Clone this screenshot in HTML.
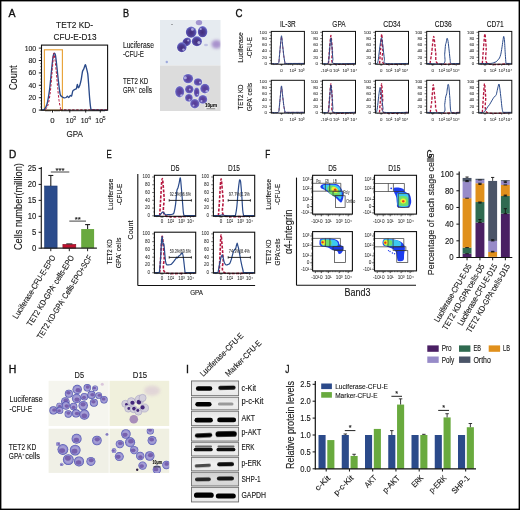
<!DOCTYPE html>
<html><head><meta charset="utf-8"><style>
html,body{margin:0;padding:0;background:#fff;overflow:hidden;width:520px;height:510px;}
svg{display:block;will-change:transform;}
text{font-family:"Liberation Sans", sans-serif;}
</style></head><body>
<svg width="520" height="510" viewBox="0 0 520 510" font-family='"Liberation Sans", sans-serif'>
<defs>
<filter id="bl" x="-50%" y="-50%" width="200%" height="200%"><feGaussianBlur stdDeviation="0.55"/></filter>
<filter id="bl3" x="-50%" y="-50%" width="200%" height="200%"><feGaussianBlur stdDeviation="0.75"/></filter>
<filter id="bl2" x="-50%" y="-50%" width="200%" height="200%"><feGaussianBlur stdDeviation="1.5"/></filter>
<radialGradient id="gB" cx="48%" cy="55%" r="50%"><stop offset="0" stop-color="#432e7c"/><stop offset="0.6" stop-color="#4e3e94"/><stop offset="0.86" stop-color="#5a56b2"/><stop offset="1" stop-color="#7476cc"/></radialGradient><radialGradient id="gB2" cx="50%" cy="50%" r="50%"><stop offset="0" stop-color="#563c94"/><stop offset="0.6" stop-color="#5e4aa6"/><stop offset="0.85" stop-color="#6a66be"/><stop offset="1" stop-color="#8486d6"/></radialGradient>
<radialGradient id="gH" cx="50%" cy="50%" r="50%"><stop offset="0" stop-color="#9c92cc"/><stop offset="0.55" stop-color="#a6a0d6"/><stop offset="0.78" stop-color="#8e8ace"/><stop offset="0.9" stop-color="#6668bc"/><stop offset="1" stop-color="#4e50a8"/></radialGradient>
<linearGradient id="gstrip" x1="0" y1="0" x2="0" y2="1"><stop offset="0" stop-color="#e2e2e2"/><stop offset="0.5" stop-color="#f0f0f0"/><stop offset="1" stop-color="#e8e8e8"/></linearGradient><linearGradient id="gstrip2" x1="0" y1="0" x2="0" y2="1"><stop offset="0" stop-color="#d0d0d0"/><stop offset="0.5" stop-color="#dcdcdc"/><stop offset="1" stop-color="#d4d4d4"/></linearGradient>
<clipPath id="clipB1"><rect x="160" y="20" width="60.5" height="45.5"/></clipPath>
<clipPath id="clipH1"><rect x="48.6" y="380.8" width="60.1" height="45.2"/></clipPath>
<clipPath id="clipH2"><rect x="109.5" y="380.8" width="59.7" height="45.2"/></clipPath>
<clipPath id="clipH3"><rect x="48.6" y="428.7" width="60.1" height="44.2"/></clipPath>
<clipPath id="clipH4"><rect x="109.5" y="428.7" width="59.7" height="44.2"/></clipPath>
</defs>
<rect width="520" height="510" fill="#fff"/>
<text x="8.60" y="16.80" font-size="10.61" textLength="7.00" lengthAdjust="spacingAndGlyphs" fill="#111" stroke="#111" stroke-width="0.35">A</text>
<text x="56.10" y="28.00" font-size="9.30" textLength="37.00" lengthAdjust="spacingAndGlyphs" fill="#161616" stroke="#161616" stroke-width="0.12">TET2 KD-</text>
<text x="53.50" y="39.50" font-size="9.30" textLength="43.00" lengthAdjust="spacingAndGlyphs" fill="#161616" stroke="#161616" stroke-width="0.12">CFU-E-D13</text>
<text x="36.20" y="112.60" font-size="7.84" text-anchor="end" textLength="3.85" lengthAdjust="spacingAndGlyphs" fill="#161616" stroke="#161616" stroke-width="0.12">0</text>
<line x1="38.80" y1="110.10" x2="41.50" y2="110.10" stroke="#111" stroke-width="0.9"/>
<text x="36.20" y="100.20" font-size="7.84" text-anchor="end" textLength="7.70" lengthAdjust="spacingAndGlyphs" fill="#161616" stroke="#161616" stroke-width="0.12">20</text>
<line x1="38.80" y1="97.70" x2="41.50" y2="97.70" stroke="#111" stroke-width="0.9"/>
<text x="36.20" y="87.80" font-size="7.84" text-anchor="end" textLength="7.70" lengthAdjust="spacingAndGlyphs" fill="#161616" stroke="#161616" stroke-width="0.12">40</text>
<line x1="38.80" y1="85.30" x2="41.50" y2="85.30" stroke="#111" stroke-width="0.9"/>
<text x="36.20" y="75.40" font-size="7.84" text-anchor="end" textLength="7.70" lengthAdjust="spacingAndGlyphs" fill="#161616" stroke="#161616" stroke-width="0.12">60</text>
<line x1="38.80" y1="72.90" x2="41.50" y2="72.90" stroke="#111" stroke-width="0.9"/>
<text x="36.20" y="63.00" font-size="7.84" text-anchor="end" textLength="7.70" lengthAdjust="spacingAndGlyphs" fill="#161616" stroke="#161616" stroke-width="0.12">80</text>
<line x1="38.80" y1="60.50" x2="41.50" y2="60.50" stroke="#111" stroke-width="0.9"/>
<text x="36.20" y="50.60" font-size="7.84" text-anchor="end" textLength="11.54" lengthAdjust="spacingAndGlyphs" fill="#161616" stroke="#161616" stroke-width="0.12">100</text>
<line x1="38.80" y1="48.10" x2="41.50" y2="48.10" stroke="#111" stroke-width="0.9"/>
<line x1="40.20" y1="110.10" x2="41.50" y2="110.10" stroke="#111" stroke-width="0.6"/>
<line x1="40.20" y1="107.00" x2="41.50" y2="107.00" stroke="#111" stroke-width="0.6"/>
<line x1="40.20" y1="103.90" x2="41.50" y2="103.90" stroke="#111" stroke-width="0.6"/>
<line x1="40.20" y1="100.80" x2="41.50" y2="100.80" stroke="#111" stroke-width="0.6"/>
<line x1="40.20" y1="97.70" x2="41.50" y2="97.70" stroke="#111" stroke-width="0.6"/>
<line x1="40.20" y1="94.60" x2="41.50" y2="94.60" stroke="#111" stroke-width="0.6"/>
<line x1="40.20" y1="91.50" x2="41.50" y2="91.50" stroke="#111" stroke-width="0.6"/>
<line x1="40.20" y1="88.40" x2="41.50" y2="88.40" stroke="#111" stroke-width="0.6"/>
<line x1="40.20" y1="85.30" x2="41.50" y2="85.30" stroke="#111" stroke-width="0.6"/>
<line x1="40.20" y1="82.20" x2="41.50" y2="82.20" stroke="#111" stroke-width="0.6"/>
<line x1="40.20" y1="79.10" x2="41.50" y2="79.10" stroke="#111" stroke-width="0.6"/>
<line x1="40.20" y1="76.00" x2="41.50" y2="76.00" stroke="#111" stroke-width="0.6"/>
<line x1="40.20" y1="72.90" x2="41.50" y2="72.90" stroke="#111" stroke-width="0.6"/>
<line x1="40.20" y1="69.80" x2="41.50" y2="69.80" stroke="#111" stroke-width="0.6"/>
<line x1="40.20" y1="66.70" x2="41.50" y2="66.70" stroke="#111" stroke-width="0.6"/>
<line x1="40.20" y1="63.60" x2="41.50" y2="63.60" stroke="#111" stroke-width="0.6"/>
<line x1="40.20" y1="60.50" x2="41.50" y2="60.50" stroke="#111" stroke-width="0.6"/>
<line x1="40.20" y1="57.40" x2="41.50" y2="57.40" stroke="#111" stroke-width="0.6"/>
<line x1="40.20" y1="54.30" x2="41.50" y2="54.30" stroke="#111" stroke-width="0.6"/>
<line x1="40.20" y1="51.20" x2="41.50" y2="51.20" stroke="#111" stroke-width="0.6"/>
<text x="17.30" y="77.70" font-size="10.30" text-anchor="middle" transform="rotate(-90 17.30 77.70)" textLength="24.70" lengthAdjust="spacingAndGlyphs" fill="#161616" stroke="#161616" stroke-width="0.12">Count</text>
<rect x="44.40" y="49.80" width="18.00" height="60.40" fill="none" stroke="#e8a238" stroke-width="1.15"/>
<path d="M42.00,109.91 C42.24,109.88 43.53,110.23 44.10,109.60 C44.67,108.97 46.26,106.89 46.90,104.52 C47.54,102.15 49.04,93.53 49.60,89.33 C50.16,85.13 51.30,72.33 51.70,68.56 C52.10,64.79 52.77,58.69 53.00,57.03 C53.23,55.36 53.50,54.73 53.70,54.30 C53.90,53.87 54.50,53.23 54.70,53.31 C54.90,53.39 55.19,53.82 55.40,54.98 C55.61,56.14 56.22,60.82 56.50,63.23 C56.78,65.64 57.48,72.75 57.80,75.63 C58.11,78.51 58.91,85.67 59.20,87.90 C59.49,90.14 59.97,93.74 60.30,94.79 C60.63,95.83 61.57,96.48 62.00,96.83 C62.43,97.19 63.52,97.74 64.00,97.82 C64.48,97.90 65.70,97.70 66.10,97.51 C66.50,97.33 67.09,96.21 67.40,96.21 C67.72,96.21 68.47,97.59 68.80,97.51 C69.13,97.43 69.87,95.72 70.20,95.53 C70.53,95.34 71.28,96.47 71.60,95.90 C71.91,95.34 72.50,91.46 72.90,90.69 C73.30,89.93 74.59,89.58 75.00,89.33 C75.41,89.08 76.13,89.15 76.40,88.59 C76.67,88.02 77.07,84.57 77.30,84.49 C77.53,84.41 78.11,87.82 78.40,87.90 C78.69,87.98 79.47,86.13 79.80,85.18 C80.13,84.22 80.89,81.32 81.20,79.72 C81.52,78.12 82.19,72.76 82.50,71.47 C82.81,70.19 83.57,69.49 83.90,68.68 C84.23,67.88 85.01,64.67 85.30,64.59 C85.59,64.51 86.11,66.88 86.40,68.00 C86.69,69.12 87.53,72.20 87.80,74.20 C88.07,76.21 88.48,82.29 88.70,85.18 C88.92,88.06 89.45,96.22 89.70,98.94 C89.95,101.66 90.51,107.21 90.80,108.49 C91.09,109.77 90.28,109.73 92.20,109.91 C94.12,110.10 105.54,110.08 107.30,110.10" stroke="#2a4a8a" stroke-width="1.35" fill="none" stroke-linejoin="round"/>
<path d="M45.50,109.60 C45.81,109.01 47.64,106.56 48.20,104.52 C48.76,102.48 49.81,96.32 50.30,92.12 C50.79,87.92 52.00,73.12 52.40,68.56 C52.80,64.00 53.39,54.00 53.70,53.06 C54.02,52.12 54.77,58.04 55.10,60.50 C55.43,62.96 56.19,70.78 56.50,74.14 C56.81,77.50 57.48,86.13 57.80,89.33 C58.11,92.53 58.87,99.40 59.20,101.61 C59.53,103.81 60.27,107.29 60.60,108.24 C60.93,109.19 56.59,109.61 62.00,109.79 C67.41,109.97 101.75,109.79 107.00,109.79" stroke="#b5173f" stroke-width="1.0" fill="none" stroke-dasharray="2.4,1.6"/>
<rect x="41.50" y="45.10" width="66.10" height="65.10" fill="none" stroke="#111" stroke-width="1.1"/>
<line x1="46.00" y1="110.20" x2="46.00" y2="111.60" stroke="#111" stroke-width="0.7"/>
<line x1="48.00" y1="110.20" x2="48.00" y2="111.60" stroke="#111" stroke-width="0.7"/>
<line x1="50.00" y1="110.20" x2="50.00" y2="111.60" stroke="#111" stroke-width="0.7"/>
<line x1="52.50" y1="110.20" x2="52.50" y2="111.60" stroke="#111" stroke-width="0.7"/>
<line x1="55.00" y1="110.20" x2="55.00" y2="111.60" stroke="#111" stroke-width="0.7"/>
<line x1="57.00" y1="110.20" x2="57.00" y2="111.60" stroke="#111" stroke-width="0.7"/>
<line x1="59.00" y1="110.20" x2="59.00" y2="111.60" stroke="#111" stroke-width="0.7"/>
<line x1="62.00" y1="110.20" x2="62.00" y2="111.60" stroke="#111" stroke-width="0.7"/>
<line x1="64.00" y1="110.20" x2="64.00" y2="111.60" stroke="#111" stroke-width="0.7"/>
<line x1="66.00" y1="110.20" x2="66.00" y2="111.60" stroke="#111" stroke-width="0.7"/>
<line x1="68.00" y1="110.20" x2="68.00" y2="111.60" stroke="#111" stroke-width="0.7"/>
<line x1="70.00" y1="110.20" x2="70.00" y2="111.60" stroke="#111" stroke-width="0.7"/>
<line x1="72.00" y1="110.20" x2="72.00" y2="111.60" stroke="#111" stroke-width="0.7"/>
<line x1="74.00" y1="110.20" x2="74.00" y2="111.60" stroke="#111" stroke-width="0.7"/>
<line x1="76.00" y1="110.20" x2="76.00" y2="111.60" stroke="#111" stroke-width="0.7"/>
<line x1="78.00" y1="110.20" x2="78.00" y2="111.60" stroke="#111" stroke-width="0.7"/>
<line x1="80.00" y1="110.20" x2="80.00" y2="111.60" stroke="#111" stroke-width="0.7"/>
<line x1="82.00" y1="110.20" x2="82.00" y2="111.60" stroke="#111" stroke-width="0.7"/>
<line x1="84.00" y1="110.20" x2="84.00" y2="111.60" stroke="#111" stroke-width="0.7"/>
<line x1="86.00" y1="110.20" x2="86.00" y2="111.60" stroke="#111" stroke-width="0.7"/>
<line x1="88.00" y1="110.20" x2="88.00" y2="111.60" stroke="#111" stroke-width="0.7"/>
<line x1="90.00" y1="110.20" x2="90.00" y2="111.60" stroke="#111" stroke-width="0.7"/>
<line x1="92.00" y1="110.20" x2="92.00" y2="111.60" stroke="#111" stroke-width="0.7"/>
<line x1="94.00" y1="110.20" x2="94.00" y2="111.60" stroke="#111" stroke-width="0.7"/>
<line x1="96.00" y1="110.20" x2="96.00" y2="111.60" stroke="#111" stroke-width="0.7"/>
<line x1="98.00" y1="110.20" x2="98.00" y2="111.60" stroke="#111" stroke-width="0.7"/>
<line x1="100.00" y1="110.20" x2="100.00" y2="111.60" stroke="#111" stroke-width="0.7"/>
<line x1="102.00" y1="110.20" x2="102.00" y2="111.60" stroke="#111" stroke-width="0.7"/>
<line x1="104.00" y1="110.20" x2="104.00" y2="111.60" stroke="#111" stroke-width="0.7"/>
<line x1="52.50" y1="110.20" x2="52.50" y2="112.60" stroke="#111" stroke-width="0.9"/>
<line x1="69.80" y1="110.20" x2="69.80" y2="112.60" stroke="#111" stroke-width="0.9"/>
<line x1="85.70" y1="110.20" x2="85.70" y2="112.60" stroke="#111" stroke-width="0.9"/>
<line x1="100.30" y1="110.20" x2="100.30" y2="112.60" stroke="#111" stroke-width="0.9"/>
<text x="52.50" y="123.20" font-size="7.84" text-anchor="middle" fill="#161616" stroke="#161616" stroke-width="0.12">0</text>
<text x="69.70" y="123.20" font-size="7.84" text-anchor="middle" textLength="7.70" lengthAdjust="spacingAndGlyphs" fill="#161616" stroke="#161616" stroke-width="0.12">10</text>
<text x="74.60" y="119.50" font-size="5.60" text-anchor="middle" fill="#161616" stroke="#161616" stroke-width="0.05">3</text>
<text x="84.60" y="123.20" font-size="7.84" text-anchor="middle" textLength="7.70" lengthAdjust="spacingAndGlyphs" fill="#161616" stroke="#161616" stroke-width="0.12">10</text>
<text x="89.50" y="119.50" font-size="5.60" text-anchor="middle" fill="#161616" stroke="#161616" stroke-width="0.05">4</text>
<text x="99.20" y="123.20" font-size="7.84" text-anchor="middle" textLength="7.70" lengthAdjust="spacingAndGlyphs" fill="#161616" stroke="#161616" stroke-width="0.12">10</text>
<text x="104.10" y="119.50" font-size="5.60" text-anchor="middle" fill="#161616" stroke="#161616" stroke-width="0.05">5</text>
<text x="66.60" y="136.60" font-size="8.96" textLength="16.30" lengthAdjust="spacingAndGlyphs" fill="#161616" stroke="#161616" stroke-width="0.12">GPA</text>
<text x="122.90" y="16.80" font-size="10.61" textLength="6.10" lengthAdjust="spacingAndGlyphs" fill="#111" stroke="#111" stroke-width="0.35">B</text>
<text x="122.90" y="48.20" font-size="8.51" textLength="31.00" lengthAdjust="spacingAndGlyphs" fill="#161616" stroke="#161616" stroke-width="0.12">Luciferase</text>
<text x="122.90" y="56.70" font-size="8.51" textLength="21.00" lengthAdjust="spacingAndGlyphs" fill="#161616" stroke="#161616" stroke-width="0.12">-CFU-E</text>
<text x="122.90" y="83.75" font-size="8.51" textLength="25.30" lengthAdjust="spacingAndGlyphs" fill="#161616" stroke="#161616" stroke-width="0.12">TET2 KD</text>
<text x="122.90" y="92.70" font-size="8.51" textLength="11.80" lengthAdjust="spacingAndGlyphs" fill="#161616" stroke="#161616" stroke-width="0.12">GPA</text>
<line x1="135.20" y1="87.90" x2="136.70" y2="87.90" stroke="#222" stroke-width="0.75"/>
<text x="138.80" y="92.70" font-size="8.51" textLength="13.20" lengthAdjust="spacingAndGlyphs" fill="#161616" stroke="#161616" stroke-width="0.12">cells</text>
<rect x="160.00" y="20.00" width="60.50" height="45.50" fill="#e6ebf0"/>
<rect x="160.00" y="65.50" width="60.50" height="45.50" fill="#dcdcdc"/>
<text x="235.60" y="16.90" font-size="10.61" textLength="7.00" lengthAdjust="spacingAndGlyphs" fill="#111" stroke="#111" stroke-width="0.35">C</text>
<text x="287.85" y="26.50" font-size="8.29" text-anchor="middle" textLength="15.80" lengthAdjust="spacingAndGlyphs" fill="#161616" stroke="#161616" stroke-width="0.12">IL-3R</text>
<text x="338.95" y="26.50" font-size="8.29" text-anchor="middle" textLength="13.20" lengthAdjust="spacingAndGlyphs" fill="#161616" stroke="#161616" stroke-width="0.12">GPA</text>
<text x="391.95" y="26.50" font-size="8.29" text-anchor="middle" textLength="17.40" lengthAdjust="spacingAndGlyphs" fill="#161616" stroke="#161616" stroke-width="0.12">CD34</text>
<text x="443.25" y="26.50" font-size="8.29" text-anchor="middle" textLength="17.00" lengthAdjust="spacingAndGlyphs" fill="#161616" stroke="#161616" stroke-width="0.12">CD36</text>
<text x="495.25" y="26.50" font-size="8.29" text-anchor="middle" textLength="17.00" lengthAdjust="spacingAndGlyphs" fill="#161616" stroke="#161616" stroke-width="0.12">CD71</text>
<text x="242.50" y="47.50" font-size="8.06" text-anchor="middle" transform="rotate(-90 242.50 47.50)" textLength="30.50" lengthAdjust="spacingAndGlyphs" fill="#161616" stroke="#161616" stroke-width="0.12">Luciferase</text>
<text x="251.50" y="47.50" font-size="8.06" text-anchor="middle" transform="rotate(-90 251.50 47.50)" textLength="21.00" lengthAdjust="spacingAndGlyphs" fill="#161616" stroke="#161616" stroke-width="0.12">-CFU-E</text>
<text x="242.50" y="97.00" font-size="8.06" text-anchor="middle" transform="rotate(-90 242.50 97.00)" textLength="25.00" lengthAdjust="spacingAndGlyphs" fill="#161616" stroke="#161616" stroke-width="0.12">TET2 KD</text>
<text x="251.50" y="97.00" font-size="8.06" text-anchor="middle" transform="rotate(-90 251.50 97.00)" textLength="28.00" lengthAdjust="spacingAndGlyphs" fill="#161616" stroke="#161616" stroke-width="0.12">GPA<tspan dy="-2.90" font-size="4.84">-</tspan><tspan dy="2.90"> cells</tspan></text>
<path d="M271.30,63.45 C272.22,63.45 277.13,64.24 278.20,63.45 C279.27,62.66 278.99,60.02 279.30,57.53 C279.61,55.04 280.21,47.57 280.50,44.78 C280.79,41.98 281.23,36.58 281.50,36.58 C281.77,36.58 282.19,42.19 282.50,44.78 C282.81,47.37 283.47,53.58 283.80,56.01 C284.13,58.44 284.73,62.00 285.00,62.99 C285.27,63.98 283.23,63.39 285.80,63.45 C288.37,63.51 301.83,63.45 304.30,63.45" stroke="#b5173f" stroke-width="0.8" fill="none" stroke-dasharray="2.8,1.6"/>
<path d="M271.30,63.44 C272.22,63.44 277.13,64.26 278.20,63.44 C279.27,62.63 278.99,59.91 279.30,57.34 C279.61,54.77 280.21,47.07 280.50,44.19 C280.79,41.31 281.23,35.74 281.50,35.74 C281.77,35.74 282.19,41.52 282.50,44.19 C282.81,46.86 283.47,53.27 283.80,55.77 C284.13,58.28 284.73,61.95 285.00,62.97 C285.27,64.00 283.23,63.38 285.80,63.44 C288.37,63.51 301.83,63.44 304.30,63.44" stroke="#2a4a8a" stroke-width="1.0" fill="none"/>
<rect x="271.30" y="31.40" width="33.10" height="32.80" fill="none" stroke="#111" stroke-width="1.0"/>
<text x="266.90" y="65.00" font-size="4.37" text-anchor="end" fill="#333" stroke="#333" stroke-width="0.05">0</text>
<line x1="269.10" y1="63.60" x2="271.30" y2="63.60" stroke="#111" stroke-width="0.6"/>
<text x="266.90" y="58.74" font-size="4.37" text-anchor="end" fill="#333" stroke="#333" stroke-width="0.05">20</text>
<line x1="269.10" y1="57.34" x2="271.30" y2="57.34" stroke="#111" stroke-width="0.6"/>
<text x="266.90" y="52.48" font-size="4.37" text-anchor="end" fill="#333" stroke="#333" stroke-width="0.05">40</text>
<line x1="269.10" y1="51.08" x2="271.30" y2="51.08" stroke="#111" stroke-width="0.6"/>
<text x="266.90" y="46.22" font-size="4.37" text-anchor="end" fill="#333" stroke="#333" stroke-width="0.05">60</text>
<line x1="269.10" y1="44.82" x2="271.30" y2="44.82" stroke="#111" stroke-width="0.6"/>
<text x="266.90" y="39.96" font-size="4.37" text-anchor="end" fill="#333" stroke="#333" stroke-width="0.05">80</text>
<line x1="269.10" y1="38.56" x2="271.30" y2="38.56" stroke="#111" stroke-width="0.6"/>
<text x="266.90" y="33.70" font-size="4.37" text-anchor="end" fill="#333" stroke="#333" stroke-width="0.05">100</text>
<line x1="269.10" y1="32.30" x2="271.30" y2="32.30" stroke="#111" stroke-width="0.6"/>
<line x1="270.10" y1="60.47" x2="271.30" y2="60.47" stroke="#111" stroke-width="0.5"/>
<line x1="270.10" y1="54.21" x2="271.30" y2="54.21" stroke="#111" stroke-width="0.5"/>
<line x1="270.10" y1="47.95" x2="271.30" y2="47.95" stroke="#111" stroke-width="0.5"/>
<line x1="270.10" y1="41.69" x2="271.30" y2="41.69" stroke="#111" stroke-width="0.5"/>
<line x1="270.10" y1="35.43" x2="271.30" y2="35.43" stroke="#111" stroke-width="0.5"/>
<line x1="281.50" y1="64.20" x2="281.50" y2="65.80" stroke="#111" stroke-width="0.6"/>
<line x1="280.30" y1="64.20" x2="280.30" y2="65.20" stroke="#111" stroke-width="0.45"/>
<line x1="280.90" y1="64.20" x2="280.90" y2="65.20" stroke="#111" stroke-width="0.45"/>
<line x1="282.10" y1="64.20" x2="282.10" y2="65.20" stroke="#111" stroke-width="0.45"/>
<line x1="282.70" y1="64.20" x2="282.70" y2="65.20" stroke="#111" stroke-width="0.45"/>
<text x="281.50" y="72.20" font-size="4.37" text-anchor="middle" fill="#333" stroke="#333" stroke-width="0.05">0</text>
<line x1="292.70" y1="64.20" x2="292.70" y2="65.80" stroke="#111" stroke-width="0.6"/>
<text x="292.70" y="72.20" font-size="4.37" text-anchor="middle" fill="#333" stroke="#333" stroke-width="0.05">10&#178;</text>
<line x1="301.30" y1="64.20" x2="301.30" y2="65.80" stroke="#111" stroke-width="0.6"/>
<text x="301.30" y="72.20" font-size="4.37" text-anchor="middle" fill="#333" stroke="#333" stroke-width="0.05">10&#179;</text>
<line x1="273.80" y1="64.20" x2="273.80" y2="65.10" stroke="#111" stroke-width="0.45"/>
<line x1="288.30" y1="64.20" x2="288.30" y2="65.10" stroke="#111" stroke-width="0.45"/>
<line x1="290.30" y1="64.20" x2="290.30" y2="65.10" stroke="#111" stroke-width="0.45"/>
<line x1="297.30" y1="64.20" x2="297.30" y2="65.10" stroke="#111" stroke-width="0.45"/>
<line x1="299.30" y1="64.20" x2="299.30" y2="65.10" stroke="#111" stroke-width="0.45"/>
<path d="M328.40,63.60 C328.53,61.93 329.07,54.84 329.40,51.08 C329.73,47.32 330.50,35.43 330.90,35.43 C331.30,35.43 332.07,47.32 332.40,51.08 C332.73,54.84 330.33,61.93 333.40,63.60 C336.47,65.27 352.47,63.60 355.40,63.60" stroke="#b5173f" stroke-width="1.35" fill="none" stroke-dasharray="2.8,1.6"/>
<path d="M322.40,63.44 C323.13,63.44 327.03,64.05 327.90,63.44 C328.77,62.84 328.63,61.18 328.90,58.90 C329.17,56.63 329.63,49.18 329.90,46.38 C330.17,43.59 330.63,37.93 330.90,37.93 C331.17,37.93 331.63,43.59 331.90,46.38 C332.17,49.18 332.63,56.63 332.90,58.90 C333.17,61.18 330.90,62.84 333.90,63.44 C336.90,64.05 352.53,63.44 355.40,63.44" stroke="#2a4a8a" stroke-width="1.0" fill="none"/>
<rect x="322.40" y="31.40" width="33.10" height="32.80" fill="none" stroke="#111" stroke-width="1.0"/>
<text x="318.00" y="65.00" font-size="4.37" text-anchor="end" fill="#333" stroke="#333" stroke-width="0.05">0</text>
<line x1="320.20" y1="63.60" x2="322.40" y2="63.60" stroke="#111" stroke-width="0.6"/>
<text x="318.00" y="58.74" font-size="4.37" text-anchor="end" fill="#333" stroke="#333" stroke-width="0.05">20</text>
<line x1="320.20" y1="57.34" x2="322.40" y2="57.34" stroke="#111" stroke-width="0.6"/>
<text x="318.00" y="52.48" font-size="4.37" text-anchor="end" fill="#333" stroke="#333" stroke-width="0.05">40</text>
<line x1="320.20" y1="51.08" x2="322.40" y2="51.08" stroke="#111" stroke-width="0.6"/>
<text x="318.00" y="46.22" font-size="4.37" text-anchor="end" fill="#333" stroke="#333" stroke-width="0.05">60</text>
<line x1="320.20" y1="44.82" x2="322.40" y2="44.82" stroke="#111" stroke-width="0.6"/>
<text x="318.00" y="39.96" font-size="4.37" text-anchor="end" fill="#333" stroke="#333" stroke-width="0.05">80</text>
<line x1="320.20" y1="38.56" x2="322.40" y2="38.56" stroke="#111" stroke-width="0.6"/>
<text x="318.00" y="33.70" font-size="4.37" text-anchor="end" fill="#333" stroke="#333" stroke-width="0.05">100</text>
<line x1="320.20" y1="32.30" x2="322.40" y2="32.30" stroke="#111" stroke-width="0.6"/>
<line x1="321.20" y1="60.47" x2="322.40" y2="60.47" stroke="#111" stroke-width="0.5"/>
<line x1="321.20" y1="54.21" x2="322.40" y2="54.21" stroke="#111" stroke-width="0.5"/>
<line x1="321.20" y1="47.95" x2="322.40" y2="47.95" stroke="#111" stroke-width="0.5"/>
<line x1="321.20" y1="41.69" x2="322.40" y2="41.69" stroke="#111" stroke-width="0.5"/>
<line x1="321.20" y1="35.43" x2="322.40" y2="35.43" stroke="#111" stroke-width="0.5"/>
<line x1="324.70" y1="64.20" x2="324.70" y2="65.80" stroke="#111" stroke-width="0.6"/>
<text x="324.70" y="72.20" font-size="4.37" text-anchor="middle" fill="#333" stroke="#333" stroke-width="0.05">-10&#185;</text>
<line x1="330.60" y1="64.20" x2="330.60" y2="65.80" stroke="#111" stroke-width="0.6"/>
<line x1="329.40" y1="64.20" x2="329.40" y2="65.20" stroke="#111" stroke-width="0.45"/>
<line x1="330.00" y1="64.20" x2="330.00" y2="65.20" stroke="#111" stroke-width="0.45"/>
<line x1="331.20" y1="64.20" x2="331.20" y2="65.20" stroke="#111" stroke-width="0.45"/>
<line x1="331.80" y1="64.20" x2="331.80" y2="65.20" stroke="#111" stroke-width="0.45"/>
<text x="330.60" y="72.20" font-size="4.37" text-anchor="middle" fill="#333" stroke="#333" stroke-width="0.05">0</text>
<line x1="336.20" y1="64.20" x2="336.20" y2="65.80" stroke="#111" stroke-width="0.6"/>
<text x="336.20" y="72.20" font-size="4.37" text-anchor="middle" fill="#333" stroke="#333" stroke-width="0.05">10&#185;</text>
<line x1="345.60" y1="64.20" x2="345.60" y2="65.80" stroke="#111" stroke-width="0.6"/>
<text x="345.60" y="72.20" font-size="4.37" text-anchor="middle" fill="#333" stroke="#333" stroke-width="0.05">10&#179;</text>
<line x1="353.70" y1="64.20" x2="353.70" y2="65.80" stroke="#111" stroke-width="0.6"/>
<text x="353.70" y="72.20" font-size="4.37" text-anchor="middle" fill="#333" stroke="#333" stroke-width="0.05">10&#8308;</text>
<line x1="324.90" y1="64.20" x2="324.90" y2="65.10" stroke="#111" stroke-width="0.45"/>
<line x1="339.40" y1="64.20" x2="339.40" y2="65.10" stroke="#111" stroke-width="0.45"/>
<line x1="341.40" y1="64.20" x2="341.40" y2="65.10" stroke="#111" stroke-width="0.45"/>
<line x1="348.40" y1="64.20" x2="348.40" y2="65.10" stroke="#111" stroke-width="0.45"/>
<line x1="350.40" y1="64.20" x2="350.40" y2="65.10" stroke="#111" stroke-width="0.45"/>
<path d="M379.60,63.60 C379.73,61.72 380.32,53.44 380.60,49.51 C380.88,45.59 381.41,34.18 381.70,34.18 C381.99,34.18 382.51,45.59 382.80,49.51 C383.09,53.44 380.49,61.72 383.90,63.60 C387.31,65.48 405.13,63.60 408.40,63.60" stroke="#b5173f" stroke-width="1.35" fill="none" stroke-dasharray="2.8,1.6"/>
<path d="M375.40,63.44 C375.65,63.44 376.90,64.05 377.30,63.44 C377.70,62.84 378.05,61.18 378.40,58.90 C378.75,56.63 379.49,49.22 379.90,46.38 C380.31,43.55 381.10,37.62 381.50,37.62 C381.90,37.62 382.51,43.55 382.90,46.38 C383.29,49.22 384.01,56.63 384.40,58.90 C384.79,61.18 382.60,62.84 385.80,63.44 C389.00,64.05 405.39,63.44 408.40,63.44" stroke="#2a4a8a" stroke-width="1.0" fill="none"/>
<rect x="375.40" y="31.40" width="33.10" height="32.80" fill="none" stroke="#111" stroke-width="1.0"/>
<text x="371.00" y="65.00" font-size="4.37" text-anchor="end" fill="#333" stroke="#333" stroke-width="0.05">0</text>
<line x1="373.20" y1="63.60" x2="375.40" y2="63.60" stroke="#111" stroke-width="0.6"/>
<text x="371.00" y="58.74" font-size="4.37" text-anchor="end" fill="#333" stroke="#333" stroke-width="0.05">20</text>
<line x1="373.20" y1="57.34" x2="375.40" y2="57.34" stroke="#111" stroke-width="0.6"/>
<text x="371.00" y="52.48" font-size="4.37" text-anchor="end" fill="#333" stroke="#333" stroke-width="0.05">40</text>
<line x1="373.20" y1="51.08" x2="375.40" y2="51.08" stroke="#111" stroke-width="0.6"/>
<text x="371.00" y="46.22" font-size="4.37" text-anchor="end" fill="#333" stroke="#333" stroke-width="0.05">60</text>
<line x1="373.20" y1="44.82" x2="375.40" y2="44.82" stroke="#111" stroke-width="0.6"/>
<text x="371.00" y="39.96" font-size="4.37" text-anchor="end" fill="#333" stroke="#333" stroke-width="0.05">80</text>
<line x1="373.20" y1="38.56" x2="375.40" y2="38.56" stroke="#111" stroke-width="0.6"/>
<text x="371.00" y="33.70" font-size="4.37" text-anchor="end" fill="#333" stroke="#333" stroke-width="0.05">100</text>
<line x1="373.20" y1="32.30" x2="375.40" y2="32.30" stroke="#111" stroke-width="0.6"/>
<line x1="374.20" y1="60.47" x2="375.40" y2="60.47" stroke="#111" stroke-width="0.5"/>
<line x1="374.20" y1="54.21" x2="375.40" y2="54.21" stroke="#111" stroke-width="0.5"/>
<line x1="374.20" y1="47.95" x2="375.40" y2="47.95" stroke="#111" stroke-width="0.5"/>
<line x1="374.20" y1="41.69" x2="375.40" y2="41.69" stroke="#111" stroke-width="0.5"/>
<line x1="374.20" y1="35.43" x2="375.40" y2="35.43" stroke="#111" stroke-width="0.5"/>
<line x1="381.20" y1="64.20" x2="381.20" y2="65.80" stroke="#111" stroke-width="0.6"/>
<line x1="380.00" y1="64.20" x2="380.00" y2="65.20" stroke="#111" stroke-width="0.45"/>
<line x1="380.60" y1="64.20" x2="380.60" y2="65.20" stroke="#111" stroke-width="0.45"/>
<line x1="381.80" y1="64.20" x2="381.80" y2="65.20" stroke="#111" stroke-width="0.45"/>
<line x1="382.40" y1="64.20" x2="382.40" y2="65.20" stroke="#111" stroke-width="0.45"/>
<text x="381.20" y="72.20" font-size="4.37" text-anchor="middle" fill="#333" stroke="#333" stroke-width="0.05">0</text>
<line x1="389.00" y1="64.20" x2="389.00" y2="65.80" stroke="#111" stroke-width="0.6"/>
<text x="389.00" y="72.20" font-size="4.37" text-anchor="middle" fill="#333" stroke="#333" stroke-width="0.05">10&#178;</text>
<line x1="397.40" y1="64.20" x2="397.40" y2="65.80" stroke="#111" stroke-width="0.6"/>
<text x="397.40" y="72.20" font-size="4.37" text-anchor="middle" fill="#333" stroke="#333" stroke-width="0.05">10&#179;</text>
<line x1="405.00" y1="64.20" x2="405.00" y2="65.80" stroke="#111" stroke-width="0.6"/>
<text x="405.00" y="72.20" font-size="4.37" text-anchor="middle" fill="#333" stroke="#333" stroke-width="0.05">10&#8308;</text>
<line x1="377.90" y1="64.20" x2="377.90" y2="65.10" stroke="#111" stroke-width="0.45"/>
<line x1="392.40" y1="64.20" x2="392.40" y2="65.10" stroke="#111" stroke-width="0.45"/>
<line x1="394.40" y1="64.20" x2="394.40" y2="65.10" stroke="#111" stroke-width="0.45"/>
<line x1="401.40" y1="64.20" x2="401.40" y2="65.10" stroke="#111" stroke-width="0.45"/>
<line x1="403.40" y1="64.20" x2="403.40" y2="65.10" stroke="#111" stroke-width="0.45"/>
<path d="M430.00,63.60 C430.23,62.14 431.21,56.28 431.70,52.64 C432.19,49.01 433.17,36.37 433.70,36.37 C434.23,36.37 435.15,49.01 435.70,52.64 C436.25,56.28 434.60,62.14 437.80,63.60 C441.00,65.06 456.78,63.60 459.70,63.60" stroke="#b5173f" stroke-width="1.35" fill="none" stroke-dasharray="2.8,1.6"/>
<path d="M426.70,63.44 C428.97,63.44 441.30,64.67 443.70,63.44 C446.10,62.21 444.46,56.69 444.70,54.21 C444.94,51.73 445.31,46.32 445.50,44.82 C445.69,43.32 445.89,43.82 446.10,42.94 C446.31,42.07 446.83,38.41 447.10,38.25 C447.37,38.08 447.82,39.98 448.10,41.69 C448.38,43.40 448.92,48.58 449.20,51.08 C449.48,53.58 449.93,58.82 450.20,60.47 C450.47,62.12 449.93,63.05 451.20,63.44 C452.47,63.84 458.57,63.44 459.70,63.44" stroke="#2a4a8a" stroke-width="1.0" fill="none"/>
<rect x="426.70" y="31.40" width="33.10" height="32.80" fill="none" stroke="#111" stroke-width="1.0"/>
<text x="422.30" y="65.00" font-size="4.37" text-anchor="end" fill="#333" stroke="#333" stroke-width="0.05">0</text>
<line x1="424.50" y1="63.60" x2="426.70" y2="63.60" stroke="#111" stroke-width="0.6"/>
<text x="422.30" y="58.74" font-size="4.37" text-anchor="end" fill="#333" stroke="#333" stroke-width="0.05">20</text>
<line x1="424.50" y1="57.34" x2="426.70" y2="57.34" stroke="#111" stroke-width="0.6"/>
<text x="422.30" y="52.48" font-size="4.37" text-anchor="end" fill="#333" stroke="#333" stroke-width="0.05">40</text>
<line x1="424.50" y1="51.08" x2="426.70" y2="51.08" stroke="#111" stroke-width="0.6"/>
<text x="422.30" y="46.22" font-size="4.37" text-anchor="end" fill="#333" stroke="#333" stroke-width="0.05">60</text>
<line x1="424.50" y1="44.82" x2="426.70" y2="44.82" stroke="#111" stroke-width="0.6"/>
<text x="422.30" y="39.96" font-size="4.37" text-anchor="end" fill="#333" stroke="#333" stroke-width="0.05">80</text>
<line x1="424.50" y1="38.56" x2="426.70" y2="38.56" stroke="#111" stroke-width="0.6"/>
<text x="422.30" y="33.70" font-size="4.37" text-anchor="end" fill="#333" stroke="#333" stroke-width="0.05">100</text>
<line x1="424.50" y1="32.30" x2="426.70" y2="32.30" stroke="#111" stroke-width="0.6"/>
<line x1="425.50" y1="60.47" x2="426.70" y2="60.47" stroke="#111" stroke-width="0.5"/>
<line x1="425.50" y1="54.21" x2="426.70" y2="54.21" stroke="#111" stroke-width="0.5"/>
<line x1="425.50" y1="47.95" x2="426.70" y2="47.95" stroke="#111" stroke-width="0.5"/>
<line x1="425.50" y1="41.69" x2="426.70" y2="41.69" stroke="#111" stroke-width="0.5"/>
<line x1="425.50" y1="35.43" x2="426.70" y2="35.43" stroke="#111" stroke-width="0.5"/>
<line x1="432.70" y1="64.20" x2="432.70" y2="65.80" stroke="#111" stroke-width="0.6"/>
<line x1="431.50" y1="64.20" x2="431.50" y2="65.20" stroke="#111" stroke-width="0.45"/>
<line x1="432.10" y1="64.20" x2="432.10" y2="65.20" stroke="#111" stroke-width="0.45"/>
<line x1="433.30" y1="64.20" x2="433.30" y2="65.20" stroke="#111" stroke-width="0.45"/>
<line x1="433.90" y1="64.20" x2="433.90" y2="65.20" stroke="#111" stroke-width="0.45"/>
<text x="432.70" y="72.20" font-size="4.37" text-anchor="middle" fill="#333" stroke="#333" stroke-width="0.05">0</text>
<line x1="441.70" y1="64.20" x2="441.70" y2="65.80" stroke="#111" stroke-width="0.6"/>
<text x="441.70" y="72.20" font-size="4.37" text-anchor="middle" fill="#333" stroke="#333" stroke-width="0.05">10&#178;</text>
<line x1="448.80" y1="64.20" x2="448.80" y2="65.80" stroke="#111" stroke-width="0.6"/>
<text x="448.80" y="72.20" font-size="4.37" text-anchor="middle" fill="#333" stroke="#333" stroke-width="0.05">10&#179;</text>
<line x1="456.20" y1="64.20" x2="456.20" y2="65.80" stroke="#111" stroke-width="0.6"/>
<text x="456.20" y="72.20" font-size="4.37" text-anchor="middle" fill="#333" stroke="#333" stroke-width="0.05">10&#8308;</text>
<line x1="429.20" y1="64.20" x2="429.20" y2="65.10" stroke="#111" stroke-width="0.45"/>
<line x1="443.70" y1="64.20" x2="443.70" y2="65.10" stroke="#111" stroke-width="0.45"/>
<line x1="445.70" y1="64.20" x2="445.70" y2="65.10" stroke="#111" stroke-width="0.45"/>
<line x1="452.70" y1="64.20" x2="452.70" y2="65.10" stroke="#111" stroke-width="0.45"/>
<line x1="454.70" y1="64.20" x2="454.70" y2="65.10" stroke="#111" stroke-width="0.45"/>
<path d="M482.30,63.60 C482.46,61.51 483.15,51.91 483.50,47.95 C483.85,43.99 484.54,33.86 484.90,33.86 C485.26,33.86 485.85,43.99 486.20,47.95 C486.55,51.91 484.10,61.51 487.50,63.60 C490.90,65.69 508.47,63.60 511.70,63.60" stroke="#b5173f" stroke-width="1.35" fill="none" stroke-dasharray="2.8,1.6"/>
<path d="M478.70,63.44 C480.27,63.44 488.50,63.55 490.50,63.44 C492.50,63.34 492.94,62.89 493.70,62.66 C494.46,62.43 495.63,62.10 496.20,61.72 C496.77,61.35 497.56,60.34 498.00,59.84 C498.44,59.34 499.13,58.72 499.50,57.97 C499.87,57.21 500.48,55.55 500.80,54.21 C501.12,52.87 501.62,49.70 501.90,47.95 C502.18,46.20 502.66,42.61 502.90,41.06 C503.14,39.52 503.49,36.37 503.70,36.37 C503.91,36.37 504.29,38.69 504.50,41.06 C504.71,43.44 505.10,51.25 505.30,54.21 C505.50,57.17 505.81,62.06 506.00,63.29 C506.19,64.52 505.94,63.42 506.70,63.44 C507.46,63.46 511.03,63.44 511.70,63.44" stroke="#2a4a8a" stroke-width="1.0" fill="none"/>
<rect x="478.70" y="31.40" width="33.10" height="32.80" fill="none" stroke="#111" stroke-width="1.0"/>
<text x="474.30" y="65.00" font-size="4.37" text-anchor="end" fill="#333" stroke="#333" stroke-width="0.05">0</text>
<line x1="476.50" y1="63.60" x2="478.70" y2="63.60" stroke="#111" stroke-width="0.6"/>
<text x="474.30" y="58.74" font-size="4.37" text-anchor="end" fill="#333" stroke="#333" stroke-width="0.05">20</text>
<line x1="476.50" y1="57.34" x2="478.70" y2="57.34" stroke="#111" stroke-width="0.6"/>
<text x="474.30" y="52.48" font-size="4.37" text-anchor="end" fill="#333" stroke="#333" stroke-width="0.05">40</text>
<line x1="476.50" y1="51.08" x2="478.70" y2="51.08" stroke="#111" stroke-width="0.6"/>
<text x="474.30" y="46.22" font-size="4.37" text-anchor="end" fill="#333" stroke="#333" stroke-width="0.05">60</text>
<line x1="476.50" y1="44.82" x2="478.70" y2="44.82" stroke="#111" stroke-width="0.6"/>
<text x="474.30" y="39.96" font-size="4.37" text-anchor="end" fill="#333" stroke="#333" stroke-width="0.05">80</text>
<line x1="476.50" y1="38.56" x2="478.70" y2="38.56" stroke="#111" stroke-width="0.6"/>
<text x="474.30" y="33.70" font-size="4.37" text-anchor="end" fill="#333" stroke="#333" stroke-width="0.05">100</text>
<line x1="476.50" y1="32.30" x2="478.70" y2="32.30" stroke="#111" stroke-width="0.6"/>
<line x1="477.50" y1="60.47" x2="478.70" y2="60.47" stroke="#111" stroke-width="0.5"/>
<line x1="477.50" y1="54.21" x2="478.70" y2="54.21" stroke="#111" stroke-width="0.5"/>
<line x1="477.50" y1="47.95" x2="478.70" y2="47.95" stroke="#111" stroke-width="0.5"/>
<line x1="477.50" y1="41.69" x2="478.70" y2="41.69" stroke="#111" stroke-width="0.5"/>
<line x1="477.50" y1="35.43" x2="478.70" y2="35.43" stroke="#111" stroke-width="0.5"/>
<line x1="485.00" y1="64.20" x2="485.00" y2="65.80" stroke="#111" stroke-width="0.6"/>
<line x1="483.80" y1="64.20" x2="483.80" y2="65.20" stroke="#111" stroke-width="0.45"/>
<line x1="484.40" y1="64.20" x2="484.40" y2="65.20" stroke="#111" stroke-width="0.45"/>
<line x1="485.60" y1="64.20" x2="485.60" y2="65.20" stroke="#111" stroke-width="0.45"/>
<line x1="486.20" y1="64.20" x2="486.20" y2="65.20" stroke="#111" stroke-width="0.45"/>
<text x="485.00" y="72.20" font-size="4.37" text-anchor="middle" fill="#333" stroke="#333" stroke-width="0.05">0</text>
<line x1="493.00" y1="64.20" x2="493.00" y2="65.80" stroke="#111" stroke-width="0.6"/>
<text x="493.00" y="72.20" font-size="4.37" text-anchor="middle" fill="#333" stroke="#333" stroke-width="0.05">10&#178;</text>
<line x1="501.70" y1="64.20" x2="501.70" y2="65.80" stroke="#111" stroke-width="0.6"/>
<text x="501.70" y="72.20" font-size="4.37" text-anchor="middle" fill="#333" stroke="#333" stroke-width="0.05">10&#179;</text>
<line x1="508.80" y1="64.20" x2="508.80" y2="65.80" stroke="#111" stroke-width="0.6"/>
<text x="508.80" y="72.20" font-size="4.37" text-anchor="middle" fill="#333" stroke="#333" stroke-width="0.05">10&#8308;</text>
<line x1="481.20" y1="64.20" x2="481.20" y2="65.10" stroke="#111" stroke-width="0.45"/>
<line x1="495.70" y1="64.20" x2="495.70" y2="65.10" stroke="#111" stroke-width="0.45"/>
<line x1="497.70" y1="64.20" x2="497.70" y2="65.10" stroke="#111" stroke-width="0.45"/>
<line x1="504.70" y1="64.20" x2="504.70" y2="65.10" stroke="#111" stroke-width="0.45"/>
<line x1="506.70" y1="64.20" x2="506.70" y2="65.10" stroke="#111" stroke-width="0.45"/>
<path d="M271.30,112.35 C272.22,112.35 277.13,113.06 278.20,112.35 C279.27,111.64 278.99,109.36 279.30,107.04 C279.61,104.71 280.21,97.60 280.50,94.89 C280.79,92.18 281.23,86.69 281.50,86.69 C281.77,86.69 282.19,92.34 282.50,94.89 C282.81,97.44 283.47,103.55 283.80,105.82 C284.13,108.09 284.73,111.02 285.00,111.89 C285.27,112.76 283.23,112.29 285.80,112.35 C288.37,112.41 301.83,112.35 304.30,112.35" stroke="#b5173f" stroke-width="0.8" fill="none" stroke-dasharray="2.8,1.6"/>
<path d="M271.30,112.34 C272.22,112.34 277.13,113.07 278.20,112.34 C279.27,111.61 278.99,109.27 279.30,106.87 C279.61,104.47 280.21,97.14 280.50,94.35 C280.79,91.55 281.23,85.90 281.50,85.90 C281.77,85.90 282.19,91.72 282.50,94.35 C282.81,96.98 283.47,103.28 283.80,105.61 C284.13,107.95 284.73,110.98 285.00,111.87 C285.27,112.77 283.23,112.28 285.80,112.34 C288.37,112.41 301.83,112.34 304.30,112.34" stroke="#2a4a8a" stroke-width="1.0" fill="none"/>
<rect x="271.30" y="80.30" width="33.10" height="32.80" fill="none" stroke="#111" stroke-width="1.0"/>
<text x="266.90" y="113.90" font-size="4.37" text-anchor="end" fill="#333" stroke="#333" stroke-width="0.05">0</text>
<line x1="269.10" y1="112.50" x2="271.30" y2="112.50" stroke="#111" stroke-width="0.6"/>
<text x="266.90" y="107.64" font-size="4.37" text-anchor="end" fill="#333" stroke="#333" stroke-width="0.05">20</text>
<line x1="269.10" y1="106.24" x2="271.30" y2="106.24" stroke="#111" stroke-width="0.6"/>
<text x="266.90" y="101.38" font-size="4.37" text-anchor="end" fill="#333" stroke="#333" stroke-width="0.05">40</text>
<line x1="269.10" y1="99.98" x2="271.30" y2="99.98" stroke="#111" stroke-width="0.6"/>
<text x="266.90" y="95.12" font-size="4.37" text-anchor="end" fill="#333" stroke="#333" stroke-width="0.05">60</text>
<line x1="269.10" y1="93.72" x2="271.30" y2="93.72" stroke="#111" stroke-width="0.6"/>
<text x="266.90" y="88.86" font-size="4.37" text-anchor="end" fill="#333" stroke="#333" stroke-width="0.05">80</text>
<line x1="269.10" y1="87.46" x2="271.30" y2="87.46" stroke="#111" stroke-width="0.6"/>
<text x="266.90" y="82.60" font-size="4.37" text-anchor="end" fill="#333" stroke="#333" stroke-width="0.05">100</text>
<line x1="269.10" y1="81.20" x2="271.30" y2="81.20" stroke="#111" stroke-width="0.6"/>
<line x1="270.10" y1="109.37" x2="271.30" y2="109.37" stroke="#111" stroke-width="0.5"/>
<line x1="270.10" y1="103.11" x2="271.30" y2="103.11" stroke="#111" stroke-width="0.5"/>
<line x1="270.10" y1="96.85" x2="271.30" y2="96.85" stroke="#111" stroke-width="0.5"/>
<line x1="270.10" y1="90.59" x2="271.30" y2="90.59" stroke="#111" stroke-width="0.5"/>
<line x1="270.10" y1="84.33" x2="271.30" y2="84.33" stroke="#111" stroke-width="0.5"/>
<line x1="281.50" y1="113.10" x2="281.50" y2="114.70" stroke="#111" stroke-width="0.6"/>
<line x1="280.30" y1="113.10" x2="280.30" y2="114.10" stroke="#111" stroke-width="0.45"/>
<line x1="280.90" y1="113.10" x2="280.90" y2="114.10" stroke="#111" stroke-width="0.45"/>
<line x1="282.10" y1="113.10" x2="282.10" y2="114.10" stroke="#111" stroke-width="0.45"/>
<line x1="282.70" y1="113.10" x2="282.70" y2="114.10" stroke="#111" stroke-width="0.45"/>
<text x="281.50" y="121.10" font-size="4.37" text-anchor="middle" fill="#333" stroke="#333" stroke-width="0.05">0</text>
<line x1="292.70" y1="113.10" x2="292.70" y2="114.70" stroke="#111" stroke-width="0.6"/>
<text x="292.70" y="121.10" font-size="4.37" text-anchor="middle" fill="#333" stroke="#333" stroke-width="0.05">10&#178;</text>
<line x1="301.30" y1="113.10" x2="301.30" y2="114.70" stroke="#111" stroke-width="0.6"/>
<text x="301.30" y="121.10" font-size="4.37" text-anchor="middle" fill="#333" stroke="#333" stroke-width="0.05">10&#179;</text>
<line x1="273.80" y1="113.10" x2="273.80" y2="114.00" stroke="#111" stroke-width="0.45"/>
<line x1="288.30" y1="113.10" x2="288.30" y2="114.00" stroke="#111" stroke-width="0.45"/>
<line x1="290.30" y1="113.10" x2="290.30" y2="114.00" stroke="#111" stroke-width="0.45"/>
<line x1="297.30" y1="113.10" x2="297.30" y2="114.00" stroke="#111" stroke-width="0.45"/>
<line x1="299.30" y1="113.10" x2="299.30" y2="114.00" stroke="#111" stroke-width="0.45"/>
<path d="M328.40,112.50 C328.53,110.83 329.07,103.82 329.40,99.98 C329.73,96.14 330.50,83.70 330.90,83.70 C331.30,83.70 332.07,96.14 332.40,99.98 C332.73,103.82 330.33,110.83 333.40,112.50 C336.47,114.17 352.47,112.50 355.40,112.50" stroke="#b5173f" stroke-width="1.35" fill="none" stroke-dasharray="2.8,1.6"/>
<path d="M322.40,112.34 C323.13,112.34 327.03,112.95 327.90,112.34 C328.77,111.74 328.63,110.20 328.90,107.81 C329.17,105.41 329.63,97.39 329.90,94.35 C330.17,91.30 330.63,84.96 330.90,84.96 C331.17,84.96 331.63,91.30 331.90,94.35 C332.17,97.39 332.63,105.41 332.90,107.81 C333.17,110.20 330.90,111.74 333.90,112.34 C336.90,112.95 352.53,112.34 355.40,112.34" stroke="#2a4a8a" stroke-width="1.0" fill="none"/>
<rect x="322.40" y="80.30" width="33.10" height="32.80" fill="none" stroke="#111" stroke-width="1.0"/>
<text x="318.00" y="113.90" font-size="4.37" text-anchor="end" fill="#333" stroke="#333" stroke-width="0.05">0</text>
<line x1="320.20" y1="112.50" x2="322.40" y2="112.50" stroke="#111" stroke-width="0.6"/>
<text x="318.00" y="107.64" font-size="4.37" text-anchor="end" fill="#333" stroke="#333" stroke-width="0.05">20</text>
<line x1="320.20" y1="106.24" x2="322.40" y2="106.24" stroke="#111" stroke-width="0.6"/>
<text x="318.00" y="101.38" font-size="4.37" text-anchor="end" fill="#333" stroke="#333" stroke-width="0.05">40</text>
<line x1="320.20" y1="99.98" x2="322.40" y2="99.98" stroke="#111" stroke-width="0.6"/>
<text x="318.00" y="95.12" font-size="4.37" text-anchor="end" fill="#333" stroke="#333" stroke-width="0.05">60</text>
<line x1="320.20" y1="93.72" x2="322.40" y2="93.72" stroke="#111" stroke-width="0.6"/>
<text x="318.00" y="88.86" font-size="4.37" text-anchor="end" fill="#333" stroke="#333" stroke-width="0.05">80</text>
<line x1="320.20" y1="87.46" x2="322.40" y2="87.46" stroke="#111" stroke-width="0.6"/>
<text x="318.00" y="82.60" font-size="4.37" text-anchor="end" fill="#333" stroke="#333" stroke-width="0.05">100</text>
<line x1="320.20" y1="81.20" x2="322.40" y2="81.20" stroke="#111" stroke-width="0.6"/>
<line x1="321.20" y1="109.37" x2="322.40" y2="109.37" stroke="#111" stroke-width="0.5"/>
<line x1="321.20" y1="103.11" x2="322.40" y2="103.11" stroke="#111" stroke-width="0.5"/>
<line x1="321.20" y1="96.85" x2="322.40" y2="96.85" stroke="#111" stroke-width="0.5"/>
<line x1="321.20" y1="90.59" x2="322.40" y2="90.59" stroke="#111" stroke-width="0.5"/>
<line x1="321.20" y1="84.33" x2="322.40" y2="84.33" stroke="#111" stroke-width="0.5"/>
<line x1="324.70" y1="113.10" x2="324.70" y2="114.70" stroke="#111" stroke-width="0.6"/>
<text x="324.70" y="121.10" font-size="4.37" text-anchor="middle" fill="#333" stroke="#333" stroke-width="0.05">-10&#185;</text>
<line x1="330.60" y1="113.10" x2="330.60" y2="114.70" stroke="#111" stroke-width="0.6"/>
<line x1="329.40" y1="113.10" x2="329.40" y2="114.10" stroke="#111" stroke-width="0.45"/>
<line x1="330.00" y1="113.10" x2="330.00" y2="114.10" stroke="#111" stroke-width="0.45"/>
<line x1="331.20" y1="113.10" x2="331.20" y2="114.10" stroke="#111" stroke-width="0.45"/>
<line x1="331.80" y1="113.10" x2="331.80" y2="114.10" stroke="#111" stroke-width="0.45"/>
<text x="330.60" y="121.10" font-size="4.37" text-anchor="middle" fill="#333" stroke="#333" stroke-width="0.05">0</text>
<line x1="336.20" y1="113.10" x2="336.20" y2="114.70" stroke="#111" stroke-width="0.6"/>
<text x="336.20" y="121.10" font-size="4.37" text-anchor="middle" fill="#333" stroke="#333" stroke-width="0.05">10&#185;</text>
<line x1="345.60" y1="113.10" x2="345.60" y2="114.70" stroke="#111" stroke-width="0.6"/>
<text x="345.60" y="121.10" font-size="4.37" text-anchor="middle" fill="#333" stroke="#333" stroke-width="0.05">10&#179;</text>
<line x1="353.70" y1="113.10" x2="353.70" y2="114.70" stroke="#111" stroke-width="0.6"/>
<text x="353.70" y="121.10" font-size="4.37" text-anchor="middle" fill="#333" stroke="#333" stroke-width="0.05">10&#8308;</text>
<line x1="324.90" y1="113.10" x2="324.90" y2="114.00" stroke="#111" stroke-width="0.45"/>
<line x1="339.40" y1="113.10" x2="339.40" y2="114.00" stroke="#111" stroke-width="0.45"/>
<line x1="341.40" y1="113.10" x2="341.40" y2="114.00" stroke="#111" stroke-width="0.45"/>
<line x1="348.40" y1="113.10" x2="348.40" y2="114.00" stroke="#111" stroke-width="0.45"/>
<line x1="350.40" y1="113.10" x2="350.40" y2="114.00" stroke="#111" stroke-width="0.45"/>
<path d="M379.50,112.50 C379.63,110.62 380.22,102.25 380.50,98.42 C380.78,94.58 381.31,83.70 381.60,83.70 C381.89,83.70 382.41,94.58 382.70,98.42 C382.99,102.25 380.37,110.62 383.80,112.50 C387.23,114.38 405.12,112.50 408.40,112.50" stroke="#b5173f" stroke-width="1.35" fill="none" stroke-dasharray="2.8,1.6"/>
<path d="M375.40,112.34 C375.53,112.34 376.13,112.95 376.40,112.34 C376.67,111.74 377.09,109.95 377.40,107.81 C377.71,105.66 378.34,98.94 378.70,96.22 C379.06,93.51 379.73,87.46 380.10,87.46 C380.47,87.46 381.11,93.51 381.50,96.22 C381.89,98.94 382.61,105.66 383.00,107.81 C383.39,109.95 381.01,111.74 384.40,112.34 C387.79,112.95 405.20,112.34 408.40,112.34" stroke="#2a4a8a" stroke-width="1.0" fill="none"/>
<rect x="375.40" y="80.30" width="33.10" height="32.80" fill="none" stroke="#111" stroke-width="1.0"/>
<text x="371.00" y="113.90" font-size="4.37" text-anchor="end" fill="#333" stroke="#333" stroke-width="0.05">0</text>
<line x1="373.20" y1="112.50" x2="375.40" y2="112.50" stroke="#111" stroke-width="0.6"/>
<text x="371.00" y="107.64" font-size="4.37" text-anchor="end" fill="#333" stroke="#333" stroke-width="0.05">20</text>
<line x1="373.20" y1="106.24" x2="375.40" y2="106.24" stroke="#111" stroke-width="0.6"/>
<text x="371.00" y="101.38" font-size="4.37" text-anchor="end" fill="#333" stroke="#333" stroke-width="0.05">40</text>
<line x1="373.20" y1="99.98" x2="375.40" y2="99.98" stroke="#111" stroke-width="0.6"/>
<text x="371.00" y="95.12" font-size="4.37" text-anchor="end" fill="#333" stroke="#333" stroke-width="0.05">60</text>
<line x1="373.20" y1="93.72" x2="375.40" y2="93.72" stroke="#111" stroke-width="0.6"/>
<text x="371.00" y="88.86" font-size="4.37" text-anchor="end" fill="#333" stroke="#333" stroke-width="0.05">80</text>
<line x1="373.20" y1="87.46" x2="375.40" y2="87.46" stroke="#111" stroke-width="0.6"/>
<text x="371.00" y="82.60" font-size="4.37" text-anchor="end" fill="#333" stroke="#333" stroke-width="0.05">100</text>
<line x1="373.20" y1="81.20" x2="375.40" y2="81.20" stroke="#111" stroke-width="0.6"/>
<line x1="374.20" y1="109.37" x2="375.40" y2="109.37" stroke="#111" stroke-width="0.5"/>
<line x1="374.20" y1="103.11" x2="375.40" y2="103.11" stroke="#111" stroke-width="0.5"/>
<line x1="374.20" y1="96.85" x2="375.40" y2="96.85" stroke="#111" stroke-width="0.5"/>
<line x1="374.20" y1="90.59" x2="375.40" y2="90.59" stroke="#111" stroke-width="0.5"/>
<line x1="374.20" y1="84.33" x2="375.40" y2="84.33" stroke="#111" stroke-width="0.5"/>
<line x1="381.20" y1="113.10" x2="381.20" y2="114.70" stroke="#111" stroke-width="0.6"/>
<line x1="380.00" y1="113.10" x2="380.00" y2="114.10" stroke="#111" stroke-width="0.45"/>
<line x1="380.60" y1="113.10" x2="380.60" y2="114.10" stroke="#111" stroke-width="0.45"/>
<line x1="381.80" y1="113.10" x2="381.80" y2="114.10" stroke="#111" stroke-width="0.45"/>
<line x1="382.40" y1="113.10" x2="382.40" y2="114.10" stroke="#111" stroke-width="0.45"/>
<text x="381.20" y="121.10" font-size="4.37" text-anchor="middle" fill="#333" stroke="#333" stroke-width="0.05">0</text>
<line x1="389.00" y1="113.10" x2="389.00" y2="114.70" stroke="#111" stroke-width="0.6"/>
<text x="389.00" y="121.10" font-size="4.37" text-anchor="middle" fill="#333" stroke="#333" stroke-width="0.05">10&#178;</text>
<line x1="397.40" y1="113.10" x2="397.40" y2="114.70" stroke="#111" stroke-width="0.6"/>
<text x="397.40" y="121.10" font-size="4.37" text-anchor="middle" fill="#333" stroke="#333" stroke-width="0.05">10&#179;</text>
<line x1="405.00" y1="113.10" x2="405.00" y2="114.70" stroke="#111" stroke-width="0.6"/>
<text x="405.00" y="121.10" font-size="4.37" text-anchor="middle" fill="#333" stroke="#333" stroke-width="0.05">10&#8308;</text>
<line x1="377.90" y1="113.10" x2="377.90" y2="114.00" stroke="#111" stroke-width="0.45"/>
<line x1="392.40" y1="113.10" x2="392.40" y2="114.00" stroke="#111" stroke-width="0.45"/>
<line x1="394.40" y1="113.10" x2="394.40" y2="114.00" stroke="#111" stroke-width="0.45"/>
<line x1="401.40" y1="113.10" x2="401.40" y2="114.00" stroke="#111" stroke-width="0.45"/>
<line x1="403.40" y1="113.10" x2="403.40" y2="114.00" stroke="#111" stroke-width="0.45"/>
<path d="M430.20,112.50 C430.40,111.04 431.29,105.26 431.70,101.55 C432.11,97.83 432.82,84.64 433.30,84.64 C433.78,84.64 434.67,97.83 435.30,101.55 C435.93,105.26 434.75,111.04 438.00,112.50 C441.25,113.96 456.81,112.50 459.70,112.50" stroke="#b5173f" stroke-width="1.35" fill="none" stroke-dasharray="2.8,1.6"/>
<path d="M426.70,112.34 C428.97,112.34 441.30,113.37 443.70,112.34 C446.10,111.32 444.43,106.74 444.70,104.67 C444.97,102.61 445.43,98.31 445.70,96.85 C445.97,95.39 446.49,94.76 446.70,93.72 C446.91,92.68 447.11,90.28 447.30,89.03 C447.49,87.77 447.89,84.62 448.10,84.33 C448.31,84.04 448.66,84.96 448.90,86.83 C449.14,88.71 449.58,95.01 449.90,98.42 C450.22,101.82 449.99,110.49 451.30,112.34 C452.61,114.20 458.58,112.34 459.70,112.34" stroke="#2a4a8a" stroke-width="1.0" fill="none"/>
<rect x="426.70" y="80.30" width="33.10" height="32.80" fill="none" stroke="#111" stroke-width="1.0"/>
<text x="422.30" y="113.90" font-size="4.37" text-anchor="end" fill="#333" stroke="#333" stroke-width="0.05">0</text>
<line x1="424.50" y1="112.50" x2="426.70" y2="112.50" stroke="#111" stroke-width="0.6"/>
<text x="422.30" y="107.64" font-size="4.37" text-anchor="end" fill="#333" stroke="#333" stroke-width="0.05">20</text>
<line x1="424.50" y1="106.24" x2="426.70" y2="106.24" stroke="#111" stroke-width="0.6"/>
<text x="422.30" y="101.38" font-size="4.37" text-anchor="end" fill="#333" stroke="#333" stroke-width="0.05">40</text>
<line x1="424.50" y1="99.98" x2="426.70" y2="99.98" stroke="#111" stroke-width="0.6"/>
<text x="422.30" y="95.12" font-size="4.37" text-anchor="end" fill="#333" stroke="#333" stroke-width="0.05">60</text>
<line x1="424.50" y1="93.72" x2="426.70" y2="93.72" stroke="#111" stroke-width="0.6"/>
<text x="422.30" y="88.86" font-size="4.37" text-anchor="end" fill="#333" stroke="#333" stroke-width="0.05">80</text>
<line x1="424.50" y1="87.46" x2="426.70" y2="87.46" stroke="#111" stroke-width="0.6"/>
<text x="422.30" y="82.60" font-size="4.37" text-anchor="end" fill="#333" stroke="#333" stroke-width="0.05">100</text>
<line x1="424.50" y1="81.20" x2="426.70" y2="81.20" stroke="#111" stroke-width="0.6"/>
<line x1="425.50" y1="109.37" x2="426.70" y2="109.37" stroke="#111" stroke-width="0.5"/>
<line x1="425.50" y1="103.11" x2="426.70" y2="103.11" stroke="#111" stroke-width="0.5"/>
<line x1="425.50" y1="96.85" x2="426.70" y2="96.85" stroke="#111" stroke-width="0.5"/>
<line x1="425.50" y1="90.59" x2="426.70" y2="90.59" stroke="#111" stroke-width="0.5"/>
<line x1="425.50" y1="84.33" x2="426.70" y2="84.33" stroke="#111" stroke-width="0.5"/>
<line x1="432.70" y1="113.10" x2="432.70" y2="114.70" stroke="#111" stroke-width="0.6"/>
<line x1="431.50" y1="113.10" x2="431.50" y2="114.10" stroke="#111" stroke-width="0.45"/>
<line x1="432.10" y1="113.10" x2="432.10" y2="114.10" stroke="#111" stroke-width="0.45"/>
<line x1="433.30" y1="113.10" x2="433.30" y2="114.10" stroke="#111" stroke-width="0.45"/>
<line x1="433.90" y1="113.10" x2="433.90" y2="114.10" stroke="#111" stroke-width="0.45"/>
<text x="432.70" y="121.10" font-size="4.37" text-anchor="middle" fill="#333" stroke="#333" stroke-width="0.05">0</text>
<line x1="441.70" y1="113.10" x2="441.70" y2="114.70" stroke="#111" stroke-width="0.6"/>
<text x="441.70" y="121.10" font-size="4.37" text-anchor="middle" fill="#333" stroke="#333" stroke-width="0.05">10&#178;</text>
<line x1="448.80" y1="113.10" x2="448.80" y2="114.70" stroke="#111" stroke-width="0.6"/>
<text x="448.80" y="121.10" font-size="4.37" text-anchor="middle" fill="#333" stroke="#333" stroke-width="0.05">10&#179;</text>
<line x1="456.20" y1="113.10" x2="456.20" y2="114.70" stroke="#111" stroke-width="0.6"/>
<text x="456.20" y="121.10" font-size="4.37" text-anchor="middle" fill="#333" stroke="#333" stroke-width="0.05">10&#8308;</text>
<line x1="429.20" y1="113.10" x2="429.20" y2="114.00" stroke="#111" stroke-width="0.45"/>
<line x1="443.70" y1="113.10" x2="443.70" y2="114.00" stroke="#111" stroke-width="0.45"/>
<line x1="445.70" y1="113.10" x2="445.70" y2="114.00" stroke="#111" stroke-width="0.45"/>
<line x1="452.70" y1="113.10" x2="452.70" y2="114.00" stroke="#111" stroke-width="0.45"/>
<line x1="454.70" y1="113.10" x2="454.70" y2="114.00" stroke="#111" stroke-width="0.45"/>
<path d="M482.30,112.50 C482.45,110.41 483.11,100.73 483.40,96.85 C483.69,92.97 484.19,83.39 484.50,83.39 C484.81,83.39 485.35,92.97 485.70,96.85 C486.05,100.73 483.63,110.41 487.10,112.50 C490.57,114.59 508.42,112.50 511.70,112.50" stroke="#b5173f" stroke-width="1.35" fill="none" stroke-dasharray="2.8,1.6"/>
<path d="M478.70,112.34 C479.33,112.34 482.47,112.66 483.40,112.34 C484.33,112.03 485.13,110.73 485.70,110.00 C486.27,109.27 487.19,107.58 487.70,106.87 C488.21,106.16 488.97,105.47 489.50,104.67 C490.03,103.88 491.07,101.96 491.70,100.92 C492.33,99.88 493.61,97.60 494.20,96.85 C494.79,96.10 495.70,96.12 496.10,95.28 C496.50,94.45 496.83,92.09 497.20,90.59 C497.57,89.09 498.54,84.23 498.90,84.02 C499.26,83.81 499.62,87.11 499.90,89.03 C500.18,90.94 500.72,95.91 501.00,98.42 C501.28,100.92 501.75,105.97 502.00,107.81 C502.25,109.64 502.67,111.58 502.90,112.19 C503.13,112.79 502.53,112.32 503.70,112.34 C504.87,112.36 510.63,112.34 511.70,112.34" stroke="#2a4a8a" stroke-width="1.0" fill="none"/>
<rect x="478.70" y="80.30" width="33.10" height="32.80" fill="none" stroke="#111" stroke-width="1.0"/>
<text x="474.30" y="113.90" font-size="4.37" text-anchor="end" fill="#333" stroke="#333" stroke-width="0.05">0</text>
<line x1="476.50" y1="112.50" x2="478.70" y2="112.50" stroke="#111" stroke-width="0.6"/>
<text x="474.30" y="107.64" font-size="4.37" text-anchor="end" fill="#333" stroke="#333" stroke-width="0.05">20</text>
<line x1="476.50" y1="106.24" x2="478.70" y2="106.24" stroke="#111" stroke-width="0.6"/>
<text x="474.30" y="101.38" font-size="4.37" text-anchor="end" fill="#333" stroke="#333" stroke-width="0.05">40</text>
<line x1="476.50" y1="99.98" x2="478.70" y2="99.98" stroke="#111" stroke-width="0.6"/>
<text x="474.30" y="95.12" font-size="4.37" text-anchor="end" fill="#333" stroke="#333" stroke-width="0.05">60</text>
<line x1="476.50" y1="93.72" x2="478.70" y2="93.72" stroke="#111" stroke-width="0.6"/>
<text x="474.30" y="88.86" font-size="4.37" text-anchor="end" fill="#333" stroke="#333" stroke-width="0.05">80</text>
<line x1="476.50" y1="87.46" x2="478.70" y2="87.46" stroke="#111" stroke-width="0.6"/>
<text x="474.30" y="82.60" font-size="4.37" text-anchor="end" fill="#333" stroke="#333" stroke-width="0.05">100</text>
<line x1="476.50" y1="81.20" x2="478.70" y2="81.20" stroke="#111" stroke-width="0.6"/>
<line x1="477.50" y1="109.37" x2="478.70" y2="109.37" stroke="#111" stroke-width="0.5"/>
<line x1="477.50" y1="103.11" x2="478.70" y2="103.11" stroke="#111" stroke-width="0.5"/>
<line x1="477.50" y1="96.85" x2="478.70" y2="96.85" stroke="#111" stroke-width="0.5"/>
<line x1="477.50" y1="90.59" x2="478.70" y2="90.59" stroke="#111" stroke-width="0.5"/>
<line x1="477.50" y1="84.33" x2="478.70" y2="84.33" stroke="#111" stroke-width="0.5"/>
<line x1="485.00" y1="113.10" x2="485.00" y2="114.70" stroke="#111" stroke-width="0.6"/>
<line x1="483.80" y1="113.10" x2="483.80" y2="114.10" stroke="#111" stroke-width="0.45"/>
<line x1="484.40" y1="113.10" x2="484.40" y2="114.10" stroke="#111" stroke-width="0.45"/>
<line x1="485.60" y1="113.10" x2="485.60" y2="114.10" stroke="#111" stroke-width="0.45"/>
<line x1="486.20" y1="113.10" x2="486.20" y2="114.10" stroke="#111" stroke-width="0.45"/>
<text x="485.00" y="121.10" font-size="4.37" text-anchor="middle" fill="#333" stroke="#333" stroke-width="0.05">0</text>
<line x1="493.00" y1="113.10" x2="493.00" y2="114.70" stroke="#111" stroke-width="0.6"/>
<text x="493.00" y="121.10" font-size="4.37" text-anchor="middle" fill="#333" stroke="#333" stroke-width="0.05">10&#178;</text>
<line x1="501.70" y1="113.10" x2="501.70" y2="114.70" stroke="#111" stroke-width="0.6"/>
<text x="501.70" y="121.10" font-size="4.37" text-anchor="middle" fill="#333" stroke="#333" stroke-width="0.05">10&#179;</text>
<line x1="508.80" y1="113.10" x2="508.80" y2="114.70" stroke="#111" stroke-width="0.6"/>
<text x="508.80" y="121.10" font-size="4.37" text-anchor="middle" fill="#333" stroke="#333" stroke-width="0.05">10&#8308;</text>
<line x1="481.20" y1="113.10" x2="481.20" y2="114.00" stroke="#111" stroke-width="0.45"/>
<line x1="495.70" y1="113.10" x2="495.70" y2="114.00" stroke="#111" stroke-width="0.45"/>
<line x1="497.70" y1="113.10" x2="497.70" y2="114.00" stroke="#111" stroke-width="0.45"/>
<line x1="504.70" y1="113.10" x2="504.70" y2="114.00" stroke="#111" stroke-width="0.45"/>
<line x1="506.70" y1="113.10" x2="506.70" y2="114.00" stroke="#111" stroke-width="0.45"/>
<text x="8.90" y="158.10" font-size="10.61" textLength="7.30" lengthAdjust="spacingAndGlyphs" fill="#111" stroke="#111" stroke-width="0.35">D</text>
<text x="21.70" y="206.60" font-size="10.30" text-anchor="middle" transform="rotate(-90 21.70 206.60)" textLength="87.00" lengthAdjust="spacingAndGlyphs" fill="#161616" stroke="#161616" stroke-width="0.12">Cells number(million)</text>
<text x="36.40" y="251.00" font-size="8.40" text-anchor="end" textLength="4.31" lengthAdjust="spacingAndGlyphs" fill="#161616" stroke="#161616" stroke-width="0.12">0</text>
<line x1="38.60" y1="248.20" x2="41.40" y2="248.20" stroke="#111" stroke-width="1.0"/>
<text x="36.40" y="235.05" font-size="8.40" text-anchor="end" textLength="4.31" lengthAdjust="spacingAndGlyphs" fill="#161616" stroke="#161616" stroke-width="0.12">5</text>
<line x1="38.60" y1="232.25" x2="41.40" y2="232.25" stroke="#111" stroke-width="1.0"/>
<text x="36.40" y="219.10" font-size="8.40" text-anchor="end" textLength="8.62" lengthAdjust="spacingAndGlyphs" fill="#161616" stroke="#161616" stroke-width="0.12">10</text>
<line x1="38.60" y1="216.30" x2="41.40" y2="216.30" stroke="#111" stroke-width="1.0"/>
<text x="36.40" y="203.15" font-size="8.40" text-anchor="end" textLength="8.62" lengthAdjust="spacingAndGlyphs" fill="#161616" stroke="#161616" stroke-width="0.12">15</text>
<line x1="38.60" y1="200.35" x2="41.40" y2="200.35" stroke="#111" stroke-width="1.0"/>
<text x="36.40" y="187.20" font-size="8.40" text-anchor="end" textLength="8.62" lengthAdjust="spacingAndGlyphs" fill="#161616" stroke="#161616" stroke-width="0.12">20</text>
<line x1="38.60" y1="184.40" x2="41.40" y2="184.40" stroke="#111" stroke-width="1.0"/>
<text x="36.40" y="171.25" font-size="8.40" text-anchor="end" textLength="8.62" lengthAdjust="spacingAndGlyphs" fill="#161616" stroke="#161616" stroke-width="0.12">25</text>
<line x1="38.60" y1="168.45" x2="41.40" y2="168.45" stroke="#111" stroke-width="1.0"/>
<rect x="44.60" y="186.00" width="12.50" height="62.20" fill="#2b4c8c" stroke="#1e3a70" stroke-width="0.6"/>
<rect x="62.90" y="244.37" width="12.90" height="3.83" fill="#c0112e" stroke="#8a0c22" stroke-width="0.6"/>
<rect x="81.20" y="229.06" width="12.90" height="19.14" fill="#69a93f"/>
<line x1="50.80" y1="186.00" x2="50.80" y2="175.47" stroke="#222" stroke-width="1.1"/>
<line x1="48.30" y1="175.47" x2="53.30" y2="175.47" stroke="#222" stroke-width="1.1"/>
<line x1="66.30" y1="243.89" x2="72.40" y2="243.89" stroke="#222" stroke-width="1.0"/>
<line x1="87.60" y1="229.06" x2="87.60" y2="224.59" stroke="#222" stroke-width="1.1"/>
<line x1="85.10" y1="224.59" x2="90.10" y2="224.59" stroke="#222" stroke-width="1.1"/>
<line x1="41.30" y1="166.90" x2="41.30" y2="248.80" stroke="#222" stroke-width="1.2"/>
<line x1="41.30" y1="248.20" x2="96.90" y2="248.20" stroke="#222" stroke-width="1.2"/>
<line x1="50.80" y1="248.20" x2="50.80" y2="251.20" stroke="#222" stroke-width="1.0"/>
<line x1="69.30" y1="248.20" x2="69.30" y2="251.20" stroke="#222" stroke-width="1.0"/>
<line x1="87.60" y1="248.20" x2="87.60" y2="251.20" stroke="#222" stroke-width="1.0"/>
<line x1="50.80" y1="172.00" x2="69.30" y2="172.00" stroke="#444" stroke-width="1.0"/>
<text x="60.00" y="172.60" font-size="7.84" text-anchor="middle" fill="#161616" stroke="#161616" stroke-width="0.12">***</text>
<line x1="69.30" y1="221.10" x2="86.00" y2="221.10" stroke="#444" stroke-width="1.0"/>
<text x="77.70" y="221.70" font-size="7.84" text-anchor="middle" fill="#161616" stroke="#161616" stroke-width="0.12">**</text>
<text x="55.80" y="257.50" font-size="8.29" text-anchor="end" transform="rotate(-58.0 55.80 257.50)" textLength="73.00" lengthAdjust="spacingAndGlyphs" fill="#161616" stroke="#161616" stroke-width="0.12">Luciferase-CFU-E-EPO</text>
<text x="74.50" y="257.50" font-size="8.29" text-anchor="end" transform="rotate(-58.0 74.50 257.50)" textLength="82.00" lengthAdjust="spacingAndGlyphs" fill="#161616" stroke="#161616" stroke-width="0.12">TET2 KD-GPA<tspan font-size="4.5" dy="-2.6">-</tspan><tspan dy="2.6"> cells-EPO</tspan></text>
<text x="92.60" y="257.50" font-size="8.29" text-anchor="end" transform="rotate(-58.0 92.60 257.50)" textLength="97.00" lengthAdjust="spacingAndGlyphs" fill="#161616" stroke="#161616" stroke-width="0.12">TET2 KD-GPA<tspan font-size="4.5" dy="-2.6">-</tspan><tspan dy="2.6"> Cells-EPO+SCF</tspan></text>
<text x="106.60" y="158.10" font-size="10.61" textLength="5.20" lengthAdjust="spacingAndGlyphs" fill="#111" stroke="#111" stroke-width="0.35">E</text>
<text x="175.10" y="170.80" font-size="8.40" text-anchor="middle" textLength="8.60" lengthAdjust="spacingAndGlyphs" fill="#161616" stroke="#161616" stroke-width="0.12">D5</text>
<text x="234.00" y="170.80" font-size="8.40" text-anchor="middle" textLength="12.00" lengthAdjust="spacingAndGlyphs" fill="#161616" stroke="#161616" stroke-width="0.12">D15</text>
<text x="113.30" y="194.40" font-size="7.84" text-anchor="middle" transform="rotate(-90 113.30 194.40)" textLength="31.40" lengthAdjust="spacingAndGlyphs" fill="#161616" stroke="#161616" stroke-width="0.12">Luciferase</text>
<text x="122.00" y="194.40" font-size="7.84" text-anchor="middle" transform="rotate(-90 122.00 194.40)" textLength="21.50" lengthAdjust="spacingAndGlyphs" fill="#161616" stroke="#161616" stroke-width="0.12">-CFU-E</text>
<text x="112.40" y="251.80" font-size="7.84" text-anchor="middle" transform="rotate(-90 112.40 251.80)" textLength="25.00" lengthAdjust="spacingAndGlyphs" fill="#161616" stroke="#161616" stroke-width="0.12">TET2 KD</text>
<text x="121.20" y="253.00" font-size="7.84" text-anchor="middle" transform="rotate(-90 121.20 253.00)" textLength="30.60" lengthAdjust="spacingAndGlyphs" fill="#161616" stroke="#161616" stroke-width="0.12">GPA<tspan dy="-2.82" font-size="4.70">-</tspan><tspan dy="2.82"> cells</tspan></text>
<text x="133.00" y="230.00" font-size="7.84" text-anchor="middle" transform="rotate(-90 133.00 230.00)" textLength="18.80" lengthAdjust="spacingAndGlyphs" fill="#161616" stroke="#161616" stroke-width="0.12">Count</text>
<text x="190.20" y="294.80" font-size="7.84" textLength="12.70" lengthAdjust="spacingAndGlyphs" fill="#161616" stroke="#161616" stroke-width="0.12">GPA</text>
<line x1="137.80" y1="174.00" x2="137.80" y2="285.50" stroke="#111" stroke-width="1.1"/>
<line x1="137.80" y1="285.50" x2="255.10" y2="285.50" stroke="#111" stroke-width="1.1"/>
<path d="M159.70,215.80 C159.82,213.73 160.35,204.68 160.60,200.28 C160.85,195.88 161.37,185.72 161.60,182.82 C161.83,179.92 162.11,178.55 162.30,178.55 C162.49,178.55 162.75,180.18 163.00,182.82 C163.25,185.46 163.87,193.94 164.20,198.34 C164.53,202.74 161.34,213.47 165.50,215.80 C169.66,218.13 191.41,215.80 195.40,215.80" stroke="#b5173f" stroke-width="1.6" fill="none" stroke-dasharray="2.9,1.5"/>
<path d="M154.40,215.61 C154.93,215.61 157.60,215.74 158.40,215.61 C159.20,215.48 159.85,215.10 160.40,214.64 C160.95,214.17 162.02,212.32 162.50,212.11 C162.98,211.91 163.61,212.75 164.00,213.08 C164.39,213.42 164.81,214.43 165.40,214.64 C165.99,214.84 167.47,214.69 168.40,214.64 C169.33,214.58 171.65,214.51 172.40,214.25 C173.15,213.99 173.57,214.04 174.00,212.70 C174.43,211.35 175.21,207.11 175.60,204.16 C175.99,201.21 176.58,192.75 176.90,190.58 C177.22,188.41 177.69,188.90 178.00,187.86 C178.31,186.83 178.88,184.11 179.20,182.82 C179.52,181.53 180.04,176.61 180.40,178.16 C180.76,179.72 181.51,189.96 181.90,194.46 C182.29,198.96 183.02,209.13 183.30,211.92 C183.58,214.71 183.72,214.92 184.00,215.41 C184.28,215.90 183.88,215.58 185.40,215.61 C186.92,215.63 194.07,215.61 195.40,215.61" stroke="#2a4a8a" stroke-width="1.2" fill="none"/>
<rect x="154.40" y="175.30" width="41.30" height="41.00" fill="none" stroke="#111" stroke-width="1.1"/>
<text x="150.00" y="217.20" font-size="4.48" text-anchor="end" fill="#333" stroke="#333" stroke-width="0.05">0</text>
<line x1="152.20" y1="215.80" x2="154.40" y2="215.80" stroke="#111" stroke-width="0.6"/>
<text x="150.00" y="209.44" font-size="4.48" text-anchor="end" fill="#333" stroke="#333" stroke-width="0.05">20</text>
<line x1="152.20" y1="208.04" x2="154.40" y2="208.04" stroke="#111" stroke-width="0.6"/>
<text x="150.00" y="201.68" font-size="4.48" text-anchor="end" fill="#333" stroke="#333" stroke-width="0.05">40</text>
<line x1="152.20" y1="200.28" x2="154.40" y2="200.28" stroke="#111" stroke-width="0.6"/>
<text x="150.00" y="193.92" font-size="4.48" text-anchor="end" fill="#333" stroke="#333" stroke-width="0.05">60</text>
<line x1="152.20" y1="192.52" x2="154.40" y2="192.52" stroke="#111" stroke-width="0.6"/>
<text x="150.00" y="186.16" font-size="4.48" text-anchor="end" fill="#333" stroke="#333" stroke-width="0.05">80</text>
<line x1="152.20" y1="184.76" x2="154.40" y2="184.76" stroke="#111" stroke-width="0.6"/>
<text x="150.00" y="178.40" font-size="4.48" text-anchor="end" fill="#333" stroke="#333" stroke-width="0.05">100</text>
<line x1="152.20" y1="177.00" x2="154.40" y2="177.00" stroke="#111" stroke-width="0.6"/>
<line x1="153.20" y1="211.92" x2="154.40" y2="211.92" stroke="#111" stroke-width="0.5"/>
<line x1="153.20" y1="204.16" x2="154.40" y2="204.16" stroke="#111" stroke-width="0.5"/>
<line x1="153.20" y1="196.40" x2="154.40" y2="196.40" stroke="#111" stroke-width="0.5"/>
<line x1="153.20" y1="188.64" x2="154.40" y2="188.64" stroke="#111" stroke-width="0.5"/>
<line x1="153.20" y1="180.88" x2="154.40" y2="180.88" stroke="#111" stroke-width="0.5"/>
<line x1="162.00" y1="216.30" x2="162.00" y2="217.90" stroke="#111" stroke-width="0.6"/>
<text x="162.00" y="222.90" font-size="4.48" text-anchor="middle" fill="#333" stroke="#333" stroke-width="0.05">0</text>
<line x1="170.80" y1="216.30" x2="170.80" y2="217.90" stroke="#111" stroke-width="0.6"/>
<text x="170.80" y="222.90" font-size="4.48" text-anchor="middle" fill="#333" stroke="#333" stroke-width="0.05">10&#178;</text>
<line x1="181.40" y1="216.30" x2="181.40" y2="217.90" stroke="#111" stroke-width="0.6"/>
<text x="181.40" y="222.90" font-size="4.48" text-anchor="middle" fill="#333" stroke="#333" stroke-width="0.05">10&#179;</text>
<line x1="190.40" y1="216.30" x2="190.40" y2="217.90" stroke="#111" stroke-width="0.6"/>
<text x="190.40" y="222.90" font-size="4.48" text-anchor="middle" fill="#333" stroke="#333" stroke-width="0.05">10&#8308;</text>
<line x1="160.60" y1="216.30" x2="160.60" y2="217.30" stroke="#111" stroke-width="0.5"/>
<line x1="161.20" y1="216.30" x2="161.20" y2="217.30" stroke="#111" stroke-width="0.5"/>
<line x1="162.70" y1="216.30" x2="162.70" y2="217.30" stroke="#111" stroke-width="0.5"/>
<line x1="163.30" y1="216.30" x2="163.30" y2="217.30" stroke="#111" stroke-width="0.5"/>
<line x1="156.90" y1="216.30" x2="156.90" y2="217.20" stroke="#111" stroke-width="0.45"/>
<line x1="166.40" y1="216.30" x2="166.40" y2="217.20" stroke="#111" stroke-width="0.45"/>
<line x1="168.40" y1="216.30" x2="168.40" y2="217.20" stroke="#111" stroke-width="0.45"/>
<line x1="175.40" y1="216.30" x2="175.40" y2="217.20" stroke="#111" stroke-width="0.45"/>
<line x1="177.40" y1="216.30" x2="177.40" y2="217.20" stroke="#111" stroke-width="0.45"/>
<line x1="179.40" y1="216.30" x2="179.40" y2="217.20" stroke="#111" stroke-width="0.45"/>
<line x1="185.40" y1="216.30" x2="185.40" y2="217.20" stroke="#111" stroke-width="0.45"/>
<line x1="187.40" y1="216.30" x2="187.40" y2="217.20" stroke="#111" stroke-width="0.45"/>
<line x1="193.40" y1="216.30" x2="193.40" y2="217.20" stroke="#111" stroke-width="0.45"/>
<line x1="169.20" y1="200.40" x2="191.40" y2="200.40" stroke="#111" stroke-width="0.9"/>
<line x1="169.20" y1="199.20" x2="169.20" y2="201.60" stroke="#111" stroke-width="0.8"/>
<line x1="191.40" y1="199.20" x2="191.40" y2="201.60" stroke="#111" stroke-width="0.8"/>
<text x="180.30" y="196.20" font-size="4.48" text-anchor="middle" textLength="21.20" lengthAdjust="spacingAndGlyphs" fill="#333" stroke="#333" stroke-width="0.05">92.5%|96.6%</text>
<path d="M218.40,215.80 C218.53,213.99 219.13,206.36 219.40,202.22 C219.67,198.08 220.17,187.86 220.40,184.76 C220.63,181.66 220.91,179.04 221.10,178.94 C221.29,178.84 221.52,181.14 221.80,183.98 C222.08,186.83 222.84,196.04 223.20,200.28 C223.56,204.52 220.34,213.73 224.50,215.80 C228.66,217.87 250.41,215.80 254.40,215.80" stroke="#b5173f" stroke-width="1.6" fill="none" stroke-dasharray="2.9,1.5"/>
<path d="M213.40,215.61 C214.20,215.61 218.33,215.68 219.40,215.61 C220.47,215.53 220.87,215.10 221.40,215.02 C221.93,214.95 222.87,214.95 223.40,215.02 C223.93,215.10 223.93,215.53 225.40,215.61 C226.87,215.68 233.04,215.74 234.40,215.61 C235.76,215.48 235.27,215.90 235.60,214.64 C235.93,213.37 236.55,209.31 236.90,206.10 C237.25,202.89 237.87,193.94 238.20,190.58 C238.53,187.22 239.17,182.31 239.40,180.88 C239.63,179.45 239.74,179.77 239.90,179.87 C240.06,179.97 240.36,179.71 240.60,181.66 C240.84,183.60 241.42,190.68 241.70,194.46 C241.98,198.24 242.45,207.19 242.70,209.98 C242.95,212.77 243.37,214.66 243.60,215.41 C243.83,216.16 242.96,215.58 244.40,215.61 C245.84,215.63 253.07,215.61 254.40,215.61" stroke="#2a4a8a" stroke-width="1.2" fill="none"/>
<rect x="213.40" y="175.30" width="41.30" height="41.00" fill="none" stroke="#111" stroke-width="1.1"/>
<text x="209.00" y="217.20" font-size="4.48" text-anchor="end" fill="#333" stroke="#333" stroke-width="0.05">0</text>
<line x1="211.20" y1="215.80" x2="213.40" y2="215.80" stroke="#111" stroke-width="0.6"/>
<text x="209.00" y="209.44" font-size="4.48" text-anchor="end" fill="#333" stroke="#333" stroke-width="0.05">20</text>
<line x1="211.20" y1="208.04" x2="213.40" y2="208.04" stroke="#111" stroke-width="0.6"/>
<text x="209.00" y="201.68" font-size="4.48" text-anchor="end" fill="#333" stroke="#333" stroke-width="0.05">40</text>
<line x1="211.20" y1="200.28" x2="213.40" y2="200.28" stroke="#111" stroke-width="0.6"/>
<text x="209.00" y="193.92" font-size="4.48" text-anchor="end" fill="#333" stroke="#333" stroke-width="0.05">60</text>
<line x1="211.20" y1="192.52" x2="213.40" y2="192.52" stroke="#111" stroke-width="0.6"/>
<text x="209.00" y="186.16" font-size="4.48" text-anchor="end" fill="#333" stroke="#333" stroke-width="0.05">80</text>
<line x1="211.20" y1="184.76" x2="213.40" y2="184.76" stroke="#111" stroke-width="0.6"/>
<text x="209.00" y="178.40" font-size="4.48" text-anchor="end" fill="#333" stroke="#333" stroke-width="0.05">100</text>
<line x1="211.20" y1="177.00" x2="213.40" y2="177.00" stroke="#111" stroke-width="0.6"/>
<line x1="212.20" y1="211.92" x2="213.40" y2="211.92" stroke="#111" stroke-width="0.5"/>
<line x1="212.20" y1="204.16" x2="213.40" y2="204.16" stroke="#111" stroke-width="0.5"/>
<line x1="212.20" y1="196.40" x2="213.40" y2="196.40" stroke="#111" stroke-width="0.5"/>
<line x1="212.20" y1="188.64" x2="213.40" y2="188.64" stroke="#111" stroke-width="0.5"/>
<line x1="212.20" y1="180.88" x2="213.40" y2="180.88" stroke="#111" stroke-width="0.5"/>
<line x1="221.00" y1="216.30" x2="221.00" y2="217.90" stroke="#111" stroke-width="0.6"/>
<text x="221.00" y="222.90" font-size="4.48" text-anchor="middle" fill="#333" stroke="#333" stroke-width="0.05">0</text>
<line x1="229.80" y1="216.30" x2="229.80" y2="217.90" stroke="#111" stroke-width="0.6"/>
<text x="229.80" y="222.90" font-size="4.48" text-anchor="middle" fill="#333" stroke="#333" stroke-width="0.05">10&#178;</text>
<line x1="240.40" y1="216.30" x2="240.40" y2="217.90" stroke="#111" stroke-width="0.6"/>
<text x="240.40" y="222.90" font-size="4.48" text-anchor="middle" fill="#333" stroke="#333" stroke-width="0.05">10&#179;</text>
<line x1="249.40" y1="216.30" x2="249.40" y2="217.90" stroke="#111" stroke-width="0.6"/>
<text x="249.40" y="222.90" font-size="4.48" text-anchor="middle" fill="#333" stroke="#333" stroke-width="0.05">10&#8308;</text>
<line x1="219.60" y1="216.30" x2="219.60" y2="217.30" stroke="#111" stroke-width="0.5"/>
<line x1="220.20" y1="216.30" x2="220.20" y2="217.30" stroke="#111" stroke-width="0.5"/>
<line x1="221.70" y1="216.30" x2="221.70" y2="217.30" stroke="#111" stroke-width="0.5"/>
<line x1="222.30" y1="216.30" x2="222.30" y2="217.30" stroke="#111" stroke-width="0.5"/>
<line x1="215.90" y1="216.30" x2="215.90" y2="217.20" stroke="#111" stroke-width="0.45"/>
<line x1="225.40" y1="216.30" x2="225.40" y2="217.20" stroke="#111" stroke-width="0.45"/>
<line x1="227.40" y1="216.30" x2="227.40" y2="217.20" stroke="#111" stroke-width="0.45"/>
<line x1="234.40" y1="216.30" x2="234.40" y2="217.20" stroke="#111" stroke-width="0.45"/>
<line x1="236.40" y1="216.30" x2="236.40" y2="217.20" stroke="#111" stroke-width="0.45"/>
<line x1="238.40" y1="216.30" x2="238.40" y2="217.20" stroke="#111" stroke-width="0.45"/>
<line x1="244.40" y1="216.30" x2="244.40" y2="217.20" stroke="#111" stroke-width="0.45"/>
<line x1="246.40" y1="216.30" x2="246.40" y2="217.20" stroke="#111" stroke-width="0.45"/>
<line x1="252.40" y1="216.30" x2="252.40" y2="217.20" stroke="#111" stroke-width="0.45"/>
<line x1="228.20" y1="200.40" x2="250.40" y2="200.40" stroke="#111" stroke-width="0.9"/>
<line x1="228.20" y1="199.20" x2="228.20" y2="201.60" stroke="#111" stroke-width="0.8"/>
<line x1="250.40" y1="199.20" x2="250.40" y2="201.60" stroke="#111" stroke-width="0.8"/>
<text x="239.30" y="196.20" font-size="4.48" text-anchor="middle" textLength="21.20" lengthAdjust="spacingAndGlyphs" fill="#333" stroke="#333" stroke-width="0.05">97.7%|2.3%</text>
<path d="M159.70,272.70 C159.83,270.63 160.45,261.42 160.70,257.18 C160.95,252.94 161.39,243.68 161.60,240.88 C161.81,238.09 162.11,236.12 162.30,236.23 C162.49,236.33 162.75,238.87 163.00,241.66 C163.25,244.45 163.87,253.04 164.20,257.18 C164.53,261.32 161.34,270.63 165.50,272.70 C169.66,274.77 191.41,272.70 195.40,272.70" stroke="#b5173f" stroke-width="1.6" fill="none" stroke-dasharray="2.9,1.5"/>
<path d="M154.40,272.51 C154.93,272.51 157.73,272.64 158.40,272.51 C159.07,272.38 159.13,273.06 159.40,271.54 C159.67,270.01 160.13,264.78 160.40,261.06 C160.67,257.34 161.17,246.86 161.40,243.60 C161.63,240.34 161.93,236.87 162.10,236.62 C162.27,236.36 162.53,240.57 162.70,241.66 C162.87,242.75 163.24,244.45 163.40,244.76 C163.56,245.07 163.74,243.11 163.90,243.99 C164.06,244.87 164.39,249.08 164.60,251.36 C164.81,253.64 165.23,259.30 165.50,261.06 C165.77,262.82 166.21,264.03 166.60,264.55 C166.99,265.07 167.84,264.94 168.40,264.94 C168.96,264.94 170.27,264.81 170.80,264.55 C171.33,264.29 171.97,263.47 172.40,263.00 C172.83,262.53 173.51,261.68 174.00,261.06 C174.49,260.44 175.71,258.86 176.10,258.34 C176.49,257.83 176.70,257.23 176.90,257.18 C177.10,257.13 177.35,258.11 177.60,257.96 C177.85,257.80 178.43,256.43 178.80,256.02 C179.17,255.60 179.95,255.27 180.40,254.85 C180.85,254.44 181.85,252.86 182.20,252.91 C182.55,252.96 182.79,254.15 183.00,255.24 C183.21,256.33 183.55,258.99 183.80,261.06 C184.05,263.13 184.65,269.23 184.90,270.76 C185.15,272.29 184.30,272.27 185.70,272.51 C187.10,272.74 194.11,272.51 195.40,272.51" stroke="#2a4a8a" stroke-width="1.2" fill="none"/>
<rect x="154.40" y="232.20" width="41.30" height="41.00" fill="none" stroke="#111" stroke-width="1.1"/>
<text x="150.00" y="274.10" font-size="4.48" text-anchor="end" fill="#333" stroke="#333" stroke-width="0.05">0</text>
<line x1="152.20" y1="272.70" x2="154.40" y2="272.70" stroke="#111" stroke-width="0.6"/>
<text x="150.00" y="266.34" font-size="4.48" text-anchor="end" fill="#333" stroke="#333" stroke-width="0.05">20</text>
<line x1="152.20" y1="264.94" x2="154.40" y2="264.94" stroke="#111" stroke-width="0.6"/>
<text x="150.00" y="258.58" font-size="4.48" text-anchor="end" fill="#333" stroke="#333" stroke-width="0.05">40</text>
<line x1="152.20" y1="257.18" x2="154.40" y2="257.18" stroke="#111" stroke-width="0.6"/>
<text x="150.00" y="250.82" font-size="4.48" text-anchor="end" fill="#333" stroke="#333" stroke-width="0.05">60</text>
<line x1="152.20" y1="249.42" x2="154.40" y2="249.42" stroke="#111" stroke-width="0.6"/>
<text x="150.00" y="243.06" font-size="4.48" text-anchor="end" fill="#333" stroke="#333" stroke-width="0.05">80</text>
<line x1="152.20" y1="241.66" x2="154.40" y2="241.66" stroke="#111" stroke-width="0.6"/>
<text x="150.00" y="235.30" font-size="4.48" text-anchor="end" fill="#333" stroke="#333" stroke-width="0.05">100</text>
<line x1="152.20" y1="233.90" x2="154.40" y2="233.90" stroke="#111" stroke-width="0.6"/>
<line x1="153.20" y1="268.82" x2="154.40" y2="268.82" stroke="#111" stroke-width="0.5"/>
<line x1="153.20" y1="261.06" x2="154.40" y2="261.06" stroke="#111" stroke-width="0.5"/>
<line x1="153.20" y1="253.30" x2="154.40" y2="253.30" stroke="#111" stroke-width="0.5"/>
<line x1="153.20" y1="245.54" x2="154.40" y2="245.54" stroke="#111" stroke-width="0.5"/>
<line x1="153.20" y1="237.78" x2="154.40" y2="237.78" stroke="#111" stroke-width="0.5"/>
<line x1="162.00" y1="273.20" x2="162.00" y2="274.80" stroke="#111" stroke-width="0.6"/>
<text x="162.00" y="279.80" font-size="4.48" text-anchor="middle" fill="#333" stroke="#333" stroke-width="0.05">0</text>
<line x1="170.80" y1="273.20" x2="170.80" y2="274.80" stroke="#111" stroke-width="0.6"/>
<text x="170.80" y="279.80" font-size="4.48" text-anchor="middle" fill="#333" stroke="#333" stroke-width="0.05">10&#178;</text>
<line x1="181.40" y1="273.20" x2="181.40" y2="274.80" stroke="#111" stroke-width="0.6"/>
<text x="181.40" y="279.80" font-size="4.48" text-anchor="middle" fill="#333" stroke="#333" stroke-width="0.05">10&#179;</text>
<line x1="190.40" y1="273.20" x2="190.40" y2="274.80" stroke="#111" stroke-width="0.6"/>
<text x="190.40" y="279.80" font-size="4.48" text-anchor="middle" fill="#333" stroke="#333" stroke-width="0.05">10&#8308;</text>
<line x1="160.60" y1="273.20" x2="160.60" y2="274.20" stroke="#111" stroke-width="0.5"/>
<line x1="161.20" y1="273.20" x2="161.20" y2="274.20" stroke="#111" stroke-width="0.5"/>
<line x1="162.70" y1="273.20" x2="162.70" y2="274.20" stroke="#111" stroke-width="0.5"/>
<line x1="163.30" y1="273.20" x2="163.30" y2="274.20" stroke="#111" stroke-width="0.5"/>
<line x1="156.90" y1="273.20" x2="156.90" y2="274.10" stroke="#111" stroke-width="0.45"/>
<line x1="166.40" y1="273.20" x2="166.40" y2="274.10" stroke="#111" stroke-width="0.45"/>
<line x1="168.40" y1="273.20" x2="168.40" y2="274.10" stroke="#111" stroke-width="0.45"/>
<line x1="175.40" y1="273.20" x2="175.40" y2="274.10" stroke="#111" stroke-width="0.45"/>
<line x1="177.40" y1="273.20" x2="177.40" y2="274.10" stroke="#111" stroke-width="0.45"/>
<line x1="179.40" y1="273.20" x2="179.40" y2="274.10" stroke="#111" stroke-width="0.45"/>
<line x1="185.40" y1="273.20" x2="185.40" y2="274.10" stroke="#111" stroke-width="0.45"/>
<line x1="187.40" y1="273.20" x2="187.40" y2="274.10" stroke="#111" stroke-width="0.45"/>
<line x1="193.40" y1="273.20" x2="193.40" y2="274.10" stroke="#111" stroke-width="0.45"/>
<line x1="169.20" y1="257.40" x2="191.40" y2="257.40" stroke="#111" stroke-width="0.9"/>
<line x1="169.20" y1="256.20" x2="169.20" y2="258.60" stroke="#111" stroke-width="0.8"/>
<line x1="191.40" y1="256.20" x2="191.40" y2="258.60" stroke="#111" stroke-width="0.8"/>
<text x="180.30" y="253.20" font-size="4.48" text-anchor="middle" textLength="21.20" lengthAdjust="spacingAndGlyphs" fill="#333" stroke="#333" stroke-width="0.05">59.3%|69.6%</text>
<path d="M219.20,272.70 C219.31,270.37 219.81,259.64 220.00,255.24 C220.19,250.84 220.45,242.41 220.60,239.72 C220.75,237.03 220.94,234.81 221.10,235.06 C221.26,235.32 221.52,238.45 221.80,241.66 C222.08,244.87 222.84,254.98 223.20,259.12 C223.56,263.26 220.34,270.89 224.50,272.70 C228.66,274.51 250.41,272.70 254.40,272.70" stroke="#b5173f" stroke-width="1.6" fill="none" stroke-dasharray="2.9,1.5"/>
<path d="M213.40,272.51 C213.93,272.51 216.76,272.64 217.40,272.51 C218.04,272.38 217.93,272.54 218.20,271.54 C218.47,270.53 219.04,266.75 219.40,264.94 C219.76,263.13 220.53,259.30 220.90,257.96 C221.27,256.61 221.89,254.85 222.20,254.85 C222.51,254.85 222.91,256.92 223.20,257.96 C223.49,258.99 224.01,261.68 224.40,262.61 C224.79,263.54 225.63,264.68 226.10,264.94 C226.57,265.20 227.41,264.76 227.90,264.55 C228.39,264.35 229.33,264.11 229.80,263.39 C230.27,262.66 230.91,260.72 231.40,259.12 C231.89,257.52 232.94,252.76 233.50,251.36 C234.06,249.96 235.21,249.42 235.60,248.64 C235.99,247.87 236.19,246.26 236.40,245.54 C236.61,244.82 237.01,243.21 237.20,243.21 C237.39,243.21 237.59,244.71 237.80,245.54 C238.01,246.37 238.39,247.35 238.80,249.42 C239.21,251.49 240.33,258.21 240.90,261.06 C241.47,263.91 242.70,269.23 243.10,270.76 C243.50,272.29 242.39,272.27 243.90,272.51 C245.41,272.74 253.00,272.51 254.40,272.51" stroke="#2a4a8a" stroke-width="1.2" fill="none"/>
<rect x="213.40" y="232.20" width="41.30" height="41.00" fill="none" stroke="#111" stroke-width="1.1"/>
<text x="209.00" y="274.10" font-size="4.48" text-anchor="end" fill="#333" stroke="#333" stroke-width="0.05">0</text>
<line x1="211.20" y1="272.70" x2="213.40" y2="272.70" stroke="#111" stroke-width="0.6"/>
<text x="209.00" y="266.34" font-size="4.48" text-anchor="end" fill="#333" stroke="#333" stroke-width="0.05">20</text>
<line x1="211.20" y1="264.94" x2="213.40" y2="264.94" stroke="#111" stroke-width="0.6"/>
<text x="209.00" y="258.58" font-size="4.48" text-anchor="end" fill="#333" stroke="#333" stroke-width="0.05">40</text>
<line x1="211.20" y1="257.18" x2="213.40" y2="257.18" stroke="#111" stroke-width="0.6"/>
<text x="209.00" y="250.82" font-size="4.48" text-anchor="end" fill="#333" stroke="#333" stroke-width="0.05">60</text>
<line x1="211.20" y1="249.42" x2="213.40" y2="249.42" stroke="#111" stroke-width="0.6"/>
<text x="209.00" y="243.06" font-size="4.48" text-anchor="end" fill="#333" stroke="#333" stroke-width="0.05">80</text>
<line x1="211.20" y1="241.66" x2="213.40" y2="241.66" stroke="#111" stroke-width="0.6"/>
<text x="209.00" y="235.30" font-size="4.48" text-anchor="end" fill="#333" stroke="#333" stroke-width="0.05">100</text>
<line x1="211.20" y1="233.90" x2="213.40" y2="233.90" stroke="#111" stroke-width="0.6"/>
<line x1="212.20" y1="268.82" x2="213.40" y2="268.82" stroke="#111" stroke-width="0.5"/>
<line x1="212.20" y1="261.06" x2="213.40" y2="261.06" stroke="#111" stroke-width="0.5"/>
<line x1="212.20" y1="253.30" x2="213.40" y2="253.30" stroke="#111" stroke-width="0.5"/>
<line x1="212.20" y1="245.54" x2="213.40" y2="245.54" stroke="#111" stroke-width="0.5"/>
<line x1="212.20" y1="237.78" x2="213.40" y2="237.78" stroke="#111" stroke-width="0.5"/>
<line x1="221.00" y1="273.20" x2="221.00" y2="274.80" stroke="#111" stroke-width="0.6"/>
<text x="221.00" y="279.80" font-size="4.48" text-anchor="middle" fill="#333" stroke="#333" stroke-width="0.05">0</text>
<line x1="229.80" y1="273.20" x2="229.80" y2="274.80" stroke="#111" stroke-width="0.6"/>
<text x="229.80" y="279.80" font-size="4.48" text-anchor="middle" fill="#333" stroke="#333" stroke-width="0.05">10&#178;</text>
<line x1="240.40" y1="273.20" x2="240.40" y2="274.80" stroke="#111" stroke-width="0.6"/>
<text x="240.40" y="279.80" font-size="4.48" text-anchor="middle" fill="#333" stroke="#333" stroke-width="0.05">10&#179;</text>
<line x1="249.40" y1="273.20" x2="249.40" y2="274.80" stroke="#111" stroke-width="0.6"/>
<text x="249.40" y="279.80" font-size="4.48" text-anchor="middle" fill="#333" stroke="#333" stroke-width="0.05">10&#8308;</text>
<line x1="219.60" y1="273.20" x2="219.60" y2="274.20" stroke="#111" stroke-width="0.5"/>
<line x1="220.20" y1="273.20" x2="220.20" y2="274.20" stroke="#111" stroke-width="0.5"/>
<line x1="221.70" y1="273.20" x2="221.70" y2="274.20" stroke="#111" stroke-width="0.5"/>
<line x1="222.30" y1="273.20" x2="222.30" y2="274.20" stroke="#111" stroke-width="0.5"/>
<line x1="215.90" y1="273.20" x2="215.90" y2="274.10" stroke="#111" stroke-width="0.45"/>
<line x1="225.40" y1="273.20" x2="225.40" y2="274.10" stroke="#111" stroke-width="0.45"/>
<line x1="227.40" y1="273.20" x2="227.40" y2="274.10" stroke="#111" stroke-width="0.45"/>
<line x1="234.40" y1="273.20" x2="234.40" y2="274.10" stroke="#111" stroke-width="0.45"/>
<line x1="236.40" y1="273.20" x2="236.40" y2="274.10" stroke="#111" stroke-width="0.45"/>
<line x1="238.40" y1="273.20" x2="238.40" y2="274.10" stroke="#111" stroke-width="0.45"/>
<line x1="244.40" y1="273.20" x2="244.40" y2="274.10" stroke="#111" stroke-width="0.45"/>
<line x1="246.40" y1="273.20" x2="246.40" y2="274.10" stroke="#111" stroke-width="0.45"/>
<line x1="252.40" y1="273.20" x2="252.40" y2="274.10" stroke="#111" stroke-width="0.45"/>
<line x1="228.20" y1="257.40" x2="250.40" y2="257.40" stroke="#111" stroke-width="0.9"/>
<line x1="228.20" y1="256.20" x2="228.20" y2="258.60" stroke="#111" stroke-width="0.8"/>
<line x1="250.40" y1="256.20" x2="250.40" y2="258.60" stroke="#111" stroke-width="0.8"/>
<text x="239.30" y="253.20" font-size="4.48" text-anchor="middle" textLength="21.20" lengthAdjust="spacingAndGlyphs" fill="#333" stroke="#333" stroke-width="0.05">74.3%|8.4%</text>
<text x="265.20" y="157.60" font-size="10.61" textLength="5.00" lengthAdjust="spacingAndGlyphs" fill="#111" stroke="#111" stroke-width="0.35">F</text>
<text x="332.40" y="170.60" font-size="8.40" text-anchor="middle" textLength="8.40" lengthAdjust="spacingAndGlyphs" fill="#161616" stroke="#161616" stroke-width="0.12">D5</text>
<text x="394.30" y="170.70" font-size="8.40" text-anchor="middle" textLength="12.30" lengthAdjust="spacingAndGlyphs" fill="#161616" stroke="#161616" stroke-width="0.12">D15</text>
<text x="271.30" y="194.40" font-size="7.84" text-anchor="middle" transform="rotate(-90 271.30 194.40)" textLength="30.80" lengthAdjust="spacingAndGlyphs" fill="#161616" stroke="#161616" stroke-width="0.12">Luciferase</text>
<text x="280.20" y="194.40" font-size="7.84" text-anchor="middle" transform="rotate(-90 280.20 194.40)" textLength="21.00" lengthAdjust="spacingAndGlyphs" fill="#161616" stroke="#161616" stroke-width="0.12">-CFU-E</text>
<text x="271.30" y="252.00" font-size="7.84" text-anchor="middle" transform="rotate(-90 271.30 252.00)" textLength="25.00" lengthAdjust="spacingAndGlyphs" fill="#161616" stroke="#161616" stroke-width="0.12">TET2 KD</text>
<text x="279.60" y="252.00" font-size="7.84" text-anchor="middle" transform="rotate(-90 279.60 252.00)" textLength="27.00" lengthAdjust="spacingAndGlyphs" fill="#161616" stroke="#161616" stroke-width="0.12">GPA<tspan dy="-2.82" font-size="4.70">-</tspan><tspan dy="2.82">cells</tspan></text>
<text x="291.60" y="231.80" font-size="11.20" text-anchor="middle" transform="rotate(-90 291.60 231.80)" textLength="44.50" lengthAdjust="spacingAndGlyphs" fill="#161616" stroke="#161616" stroke-width="0.12">&#945;4-integrin</text>
<text x="344.60" y="295.80" font-size="10.64" textLength="25.90" lengthAdjust="spacingAndGlyphs" fill="#161616" stroke="#161616" stroke-width="0.12">Band3</text>
<line x1="296.50" y1="177.60" x2="296.50" y2="285.30" stroke="#111" stroke-width="1.1"/>
<line x1="296.50" y1="285.30" x2="416.00" y2="285.30" stroke="#111" stroke-width="1.1"/>
<g filter="url(#bl)">
<path d="M321.20,185.20 C321.80,184.78 322.53,184.28 324.00,184.10 C325.47,183.92 327.85,184.07 330.00,184.10 C332.15,184.13 335.15,183.73 336.90,184.30 C338.65,184.87 339.55,186.30 340.50,187.50 C341.45,188.70 342.12,189.93 342.60,191.50 C343.08,193.07 343.58,195.10 343.40,196.90 C343.22,198.70 342.15,201.53 341.50,202.30 C340.85,203.07 340.33,202.15 339.50,201.50 C338.67,200.85 337.92,199.57 336.50,198.40 C335.08,197.23 332.85,195.87 331.00,194.50 C329.15,193.13 326.98,191.18 325.40,190.20 C323.82,189.22 322.33,189.20 321.50,188.60 C320.67,188.00 320.45,187.17 320.40,186.60 C320.35,186.03 320.60,185.62 321.20,185.20Z" stroke="none" stroke-width="1" fill="#1e3cf0"/>
<path d="M323.50,185.20 C324.62,184.77 327.75,184.75 330.00,184.80 C332.25,184.85 335.23,184.80 337.00,185.50 C338.77,186.20 339.80,187.50 340.60,189.00 C341.40,190.50 341.83,192.75 341.80,194.50 C341.77,196.25 341.20,199.17 340.40,199.50 C339.60,199.83 338.48,197.58 337.00,196.50 C335.52,195.42 333.33,194.15 331.50,193.00 C329.67,191.85 327.37,190.53 326.00,189.60 C324.63,188.67 323.72,188.13 323.30,187.40 C322.88,186.67 322.38,185.63 323.50,185.20Z" stroke="none" stroke-width="1" fill="#3ec8f0"/>
<path d="M339.33,195.02 C338.91,195.62 338.15,196.09 337.30,196.28 C336.46,196.46 335.32,196.41 334.28,196.13 C333.24,195.85 332.03,195.27 331.08,194.60 C330.12,193.94 329.16,192.99 328.55,192.11 C327.93,191.23 327.49,190.18 327.37,189.33 C327.26,188.47 327.45,187.59 327.87,186.98 C328.29,186.38 329.05,185.91 329.90,185.72 C330.74,185.54 331.88,185.59 332.92,185.87 C333.96,186.15 335.17,186.73 336.12,187.40 C337.08,188.06 338.04,189.01 338.65,189.89 C339.27,190.77 339.71,191.82 339.83,192.67 C339.94,193.53 339.75,194.41 339.33,195.02Z" stroke="none" stroke-width="1" fill="#6ee06a"/>
<path d="M337.91,192.08 C337.66,192.43 337.22,192.73 336.75,192.85 C336.28,192.98 335.64,192.97 335.06,192.83 C334.49,192.70 333.83,192.39 333.31,192.03 C332.79,191.67 332.28,191.15 331.95,190.65 C331.63,190.16 331.40,189.57 331.36,189.08 C331.31,188.59 331.44,188.08 331.69,187.72 C331.94,187.37 332.38,187.07 332.85,186.95 C333.32,186.82 333.96,186.83 334.54,186.97 C335.11,187.10 335.77,187.41 336.29,187.77 C336.81,188.13 337.32,188.65 337.65,189.15 C337.97,189.64 338.20,190.23 338.24,190.72 C338.29,191.21 338.16,191.72 337.91,192.08Z" stroke="none" stroke-width="1" fill="#f0ee30"/>
<path d="M336.60,189.70 C336.60,189.88 336.53,190.09 336.41,190.25 C336.30,190.41 336.10,190.56 335.90,190.65 C335.70,190.74 335.43,190.80 335.20,190.80 C334.97,190.80 334.70,190.74 334.50,190.65 C334.30,190.56 334.10,190.41 333.99,190.25 C333.87,190.09 333.80,189.88 333.80,189.70 C333.80,189.52 333.87,189.31 333.99,189.15 C334.10,188.99 334.30,188.84 334.50,188.75 C334.70,188.66 334.97,188.60 335.20,188.60 C335.43,188.60 335.70,188.66 335.90,188.75 C336.10,188.84 336.30,188.99 336.41,189.15 C336.53,189.31 336.60,189.52 336.60,189.70Z" stroke="none" stroke-width="1" fill="#e8301a"/>
</g>
<g filter="url(#bl)">
<path d="M393.80,188.20 C394.47,187.40 396.62,187.47 398.20,187.60 C399.78,187.73 402.20,188.33 403.30,189.00 C404.40,189.67 403.73,190.63 404.80,191.60 C405.87,192.57 408.63,193.28 409.70,194.80 C410.77,196.32 411.07,199.03 411.20,200.70 C411.33,202.37 410.97,203.70 410.50,204.80 C410.03,205.90 410.45,206.88 408.40,207.30 C406.35,207.72 400.12,207.98 398.20,207.30 C396.28,206.62 397.23,204.93 396.90,203.20 C396.57,201.47 396.65,198.70 396.20,196.90 C395.75,195.10 394.60,193.85 394.20,192.40 C393.80,190.95 393.13,189.00 393.80,188.20Z" stroke="none" stroke-width="1" fill="#1e3cf0"/>
<path d="M397.50,193.20 C398.60,192.00 402.15,192.42 404.00,192.80 C405.85,193.18 407.73,194.13 408.60,195.50 C409.47,196.87 409.23,199.22 409.20,201.00 C409.17,202.78 410.17,205.33 408.40,206.20 C406.63,207.07 400.43,207.23 398.60,206.20 C396.77,205.17 397.58,202.17 397.40,200.00 C397.22,197.83 396.40,194.40 397.50,193.20Z" stroke="none" stroke-width="1" fill="#3ec8f0"/>
<path d="M399.30,196.60 C400.55,195.87 405.05,195.87 406.50,196.60 C407.95,197.33 407.83,199.53 408.00,201.00 C408.17,202.47 408.90,204.67 407.50,205.40 C406.10,206.13 401.02,206.13 399.60,205.40 C398.18,204.67 399.05,202.47 399.00,201.00 C398.95,199.53 398.05,197.33 399.30,196.60Z" stroke="none" stroke-width="1" fill="#6ee06a"/>
<path d="M406.20,201.00 C406.20,201.43 406.05,201.92 405.80,202.30 C405.55,202.68 405.13,203.03 404.70,203.25 C404.27,203.47 403.70,203.60 403.20,203.60 C402.70,203.60 402.13,203.47 401.70,203.25 C401.27,203.03 400.85,202.68 400.60,202.30 C400.35,201.92 400.20,201.43 400.20,201.00 C400.20,200.57 400.35,200.08 400.60,199.70 C400.85,199.32 401.27,198.97 401.70,198.75 C402.13,198.53 402.70,198.40 403.20,198.40 C403.70,198.40 404.27,198.53 404.70,198.75 C405.13,198.97 405.55,199.32 405.80,199.70 C406.05,200.08 406.20,200.57 406.20,201.00Z" stroke="none" stroke-width="1" fill="#f0ee30"/>
<path d="M404.60,201.30 C404.60,201.48 404.53,201.69 404.43,201.85 C404.32,202.01 404.14,202.16 403.95,202.25 C403.76,202.34 403.52,202.40 403.30,202.40 C403.08,202.40 402.84,202.34 402.65,202.25 C402.46,202.16 402.28,202.01 402.17,201.85 C402.07,201.69 402.00,201.48 402.00,201.30 C402.00,201.12 402.07,200.91 402.17,200.75 C402.28,200.59 402.46,200.44 402.65,200.35 C402.84,200.26 403.08,200.20 403.30,200.20 C403.52,200.20 403.76,200.26 403.95,200.35 C404.14,200.44 404.32,200.59 404.43,200.75 C404.53,200.91 404.60,201.12 404.60,201.30Z" stroke="none" stroke-width="1" fill="#e8301a"/>
</g>
<circle cx="391.2" cy="188.3" r="0.9" fill="#1e3cf0"/>
<g filter="url(#bl)">
<path d="M320.90,238.80 C322.32,238.20 325.55,238.48 328.00,238.60 C330.45,238.72 333.83,239.00 335.60,239.50 C337.37,240.00 337.93,240.75 338.60,241.60 C339.27,242.45 338.87,243.78 339.60,244.60 C340.33,245.42 342.40,245.60 343.00,246.50 C343.60,247.40 343.48,248.88 343.20,250.00 C342.92,251.12 342.03,252.55 341.30,253.20 C340.57,253.85 339.47,254.22 338.80,253.90 C338.13,253.58 338.37,251.93 337.30,251.30 C336.23,250.67 333.97,250.73 332.40,250.10 C330.83,249.47 329.50,248.05 327.90,247.50 C326.30,246.95 324.12,247.17 322.80,246.80 C321.48,246.43 320.55,246.07 320.00,245.30 C319.45,244.53 319.35,243.28 319.50,242.20 C319.65,241.12 319.48,239.40 320.90,238.80Z" stroke="none" stroke-width="1" fill="#1e3cf0"/>
<path d="M321.40,239.60 C322.93,239.00 327.63,239.27 330.00,239.40 C332.37,239.53 334.27,239.73 335.60,240.40 C336.93,241.07 337.85,242.43 338.00,243.40 C338.15,244.37 338.00,245.73 336.50,246.20 C335.00,246.67 331.25,246.27 329.00,246.20 C326.75,246.13 324.37,246.33 323.00,245.80 C321.63,245.27 321.07,244.03 320.80,243.00 C320.53,241.97 319.87,240.20 321.40,239.60Z" stroke="none" stroke-width="1" fill="#3ec8f0"/>
<path d="M321.80,240.00 C322.77,239.53 325.50,239.70 327.00,239.80 C328.50,239.90 330.03,240.03 330.80,240.60 C331.57,241.17 331.65,242.37 331.60,243.20 C331.55,244.03 331.43,245.17 330.50,245.60 C329.57,246.03 327.32,245.85 326.00,245.80 C324.68,245.75 323.40,245.83 322.60,245.30 C321.80,244.77 321.33,243.48 321.20,242.60 C321.07,241.72 320.83,240.47 321.80,240.00Z" stroke="none" stroke-width="1" fill="#6ee06a"/>
<path d="M326.00,242.50 C326.00,242.90 325.88,243.35 325.68,243.70 C325.48,244.05 325.15,244.38 324.80,244.58 C324.45,244.78 324.00,244.90 323.60,244.90 C323.20,244.90 322.75,244.78 322.40,244.58 C322.05,244.38 321.72,244.05 321.52,243.70 C321.32,243.35 321.20,242.90 321.20,242.50 C321.20,242.10 321.32,241.65 321.52,241.30 C321.72,240.95 322.05,240.62 322.40,240.42 C322.75,240.22 323.20,240.10 323.60,240.10 C324.00,240.10 324.45,240.22 324.80,240.42 C325.15,240.62 325.48,240.95 325.68,241.30 C325.88,241.65 326.00,242.10 326.00,242.50Z" stroke="none" stroke-width="1" fill="#f0ee30"/>
<path d="M323.80,242.30 C323.80,242.48 323.74,242.69 323.64,242.85 C323.54,243.01 323.37,243.16 323.20,243.25 C323.03,243.34 322.80,243.40 322.60,243.40 C322.40,243.40 322.17,243.34 322.00,243.25 C321.83,243.16 321.66,243.01 321.56,242.85 C321.46,242.69 321.40,242.48 321.40,242.30 C321.40,242.12 321.46,241.91 321.56,241.75 C321.66,241.59 321.83,241.44 322.00,241.35 C322.17,241.26 322.40,241.20 322.60,241.20 C322.80,241.20 323.03,241.26 323.20,241.35 C323.37,241.44 323.54,241.59 323.64,241.75 C323.74,241.91 323.80,242.12 323.80,242.30Z" stroke="none" stroke-width="1" fill="#e8301a"/>
</g>
<rect x="332.8" y="246.6" width="10.0" height="3.2" fill="#1a36e0" filter="url(#bl)"/>
<g filter="url(#bl)">
<path d="M384.30,239.00 C385.53,238.48 388.17,238.78 390.00,238.90 C391.83,239.02 393.43,239.20 395.30,239.70 C397.17,240.20 399.73,241.03 401.20,241.90 C402.67,242.77 403.48,243.80 404.10,244.90 C404.72,246.00 404.90,246.92 404.90,248.50 C404.90,250.08 404.35,252.43 404.10,254.40 C403.85,256.37 404.38,259.20 403.40,260.30 C402.42,261.40 399.30,261.62 398.20,261.00 C397.10,260.38 397.17,258.07 396.80,256.60 C396.43,255.13 396.62,253.42 396.00,252.20 C395.38,250.98 394.43,250.15 393.10,249.30 C391.77,248.45 389.60,247.72 388.00,247.10 C386.40,246.48 384.40,246.45 383.50,245.60 C382.60,244.75 382.47,243.10 382.60,242.00 C382.73,240.90 383.07,239.52 384.30,239.00Z" stroke="none" stroke-width="1" fill="#1e3cf0"/>
<path d="M384.40,239.60 C385.83,239.20 389.65,239.40 392.00,239.60 C394.35,239.80 396.97,240.10 398.50,240.80 C400.03,241.50 401.03,242.90 401.20,243.80 C401.37,244.70 401.37,245.80 399.50,246.20 C397.63,246.60 392.52,246.40 390.00,246.20 C387.48,246.00 385.50,245.70 384.40,245.00 C383.30,244.30 383.40,242.90 383.40,242.00 C383.40,241.10 382.97,240.00 384.40,239.60Z" stroke="none" stroke-width="1" fill="#3ec8f0"/>
<path d="M384.60,240.00 C385.38,239.55 387.33,239.80 388.50,239.90 C389.67,240.00 390.98,240.05 391.60,240.60 C392.22,241.15 392.27,242.37 392.20,243.20 C392.13,244.03 392.07,245.17 391.20,245.60 C390.33,246.03 388.10,245.87 387.00,245.80 C385.90,245.73 385.13,245.73 384.60,245.20 C384.07,244.67 383.80,243.47 383.80,242.60 C383.80,241.73 383.82,240.45 384.60,240.00Z" stroke="none" stroke-width="1" fill="#6ee06a"/>
<path d="M388.20,242.60 C388.20,242.98 388.08,243.42 387.89,243.75 C387.70,244.08 387.38,244.40 387.05,244.59 C386.72,244.78 386.28,244.90 385.90,244.90 C385.52,244.90 385.08,244.78 384.75,244.59 C384.42,244.40 384.10,244.08 383.91,243.75 C383.72,243.42 383.60,242.98 383.60,242.60 C383.60,242.22 383.72,241.78 383.91,241.45 C384.10,241.12 384.42,240.80 384.75,240.61 C385.08,240.42 385.52,240.30 385.90,240.30 C386.28,240.30 386.72,240.42 387.05,240.61 C387.38,240.80 387.70,241.12 387.89,241.45 C388.08,241.78 388.20,242.22 388.20,242.60Z" stroke="none" stroke-width="1" fill="#f0ee30"/>
<path d="M386.50,242.70 C386.50,242.88 386.44,243.09 386.34,243.25 C386.24,243.41 386.07,243.56 385.90,243.65 C385.73,243.74 385.50,243.80 385.30,243.80 C385.10,243.80 384.87,243.74 384.70,243.65 C384.53,243.56 384.36,243.41 384.26,243.25 C384.16,243.09 384.10,242.88 384.10,242.70 C384.10,242.52 384.16,242.31 384.26,242.15 C384.36,241.99 384.53,241.84 384.70,241.75 C384.87,241.66 385.10,241.60 385.30,241.60 C385.50,241.60 385.73,241.66 385.90,241.75 C386.07,241.84 386.24,241.99 386.34,242.15 C386.44,242.31 386.50,242.52 386.50,242.70Z" stroke="none" stroke-width="1" fill="#e8301a"/>
</g>
<circle cx="390" cy="251.5" r="0.7" fill="#1e3cf0"/>
<circle cx="392.4" cy="253" r="0.7" fill="#1e3cf0"/>
<circle cx="394.6" cy="253.7" r="0.7" fill="#1e3cf0"/>
<circle cx="388.5" cy="250.6" r="0.7" fill="#1e3cf0"/>
<line x1="312.60" y1="183.30" x2="340.80" y2="183.30" stroke="#333" stroke-width="0.7"/>
<line x1="340.80" y1="183.30" x2="340.80" y2="191.20" stroke="#333" stroke-width="0.7"/>
<line x1="312.60" y1="191.20" x2="340.80" y2="191.20" stroke="#333" stroke-width="0.7"/>
<line x1="325.40" y1="183.30" x2="325.40" y2="191.20" stroke="#333" stroke-width="0.7"/>
<line x1="329.70" y1="183.30" x2="329.70" y2="191.20" stroke="#333" stroke-width="0.7"/>
<rect x="333.00" y="191.20" width="10.20" height="4.10" fill="none" stroke="#333" stroke-width="0.7"/>
<rect x="335.50" y="195.80" width="9.60" height="11.60" fill="none" stroke="#333" stroke-width="0.7"/>
<rect x="312.60" y="175.30" width="39.80" height="38.80" fill="none" stroke="#111" stroke-width="1.1"/>
<line x1="310.40" y1="179.70" x2="312.60" y2="179.70" stroke="#111" stroke-width="0.8"/>
<text x="309.40" y="181.10" font-size="4.70" text-anchor="end" fill="#333" stroke="#333" stroke-width="0.05">10&#179;</text>
<line x1="310.40" y1="188.80" x2="312.60" y2="188.80" stroke="#111" stroke-width="0.8"/>
<text x="309.40" y="190.20" font-size="4.70" text-anchor="end" fill="#333" stroke="#333" stroke-width="0.05">10&#178;</text>
<line x1="310.40" y1="199.60" x2="312.60" y2="199.60" stroke="#111" stroke-width="0.8"/>
<text x="309.40" y="201.00" font-size="4.70" text-anchor="end" fill="#333" stroke="#333" stroke-width="0.05">10&#185;</text>
<line x1="310.40" y1="206.50" x2="312.60" y2="206.50" stroke="#111" stroke-width="0.8"/>
<text x="309.40" y="207.90" font-size="4.70" text-anchor="end" fill="#333" stroke="#333" stroke-width="0.05">0</text>
<line x1="310.40" y1="212.90" x2="312.60" y2="212.90" stroke="#111" stroke-width="0.8"/>
<text x="309.40" y="214.30" font-size="4.70" text-anchor="end" fill="#333" stroke="#333" stroke-width="0.05">-10&#185;</text>
<line x1="311.30" y1="177.30" x2="312.60" y2="177.30" stroke="#111" stroke-width="0.55"/>
<line x1="311.30" y1="178.30" x2="312.60" y2="178.30" stroke="#111" stroke-width="0.55"/>
<line x1="311.30" y1="181.80" x2="312.60" y2="181.80" stroke="#111" stroke-width="0.55"/>
<line x1="311.30" y1="182.80" x2="312.60" y2="182.80" stroke="#111" stroke-width="0.55"/>
<line x1="311.30" y1="183.80" x2="312.60" y2="183.80" stroke="#111" stroke-width="0.55"/>
<line x1="311.30" y1="186.30" x2="312.60" y2="186.30" stroke="#111" stroke-width="0.55"/>
<line x1="311.30" y1="187.30" x2="312.60" y2="187.30" stroke="#111" stroke-width="0.55"/>
<line x1="311.30" y1="190.80" x2="312.60" y2="190.80" stroke="#111" stroke-width="0.55"/>
<line x1="311.30" y1="191.80" x2="312.60" y2="191.80" stroke="#111" stroke-width="0.55"/>
<line x1="311.30" y1="192.80" x2="312.60" y2="192.80" stroke="#111" stroke-width="0.55"/>
<line x1="311.30" y1="196.80" x2="312.60" y2="196.80" stroke="#111" stroke-width="0.55"/>
<line x1="311.30" y1="197.80" x2="312.60" y2="197.80" stroke="#111" stroke-width="0.55"/>
<line x1="311.30" y1="201.80" x2="312.60" y2="201.80" stroke="#111" stroke-width="0.55"/>
<line x1="311.30" y1="203.30" x2="312.60" y2="203.30" stroke="#111" stroke-width="0.55"/>
<line x1="311.30" y1="204.80" x2="312.60" y2="204.80" stroke="#111" stroke-width="0.55"/>
<line x1="311.30" y1="207.80" x2="312.60" y2="207.80" stroke="#111" stroke-width="0.55"/>
<line x1="311.30" y1="209.30" x2="312.60" y2="209.30" stroke="#111" stroke-width="0.55"/>
<line x1="311.30" y1="210.80" x2="312.60" y2="210.80" stroke="#111" stroke-width="0.55"/>
<line x1="315.30" y1="214.10" x2="315.30" y2="216.30" stroke="#111" stroke-width="0.8"/>
<text x="315.30" y="222.50" font-size="4.70" text-anchor="middle" fill="#333" stroke="#333" stroke-width="0.05">-10&#185;</text>
<line x1="321.30" y1="214.10" x2="321.30" y2="216.30" stroke="#111" stroke-width="0.8"/>
<text x="321.30" y="222.50" font-size="4.70" text-anchor="middle" fill="#333" stroke="#333" stroke-width="0.05">0</text>
<line x1="328.30" y1="214.10" x2="328.30" y2="216.30" stroke="#111" stroke-width="0.8"/>
<text x="328.30" y="222.50" font-size="4.70" text-anchor="middle" fill="#333" stroke="#333" stroke-width="0.05">10&#185;</text>
<line x1="339.20" y1="214.10" x2="339.20" y2="216.30" stroke="#111" stroke-width="0.8"/>
<text x="339.20" y="222.50" font-size="4.70" text-anchor="middle" fill="#333" stroke="#333" stroke-width="0.05">10&#179;</text>
<line x1="348.20" y1="214.10" x2="348.20" y2="216.30" stroke="#111" stroke-width="0.8"/>
<text x="348.20" y="222.50" font-size="4.70" text-anchor="middle" fill="#333" stroke="#333" stroke-width="0.05">10&#8308;</text>
<line x1="313.80" y1="214.10" x2="313.80" y2="215.40" stroke="#111" stroke-width="0.55"/>
<line x1="316.80" y1="214.10" x2="316.80" y2="215.40" stroke="#111" stroke-width="0.55"/>
<line x1="317.80" y1="214.10" x2="317.80" y2="215.40" stroke="#111" stroke-width="0.55"/>
<line x1="319.00" y1="214.10" x2="319.00" y2="215.40" stroke="#111" stroke-width="0.55"/>
<line x1="320.20" y1="214.10" x2="320.20" y2="215.40" stroke="#111" stroke-width="0.55"/>
<line x1="322.60" y1="214.10" x2="322.60" y2="215.40" stroke="#111" stroke-width="0.55"/>
<line x1="323.80" y1="214.10" x2="323.80" y2="215.40" stroke="#111" stroke-width="0.55"/>
<line x1="326.00" y1="214.10" x2="326.00" y2="215.40" stroke="#111" stroke-width="0.55"/>
<line x1="327.10" y1="214.10" x2="327.10" y2="215.40" stroke="#111" stroke-width="0.55"/>
<line x1="329.60" y1="214.10" x2="329.60" y2="215.40" stroke="#111" stroke-width="0.55"/>
<line x1="330.80" y1="214.10" x2="330.80" y2="215.40" stroke="#111" stroke-width="0.55"/>
<line x1="332.60" y1="214.10" x2="332.60" y2="215.40" stroke="#111" stroke-width="0.55"/>
<line x1="334.10" y1="214.10" x2="334.10" y2="215.40" stroke="#111" stroke-width="0.55"/>
<line x1="335.60" y1="214.10" x2="335.60" y2="215.40" stroke="#111" stroke-width="0.55"/>
<line x1="337.10" y1="214.10" x2="337.10" y2="215.40" stroke="#111" stroke-width="0.55"/>
<line x1="340.60" y1="214.10" x2="340.60" y2="215.40" stroke="#111" stroke-width="0.55"/>
<line x1="342.10" y1="214.10" x2="342.10" y2="215.40" stroke="#111" stroke-width="0.55"/>
<line x1="343.60" y1="214.10" x2="343.60" y2="215.40" stroke="#111" stroke-width="0.55"/>
<line x1="345.60" y1="214.10" x2="345.60" y2="215.40" stroke="#111" stroke-width="0.55"/>
<line x1="346.80" y1="214.10" x2="346.80" y2="215.40" stroke="#111" stroke-width="0.55"/>
<line x1="349.60" y1="214.10" x2="349.60" y2="215.40" stroke="#111" stroke-width="0.55"/>
<line x1="351.10" y1="214.10" x2="351.10" y2="215.40" stroke="#111" stroke-width="0.55"/>
<line x1="374.50" y1="183.50" x2="404.40" y2="183.50" stroke="#333" stroke-width="0.7"/>
<line x1="404.40" y1="183.50" x2="404.40" y2="191.50" stroke="#333" stroke-width="0.7"/>
<line x1="374.50" y1="191.50" x2="404.40" y2="191.50" stroke="#333" stroke-width="0.7"/>
<line x1="388.30" y1="183.50" x2="388.30" y2="191.50" stroke="#333" stroke-width="0.7"/>
<line x1="393.40" y1="183.50" x2="393.40" y2="191.50" stroke="#333" stroke-width="0.7"/>
<rect x="398.20" y="193.70" width="10.80" height="13.60" fill="none" stroke="#333" stroke-width="0.7"/>
<rect x="374.50" y="175.30" width="42.00" height="38.80" fill="none" stroke="#111" stroke-width="1.1"/>
<line x1="372.30" y1="179.70" x2="374.50" y2="179.70" stroke="#111" stroke-width="0.8"/>
<text x="371.30" y="181.10" font-size="4.70" text-anchor="end" fill="#333" stroke="#333" stroke-width="0.05">10&#179;</text>
<line x1="372.30" y1="188.80" x2="374.50" y2="188.80" stroke="#111" stroke-width="0.8"/>
<text x="371.30" y="190.20" font-size="4.70" text-anchor="end" fill="#333" stroke="#333" stroke-width="0.05">10&#178;</text>
<line x1="372.30" y1="199.60" x2="374.50" y2="199.60" stroke="#111" stroke-width="0.8"/>
<text x="371.30" y="201.00" font-size="4.70" text-anchor="end" fill="#333" stroke="#333" stroke-width="0.05">10&#185;</text>
<line x1="372.30" y1="206.50" x2="374.50" y2="206.50" stroke="#111" stroke-width="0.8"/>
<text x="371.30" y="207.90" font-size="4.70" text-anchor="end" fill="#333" stroke="#333" stroke-width="0.05">0</text>
<line x1="372.30" y1="212.90" x2="374.50" y2="212.90" stroke="#111" stroke-width="0.8"/>
<text x="371.30" y="214.30" font-size="4.70" text-anchor="end" fill="#333" stroke="#333" stroke-width="0.05">-10&#185;</text>
<line x1="373.20" y1="177.30" x2="374.50" y2="177.30" stroke="#111" stroke-width="0.55"/>
<line x1="373.20" y1="178.30" x2="374.50" y2="178.30" stroke="#111" stroke-width="0.55"/>
<line x1="373.20" y1="181.80" x2="374.50" y2="181.80" stroke="#111" stroke-width="0.55"/>
<line x1="373.20" y1="182.80" x2="374.50" y2="182.80" stroke="#111" stroke-width="0.55"/>
<line x1="373.20" y1="183.80" x2="374.50" y2="183.80" stroke="#111" stroke-width="0.55"/>
<line x1="373.20" y1="186.30" x2="374.50" y2="186.30" stroke="#111" stroke-width="0.55"/>
<line x1="373.20" y1="187.30" x2="374.50" y2="187.30" stroke="#111" stroke-width="0.55"/>
<line x1="373.20" y1="190.80" x2="374.50" y2="190.80" stroke="#111" stroke-width="0.55"/>
<line x1="373.20" y1="191.80" x2="374.50" y2="191.80" stroke="#111" stroke-width="0.55"/>
<line x1="373.20" y1="192.80" x2="374.50" y2="192.80" stroke="#111" stroke-width="0.55"/>
<line x1="373.20" y1="196.80" x2="374.50" y2="196.80" stroke="#111" stroke-width="0.55"/>
<line x1="373.20" y1="197.80" x2="374.50" y2="197.80" stroke="#111" stroke-width="0.55"/>
<line x1="373.20" y1="201.80" x2="374.50" y2="201.80" stroke="#111" stroke-width="0.55"/>
<line x1="373.20" y1="203.30" x2="374.50" y2="203.30" stroke="#111" stroke-width="0.55"/>
<line x1="373.20" y1="204.80" x2="374.50" y2="204.80" stroke="#111" stroke-width="0.55"/>
<line x1="373.20" y1="207.80" x2="374.50" y2="207.80" stroke="#111" stroke-width="0.55"/>
<line x1="373.20" y1="209.30" x2="374.50" y2="209.30" stroke="#111" stroke-width="0.55"/>
<line x1="373.20" y1="210.80" x2="374.50" y2="210.80" stroke="#111" stroke-width="0.55"/>
<line x1="377.20" y1="214.10" x2="377.20" y2="216.30" stroke="#111" stroke-width="0.8"/>
<text x="377.20" y="222.50" font-size="4.70" text-anchor="middle" fill="#333" stroke="#333" stroke-width="0.05">-10&#185;</text>
<line x1="383.20" y1="214.10" x2="383.20" y2="216.30" stroke="#111" stroke-width="0.8"/>
<text x="383.20" y="222.50" font-size="4.70" text-anchor="middle" fill="#333" stroke="#333" stroke-width="0.05">0</text>
<line x1="390.20" y1="214.10" x2="390.20" y2="216.30" stroke="#111" stroke-width="0.8"/>
<text x="390.20" y="222.50" font-size="4.70" text-anchor="middle" fill="#333" stroke="#333" stroke-width="0.05">10&#185;</text>
<line x1="401.10" y1="214.10" x2="401.10" y2="216.30" stroke="#111" stroke-width="0.8"/>
<text x="401.10" y="222.50" font-size="4.70" text-anchor="middle" fill="#333" stroke="#333" stroke-width="0.05">10&#179;</text>
<line x1="410.10" y1="214.10" x2="410.10" y2="216.30" stroke="#111" stroke-width="0.8"/>
<text x="410.10" y="222.50" font-size="4.70" text-anchor="middle" fill="#333" stroke="#333" stroke-width="0.05">10&#8308;</text>
<line x1="375.70" y1="214.10" x2="375.70" y2="215.40" stroke="#111" stroke-width="0.55"/>
<line x1="378.70" y1="214.10" x2="378.70" y2="215.40" stroke="#111" stroke-width="0.55"/>
<line x1="379.70" y1="214.10" x2="379.70" y2="215.40" stroke="#111" stroke-width="0.55"/>
<line x1="380.90" y1="214.10" x2="380.90" y2="215.40" stroke="#111" stroke-width="0.55"/>
<line x1="382.10" y1="214.10" x2="382.10" y2="215.40" stroke="#111" stroke-width="0.55"/>
<line x1="384.50" y1="214.10" x2="384.50" y2="215.40" stroke="#111" stroke-width="0.55"/>
<line x1="385.70" y1="214.10" x2="385.70" y2="215.40" stroke="#111" stroke-width="0.55"/>
<line x1="387.90" y1="214.10" x2="387.90" y2="215.40" stroke="#111" stroke-width="0.55"/>
<line x1="389.00" y1="214.10" x2="389.00" y2="215.40" stroke="#111" stroke-width="0.55"/>
<line x1="391.50" y1="214.10" x2="391.50" y2="215.40" stroke="#111" stroke-width="0.55"/>
<line x1="392.70" y1="214.10" x2="392.70" y2="215.40" stroke="#111" stroke-width="0.55"/>
<line x1="394.50" y1="214.10" x2="394.50" y2="215.40" stroke="#111" stroke-width="0.55"/>
<line x1="396.00" y1="214.10" x2="396.00" y2="215.40" stroke="#111" stroke-width="0.55"/>
<line x1="397.50" y1="214.10" x2="397.50" y2="215.40" stroke="#111" stroke-width="0.55"/>
<line x1="399.00" y1="214.10" x2="399.00" y2="215.40" stroke="#111" stroke-width="0.55"/>
<line x1="402.50" y1="214.10" x2="402.50" y2="215.40" stroke="#111" stroke-width="0.55"/>
<line x1="404.00" y1="214.10" x2="404.00" y2="215.40" stroke="#111" stroke-width="0.55"/>
<line x1="405.50" y1="214.10" x2="405.50" y2="215.40" stroke="#111" stroke-width="0.55"/>
<line x1="407.50" y1="214.10" x2="407.50" y2="215.40" stroke="#111" stroke-width="0.55"/>
<line x1="408.70" y1="214.10" x2="408.70" y2="215.40" stroke="#111" stroke-width="0.55"/>
<line x1="411.50" y1="214.10" x2="411.50" y2="215.40" stroke="#111" stroke-width="0.55"/>
<line x1="413.00" y1="214.10" x2="413.00" y2="215.40" stroke="#111" stroke-width="0.55"/>
<line x1="312.60" y1="238.40" x2="340.40" y2="238.40" stroke="#333" stroke-width="0.7"/>
<line x1="340.40" y1="238.40" x2="340.40" y2="246.40" stroke="#333" stroke-width="0.7"/>
<line x1="312.60" y1="246.40" x2="340.40" y2="246.40" stroke="#333" stroke-width="0.7"/>
<line x1="325.40" y1="238.40" x2="325.40" y2="246.40" stroke="#333" stroke-width="0.7"/>
<line x1="329.90" y1="238.40" x2="329.90" y2="246.40" stroke="#333" stroke-width="0.7"/>
<rect x="333.00" y="246.40" width="10.00" height="3.50" fill="none" stroke="#333" stroke-width="0.7"/>
<rect x="334.60" y="250.50" width="10.90" height="12.10" fill="none" stroke="#333" stroke-width="0.7"/>
<rect x="312.60" y="231.60" width="39.80" height="39.30" fill="none" stroke="#111" stroke-width="1.1"/>
<line x1="310.40" y1="236.00" x2="312.60" y2="236.00" stroke="#111" stroke-width="0.8"/>
<text x="309.40" y="237.40" font-size="4.70" text-anchor="end" fill="#333" stroke="#333" stroke-width="0.05">10&#179;</text>
<line x1="310.40" y1="245.10" x2="312.60" y2="245.10" stroke="#111" stroke-width="0.8"/>
<text x="309.40" y="246.50" font-size="4.70" text-anchor="end" fill="#333" stroke="#333" stroke-width="0.05">10&#178;</text>
<line x1="310.40" y1="255.90" x2="312.60" y2="255.90" stroke="#111" stroke-width="0.8"/>
<text x="309.40" y="257.30" font-size="4.70" text-anchor="end" fill="#333" stroke="#333" stroke-width="0.05">10&#185;</text>
<line x1="310.40" y1="262.80" x2="312.60" y2="262.80" stroke="#111" stroke-width="0.8"/>
<text x="309.40" y="264.20" font-size="4.70" text-anchor="end" fill="#333" stroke="#333" stroke-width="0.05">0</text>
<line x1="310.40" y1="269.20" x2="312.60" y2="269.20" stroke="#111" stroke-width="0.8"/>
<text x="309.40" y="270.60" font-size="4.70" text-anchor="end" fill="#333" stroke="#333" stroke-width="0.05">-10&#185;</text>
<line x1="311.30" y1="233.60" x2="312.60" y2="233.60" stroke="#111" stroke-width="0.55"/>
<line x1="311.30" y1="234.60" x2="312.60" y2="234.60" stroke="#111" stroke-width="0.55"/>
<line x1="311.30" y1="238.10" x2="312.60" y2="238.10" stroke="#111" stroke-width="0.55"/>
<line x1="311.30" y1="239.10" x2="312.60" y2="239.10" stroke="#111" stroke-width="0.55"/>
<line x1="311.30" y1="240.10" x2="312.60" y2="240.10" stroke="#111" stroke-width="0.55"/>
<line x1="311.30" y1="242.60" x2="312.60" y2="242.60" stroke="#111" stroke-width="0.55"/>
<line x1="311.30" y1="243.60" x2="312.60" y2="243.60" stroke="#111" stroke-width="0.55"/>
<line x1="311.30" y1="247.10" x2="312.60" y2="247.10" stroke="#111" stroke-width="0.55"/>
<line x1="311.30" y1="248.10" x2="312.60" y2="248.10" stroke="#111" stroke-width="0.55"/>
<line x1="311.30" y1="249.10" x2="312.60" y2="249.10" stroke="#111" stroke-width="0.55"/>
<line x1="311.30" y1="253.10" x2="312.60" y2="253.10" stroke="#111" stroke-width="0.55"/>
<line x1="311.30" y1="254.10" x2="312.60" y2="254.10" stroke="#111" stroke-width="0.55"/>
<line x1="311.30" y1="258.10" x2="312.60" y2="258.10" stroke="#111" stroke-width="0.55"/>
<line x1="311.30" y1="259.60" x2="312.60" y2="259.60" stroke="#111" stroke-width="0.55"/>
<line x1="311.30" y1="261.10" x2="312.60" y2="261.10" stroke="#111" stroke-width="0.55"/>
<line x1="311.30" y1="264.10" x2="312.60" y2="264.10" stroke="#111" stroke-width="0.55"/>
<line x1="311.30" y1="265.60" x2="312.60" y2="265.60" stroke="#111" stroke-width="0.55"/>
<line x1="311.30" y1="267.10" x2="312.60" y2="267.10" stroke="#111" stroke-width="0.55"/>
<line x1="315.30" y1="270.90" x2="315.30" y2="273.10" stroke="#111" stroke-width="0.8"/>
<text x="315.30" y="279.30" font-size="4.70" text-anchor="middle" fill="#333" stroke="#333" stroke-width="0.05">-10&#185;</text>
<line x1="321.30" y1="270.90" x2="321.30" y2="273.10" stroke="#111" stroke-width="0.8"/>
<text x="321.30" y="279.30" font-size="4.70" text-anchor="middle" fill="#333" stroke="#333" stroke-width="0.05">0</text>
<line x1="328.30" y1="270.90" x2="328.30" y2="273.10" stroke="#111" stroke-width="0.8"/>
<text x="328.30" y="279.30" font-size="4.70" text-anchor="middle" fill="#333" stroke="#333" stroke-width="0.05">10&#185;</text>
<line x1="339.20" y1="270.90" x2="339.20" y2="273.10" stroke="#111" stroke-width="0.8"/>
<text x="339.20" y="279.30" font-size="4.70" text-anchor="middle" fill="#333" stroke="#333" stroke-width="0.05">10&#179;</text>
<line x1="348.20" y1="270.90" x2="348.20" y2="273.10" stroke="#111" stroke-width="0.8"/>
<text x="348.20" y="279.30" font-size="4.70" text-anchor="middle" fill="#333" stroke="#333" stroke-width="0.05">10&#8308;</text>
<line x1="313.80" y1="270.90" x2="313.80" y2="272.20" stroke="#111" stroke-width="0.55"/>
<line x1="316.80" y1="270.90" x2="316.80" y2="272.20" stroke="#111" stroke-width="0.55"/>
<line x1="317.80" y1="270.90" x2="317.80" y2="272.20" stroke="#111" stroke-width="0.55"/>
<line x1="319.00" y1="270.90" x2="319.00" y2="272.20" stroke="#111" stroke-width="0.55"/>
<line x1="320.20" y1="270.90" x2="320.20" y2="272.20" stroke="#111" stroke-width="0.55"/>
<line x1="322.60" y1="270.90" x2="322.60" y2="272.20" stroke="#111" stroke-width="0.55"/>
<line x1="323.80" y1="270.90" x2="323.80" y2="272.20" stroke="#111" stroke-width="0.55"/>
<line x1="326.00" y1="270.90" x2="326.00" y2="272.20" stroke="#111" stroke-width="0.55"/>
<line x1="327.10" y1="270.90" x2="327.10" y2="272.20" stroke="#111" stroke-width="0.55"/>
<line x1="329.60" y1="270.90" x2="329.60" y2="272.20" stroke="#111" stroke-width="0.55"/>
<line x1="330.80" y1="270.90" x2="330.80" y2="272.20" stroke="#111" stroke-width="0.55"/>
<line x1="332.60" y1="270.90" x2="332.60" y2="272.20" stroke="#111" stroke-width="0.55"/>
<line x1="334.10" y1="270.90" x2="334.10" y2="272.20" stroke="#111" stroke-width="0.55"/>
<line x1="335.60" y1="270.90" x2="335.60" y2="272.20" stroke="#111" stroke-width="0.55"/>
<line x1="337.10" y1="270.90" x2="337.10" y2="272.20" stroke="#111" stroke-width="0.55"/>
<line x1="340.60" y1="270.90" x2="340.60" y2="272.20" stroke="#111" stroke-width="0.55"/>
<line x1="342.10" y1="270.90" x2="342.10" y2="272.20" stroke="#111" stroke-width="0.55"/>
<line x1="343.60" y1="270.90" x2="343.60" y2="272.20" stroke="#111" stroke-width="0.55"/>
<line x1="345.60" y1="270.90" x2="345.60" y2="272.20" stroke="#111" stroke-width="0.55"/>
<line x1="346.80" y1="270.90" x2="346.80" y2="272.20" stroke="#111" stroke-width="0.55"/>
<line x1="349.60" y1="270.90" x2="349.60" y2="272.20" stroke="#111" stroke-width="0.55"/>
<line x1="351.10" y1="270.90" x2="351.10" y2="272.20" stroke="#111" stroke-width="0.55"/>
<line x1="374.50" y1="238.50" x2="403.80" y2="238.50" stroke="#333" stroke-width="0.7"/>
<line x1="403.80" y1="238.50" x2="403.80" y2="246.80" stroke="#333" stroke-width="0.7"/>
<line x1="374.50" y1="246.80" x2="403.80" y2="246.80" stroke="#333" stroke-width="0.7"/>
<line x1="388.00" y1="238.50" x2="388.00" y2="246.80" stroke="#333" stroke-width="0.7"/>
<line x1="393.10" y1="238.50" x2="393.10" y2="246.80" stroke="#333" stroke-width="0.7"/>
<rect x="393.10" y="246.80" width="12.80" height="3.70" fill="none" stroke="#333" stroke-width="0.7"/>
<rect x="396.80" y="250.70" width="11.00" height="11.80" fill="none" stroke="#333" stroke-width="0.7"/>
<rect x="374.50" y="231.60" width="42.00" height="39.30" fill="none" stroke="#111" stroke-width="1.1"/>
<line x1="372.30" y1="236.00" x2="374.50" y2="236.00" stroke="#111" stroke-width="0.8"/>
<text x="371.30" y="237.40" font-size="4.70" text-anchor="end" fill="#333" stroke="#333" stroke-width="0.05">10&#179;</text>
<line x1="372.30" y1="245.10" x2="374.50" y2="245.10" stroke="#111" stroke-width="0.8"/>
<text x="371.30" y="246.50" font-size="4.70" text-anchor="end" fill="#333" stroke="#333" stroke-width="0.05">10&#178;</text>
<line x1="372.30" y1="255.90" x2="374.50" y2="255.90" stroke="#111" stroke-width="0.8"/>
<text x="371.30" y="257.30" font-size="4.70" text-anchor="end" fill="#333" stroke="#333" stroke-width="0.05">10&#185;</text>
<line x1="372.30" y1="262.80" x2="374.50" y2="262.80" stroke="#111" stroke-width="0.8"/>
<text x="371.30" y="264.20" font-size="4.70" text-anchor="end" fill="#333" stroke="#333" stroke-width="0.05">0</text>
<line x1="372.30" y1="269.20" x2="374.50" y2="269.20" stroke="#111" stroke-width="0.8"/>
<text x="371.30" y="270.60" font-size="4.70" text-anchor="end" fill="#333" stroke="#333" stroke-width="0.05">-10&#185;</text>
<line x1="373.20" y1="233.60" x2="374.50" y2="233.60" stroke="#111" stroke-width="0.55"/>
<line x1="373.20" y1="234.60" x2="374.50" y2="234.60" stroke="#111" stroke-width="0.55"/>
<line x1="373.20" y1="238.10" x2="374.50" y2="238.10" stroke="#111" stroke-width="0.55"/>
<line x1="373.20" y1="239.10" x2="374.50" y2="239.10" stroke="#111" stroke-width="0.55"/>
<line x1="373.20" y1="240.10" x2="374.50" y2="240.10" stroke="#111" stroke-width="0.55"/>
<line x1="373.20" y1="242.60" x2="374.50" y2="242.60" stroke="#111" stroke-width="0.55"/>
<line x1="373.20" y1="243.60" x2="374.50" y2="243.60" stroke="#111" stroke-width="0.55"/>
<line x1="373.20" y1="247.10" x2="374.50" y2="247.10" stroke="#111" stroke-width="0.55"/>
<line x1="373.20" y1="248.10" x2="374.50" y2="248.10" stroke="#111" stroke-width="0.55"/>
<line x1="373.20" y1="249.10" x2="374.50" y2="249.10" stroke="#111" stroke-width="0.55"/>
<line x1="373.20" y1="253.10" x2="374.50" y2="253.10" stroke="#111" stroke-width="0.55"/>
<line x1="373.20" y1="254.10" x2="374.50" y2="254.10" stroke="#111" stroke-width="0.55"/>
<line x1="373.20" y1="258.10" x2="374.50" y2="258.10" stroke="#111" stroke-width="0.55"/>
<line x1="373.20" y1="259.60" x2="374.50" y2="259.60" stroke="#111" stroke-width="0.55"/>
<line x1="373.20" y1="261.10" x2="374.50" y2="261.10" stroke="#111" stroke-width="0.55"/>
<line x1="373.20" y1="264.10" x2="374.50" y2="264.10" stroke="#111" stroke-width="0.55"/>
<line x1="373.20" y1="265.60" x2="374.50" y2="265.60" stroke="#111" stroke-width="0.55"/>
<line x1="373.20" y1="267.10" x2="374.50" y2="267.10" stroke="#111" stroke-width="0.55"/>
<line x1="377.20" y1="270.90" x2="377.20" y2="273.10" stroke="#111" stroke-width="0.8"/>
<text x="377.20" y="279.30" font-size="4.70" text-anchor="middle" fill="#333" stroke="#333" stroke-width="0.05">-10&#185;</text>
<line x1="383.20" y1="270.90" x2="383.20" y2="273.10" stroke="#111" stroke-width="0.8"/>
<text x="383.20" y="279.30" font-size="4.70" text-anchor="middle" fill="#333" stroke="#333" stroke-width="0.05">0</text>
<line x1="390.20" y1="270.90" x2="390.20" y2="273.10" stroke="#111" stroke-width="0.8"/>
<text x="390.20" y="279.30" font-size="4.70" text-anchor="middle" fill="#333" stroke="#333" stroke-width="0.05">10&#185;</text>
<line x1="401.10" y1="270.90" x2="401.10" y2="273.10" stroke="#111" stroke-width="0.8"/>
<text x="401.10" y="279.30" font-size="4.70" text-anchor="middle" fill="#333" stroke="#333" stroke-width="0.05">10&#179;</text>
<line x1="410.10" y1="270.90" x2="410.10" y2="273.10" stroke="#111" stroke-width="0.8"/>
<text x="410.10" y="279.30" font-size="4.70" text-anchor="middle" fill="#333" stroke="#333" stroke-width="0.05">10&#8308;</text>
<line x1="375.70" y1="270.90" x2="375.70" y2="272.20" stroke="#111" stroke-width="0.55"/>
<line x1="378.70" y1="270.90" x2="378.70" y2="272.20" stroke="#111" stroke-width="0.55"/>
<line x1="379.70" y1="270.90" x2="379.70" y2="272.20" stroke="#111" stroke-width="0.55"/>
<line x1="380.90" y1="270.90" x2="380.90" y2="272.20" stroke="#111" stroke-width="0.55"/>
<line x1="382.10" y1="270.90" x2="382.10" y2="272.20" stroke="#111" stroke-width="0.55"/>
<line x1="384.50" y1="270.90" x2="384.50" y2="272.20" stroke="#111" stroke-width="0.55"/>
<line x1="385.70" y1="270.90" x2="385.70" y2="272.20" stroke="#111" stroke-width="0.55"/>
<line x1="387.90" y1="270.90" x2="387.90" y2="272.20" stroke="#111" stroke-width="0.55"/>
<line x1="389.00" y1="270.90" x2="389.00" y2="272.20" stroke="#111" stroke-width="0.55"/>
<line x1="391.50" y1="270.90" x2="391.50" y2="272.20" stroke="#111" stroke-width="0.55"/>
<line x1="392.70" y1="270.90" x2="392.70" y2="272.20" stroke="#111" stroke-width="0.55"/>
<line x1="394.50" y1="270.90" x2="394.50" y2="272.20" stroke="#111" stroke-width="0.55"/>
<line x1="396.00" y1="270.90" x2="396.00" y2="272.20" stroke="#111" stroke-width="0.55"/>
<line x1="397.50" y1="270.90" x2="397.50" y2="272.20" stroke="#111" stroke-width="0.55"/>
<line x1="399.00" y1="270.90" x2="399.00" y2="272.20" stroke="#111" stroke-width="0.55"/>
<line x1="402.50" y1="270.90" x2="402.50" y2="272.20" stroke="#111" stroke-width="0.55"/>
<line x1="404.00" y1="270.90" x2="404.00" y2="272.20" stroke="#111" stroke-width="0.55"/>
<line x1="405.50" y1="270.90" x2="405.50" y2="272.20" stroke="#111" stroke-width="0.55"/>
<line x1="407.50" y1="270.90" x2="407.50" y2="272.20" stroke="#111" stroke-width="0.55"/>
<line x1="408.70" y1="270.90" x2="408.70" y2="272.20" stroke="#111" stroke-width="0.55"/>
<line x1="411.50" y1="270.90" x2="411.50" y2="272.20" stroke="#111" stroke-width="0.55"/>
<line x1="413.00" y1="270.90" x2="413.00" y2="272.20" stroke="#111" stroke-width="0.55"/>
<text x="316.20" y="182.60" font-size="4.48" textLength="4.50" lengthAdjust="spacingAndGlyphs" fill="#333" stroke="#333" stroke-width="0.05">Pro</text>
<text x="325.30" y="182.60" font-size="4.48" textLength="3.60" lengthAdjust="spacingAndGlyphs" fill="#333" stroke="#333" stroke-width="0.05">EB</text>
<text x="333.00" y="182.60" font-size="4.48" textLength="3.80" lengthAdjust="spacingAndGlyphs" fill="#333" stroke="#333" stroke-width="0.05">LB</text>
<text x="343.60" y="193.60" font-size="4.48" textLength="5.80" lengthAdjust="spacingAndGlyphs" fill="#333" stroke="#333" stroke-width="0.05">Poly</text>
<text x="346.30" y="203.30" font-size="4.48" textLength="9.00" lengthAdjust="spacingAndGlyphs" fill="#333" stroke="#333" stroke-width="0.05">Ortho</text>
<text x="434.50" y="214.40" font-size="9.97" text-anchor="middle" transform="rotate(-90 434.50 214.40)" textLength="121.60" lengthAdjust="spacingAndGlyphs" fill="#161616" stroke="#161616" stroke-width="0.12">Percentage of each stage cells</text>
<text x="426.70" y="158.30" font-size="10.61" textLength="5.30" lengthAdjust="spacingAndGlyphs" fill="#111" stroke="#111" stroke-width="0.35">G</text>
<text x="453.70" y="260.30" font-size="8.51" text-anchor="end" textLength="4.36" lengthAdjust="spacingAndGlyphs" fill="#161616" stroke="#161616" stroke-width="0.12">0</text>
<line x1="456.40" y1="257.50" x2="459.20" y2="257.50" stroke="#111" stroke-width="1.0"/>
<text x="453.70" y="243.62" font-size="8.51" text-anchor="end" textLength="8.72" lengthAdjust="spacingAndGlyphs" fill="#161616" stroke="#161616" stroke-width="0.12">20</text>
<line x1="456.40" y1="240.82" x2="459.20" y2="240.82" stroke="#111" stroke-width="1.0"/>
<text x="453.70" y="226.94" font-size="8.51" text-anchor="end" textLength="8.72" lengthAdjust="spacingAndGlyphs" fill="#161616" stroke="#161616" stroke-width="0.12">40</text>
<line x1="456.40" y1="224.14" x2="459.20" y2="224.14" stroke="#111" stroke-width="1.0"/>
<text x="453.70" y="210.26" font-size="8.51" text-anchor="end" textLength="8.72" lengthAdjust="spacingAndGlyphs" fill="#161616" stroke="#161616" stroke-width="0.12">60</text>
<line x1="456.40" y1="207.46" x2="459.20" y2="207.46" stroke="#111" stroke-width="1.0"/>
<text x="453.70" y="193.58" font-size="8.51" text-anchor="end" textLength="8.72" lengthAdjust="spacingAndGlyphs" fill="#161616" stroke="#161616" stroke-width="0.12">80</text>
<line x1="456.40" y1="190.78" x2="459.20" y2="190.78" stroke="#111" stroke-width="1.0"/>
<text x="453.70" y="176.90" font-size="8.51" text-anchor="end" textLength="13.08" lengthAdjust="spacingAndGlyphs" fill="#161616" stroke="#161616" stroke-width="0.12">100</text>
<line x1="456.40" y1="174.10" x2="459.20" y2="174.10" stroke="#111" stroke-width="1.0"/>
<rect x="462.60" y="253.66" width="8.90" height="3.84" fill="#4a1f63"/>
<rect x="462.60" y="247.58" width="8.90" height="6.09" fill="#2f6a50"/>
<rect x="462.60" y="198.20" width="8.90" height="49.37" fill="#e0901c"/>
<rect x="462.60" y="181.61" width="8.90" height="16.60" fill="#978bc8"/>
<rect x="462.60" y="177.94" width="8.90" height="3.67" fill="#4b5568"/>
<rect x="475.50" y="222.47" width="8.90" height="35.03" fill="#4a1f63"/>
<rect x="475.50" y="202.04" width="8.90" height="20.43" fill="#2f6a50"/>
<rect x="475.50" y="183.27" width="8.90" height="18.76" fill="#e0901c"/>
<rect x="475.50" y="179.94" width="8.90" height="3.34" fill="#978bc8"/>
<rect x="475.50" y="178.77" width="8.90" height="1.17" fill="#4b5568"/>
<rect x="488.20" y="257.17" width="8.90" height="0.33" fill="#4a1f63"/>
<rect x="488.20" y="256.83" width="8.90" height="0.33" fill="#2f6a50"/>
<rect x="488.20" y="252.00" width="8.90" height="4.84" fill="#e0901c"/>
<rect x="488.20" y="240.90" width="8.90" height="11.09" fill="#978bc8"/>
<rect x="488.20" y="180.94" width="8.90" height="59.96" fill="#4b5568"/>
<rect x="500.90" y="213.63" width="8.90" height="43.87" fill="#4a1f63"/>
<rect x="500.90" y="196.03" width="8.90" height="17.60" fill="#2f6a50"/>
<rect x="500.90" y="184.94" width="8.90" height="11.09" fill="#e0901c"/>
<rect x="500.90" y="181.19" width="8.90" height="3.75" fill="#978bc8"/>
<rect x="500.90" y="180.19" width="8.90" height="1.00" fill="#4b5568"/>
<line x1="465.25" y1="253.66" x2="468.85" y2="253.66" stroke="#111" stroke-width="0.9"/>
<line x1="465.25" y1="247.58" x2="468.85" y2="247.58" stroke="#111" stroke-width="0.9"/>
<line x1="465.25" y1="198.20" x2="468.85" y2="198.20" stroke="#111" stroke-width="0.9"/>
<line x1="465.25" y1="181.61" x2="468.85" y2="181.61" stroke="#111" stroke-width="0.9"/>
<line x1="478.15" y1="222.47" x2="481.75" y2="222.47" stroke="#111" stroke-width="0.9"/>
<line x1="478.15" y1="202.04" x2="481.75" y2="202.04" stroke="#111" stroke-width="0.9"/>
<line x1="478.15" y1="183.27" x2="481.75" y2="183.27" stroke="#111" stroke-width="0.9"/>
<line x1="478.15" y1="179.94" x2="481.75" y2="179.94" stroke="#111" stroke-width="0.9"/>
<line x1="490.85" y1="252.00" x2="494.45" y2="252.00" stroke="#111" stroke-width="0.9"/>
<line x1="490.85" y1="240.90" x2="494.45" y2="240.90" stroke="#111" stroke-width="0.9"/>
<line x1="503.55" y1="213.63" x2="507.15" y2="213.63" stroke="#111" stroke-width="0.9"/>
<line x1="503.55" y1="196.03" x2="507.15" y2="196.03" stroke="#111" stroke-width="0.9"/>
<line x1="503.55" y1="184.94" x2="507.15" y2="184.94" stroke="#111" stroke-width="0.9"/>
<line x1="503.55" y1="181.19" x2="507.15" y2="181.19" stroke="#111" stroke-width="0.9"/>
<line x1="467.05" y1="177.94" x2="467.05" y2="177.02" stroke="#111" stroke-width="0.8"/>
<line x1="465.45" y1="177.02" x2="468.65" y2="177.02" stroke="#111" stroke-width="0.9"/>
<line x1="467.05" y1="181.61" x2="467.05" y2="180.52" stroke="#111" stroke-width="0.8"/>
<line x1="465.45" y1="180.52" x2="468.65" y2="180.52" stroke="#111" stroke-width="0.9"/>
<line x1="479.95" y1="183.27" x2="479.95" y2="184.53" stroke="#111" stroke-width="0.8"/>
<line x1="478.35" y1="184.53" x2="481.55" y2="184.53" stroke="#111" stroke-width="0.9"/>
<line x1="479.95" y1="202.04" x2="479.95" y2="203.04" stroke="#111" stroke-width="0.8"/>
<line x1="478.35" y1="203.04" x2="481.55" y2="203.04" stroke="#111" stroke-width="0.9"/>
<line x1="479.95" y1="222.47" x2="479.95" y2="219.55" stroke="#111" stroke-width="0.8"/>
<line x1="478.35" y1="219.55" x2="481.55" y2="219.55" stroke="#111" stroke-width="0.9"/>
<line x1="492.65" y1="180.94" x2="492.65" y2="177.44" stroke="#111" stroke-width="0.8"/>
<line x1="491.05" y1="177.44" x2="494.25" y2="177.44" stroke="#111" stroke-width="0.9"/>
<line x1="492.65" y1="240.90" x2="492.65" y2="239.74" stroke="#111" stroke-width="0.8"/>
<line x1="491.05" y1="239.74" x2="494.25" y2="239.74" stroke="#111" stroke-width="0.9"/>
<line x1="492.65" y1="252.00" x2="492.65" y2="251.33" stroke="#111" stroke-width="0.8"/>
<line x1="491.05" y1="251.33" x2="494.25" y2="251.33" stroke="#111" stroke-width="0.9"/>
<line x1="505.35" y1="181.19" x2="505.35" y2="182.61" stroke="#111" stroke-width="0.8"/>
<line x1="503.75" y1="182.61" x2="506.95" y2="182.61" stroke="#111" stroke-width="0.9"/>
<line x1="505.35" y1="196.03" x2="505.35" y2="195.12" stroke="#111" stroke-width="0.8"/>
<line x1="503.75" y1="195.12" x2="506.95" y2="195.12" stroke="#111" stroke-width="0.9"/>
<line x1="505.35" y1="213.63" x2="505.35" y2="208.71" stroke="#111" stroke-width="0.8"/>
<line x1="503.75" y1="208.71" x2="506.95" y2="208.71" stroke="#111" stroke-width="0.9"/>
<line x1="459.20" y1="171.40" x2="459.20" y2="258.10" stroke="#111" stroke-width="1.2"/>
<line x1="459.20" y1="257.50" x2="512.30" y2="257.50" stroke="#111" stroke-width="1.2"/>
<line x1="467.05" y1="257.50" x2="467.05" y2="260.30" stroke="#111" stroke-width="1.0"/>
<line x1="479.95" y1="257.50" x2="479.95" y2="260.30" stroke="#111" stroke-width="1.0"/>
<line x1="492.65" y1="257.50" x2="492.65" y2="260.30" stroke="#111" stroke-width="1.0"/>
<line x1="505.35" y1="257.50" x2="505.35" y2="260.30" stroke="#111" stroke-width="1.0"/>
<text x="472.00" y="266.00" font-size="8.29" text-anchor="end" transform="rotate(-59.5 472.00 266.00)" textLength="66.00" lengthAdjust="spacingAndGlyphs" fill="#161616" stroke="#161616" stroke-width="0.12">Luciferase-CFU-E-D5</text>
<text x="484.90" y="266.00" font-size="8.29" text-anchor="end" transform="rotate(-59.5 484.90 266.00)" textLength="75.00" lengthAdjust="spacingAndGlyphs" fill="#161616" stroke="#161616" stroke-width="0.12">TET2 KD-GPA<tspan dy="-2.98" font-size="4.97">-</tspan><tspan dy="2.98">cells-D5</tspan></text>
<text x="497.60" y="266.00" font-size="8.29" text-anchor="end" transform="rotate(-59.5 497.60 266.00)" textLength="70.00" lengthAdjust="spacingAndGlyphs" fill="#161616" stroke="#161616" stroke-width="0.12">Luciferase-CFU-E-D15</text>
<text x="510.40" y="266.00" font-size="8.29" text-anchor="end" transform="rotate(-59.5 510.40 266.00)" textLength="78.00" lengthAdjust="spacingAndGlyphs" fill="#161616" stroke="#161616" stroke-width="0.12">TET2 KD-GPA<tspan dy="-2.98" font-size="4.97">-</tspan><tspan dy="2.98">cells-D15</tspan></text>
<rect x="427.30" y="345.40" width="11.40" height="6.40" fill="#4a1f63"/>
<text x="441.70" y="351.40" font-size="8.29" textLength="10.00" lengthAdjust="spacingAndGlyphs" fill="#161616" stroke="#161616" stroke-width="0.12">Pro</text>
<rect x="459.00" y="345.40" width="11.40" height="6.40" fill="#2f6a50"/>
<text x="473.40" y="351.40" font-size="8.29" textLength="7.50" lengthAdjust="spacingAndGlyphs" fill="#161616" stroke="#161616" stroke-width="0.12">EB</text>
<rect x="488.70" y="345.40" width="11.40" height="6.40" fill="#e0901c"/>
<text x="503.10" y="351.40" font-size="8.29" textLength="7.00" lengthAdjust="spacingAndGlyphs" fill="#161616" stroke="#161616" stroke-width="0.12">LB</text>
<rect x="427.30" y="356.50" width="11.40" height="6.40" fill="#978bc8"/>
<text x="441.70" y="362.50" font-size="8.29" textLength="12.50" lengthAdjust="spacingAndGlyphs" fill="#161616" stroke="#161616" stroke-width="0.12">Poly</text>
<rect x="459.00" y="356.50" width="11.40" height="6.40" fill="#4b5568"/>
<text x="473.40" y="362.50" font-size="8.29" textLength="17.50" lengthAdjust="spacingAndGlyphs" fill="#161616" stroke="#161616" stroke-width="0.12">Ortho</text>
<g clip-path="url(#clipB1)">
<ellipse cx="199" cy="22.6" rx="3.2" ry="2.6" fill="#8a78c4" opacity="0.75" filter="url(#bl)"/>
<ellipse cx="216.5" cy="44.2" rx="5" ry="4.2" fill="#9a7cc4" opacity="0.8" filter="url(#bl2)"/>
<ellipse cx="206" cy="45" rx="2" ry="1.2" fill="#a8a8dc" opacity="0.6" filter="url(#bl)"/>
<circle cx="166.8" cy="62" r="1.2" fill="#8c98d8" opacity="0.8"/>
<circle cx="172" cy="24.5" r="0.5" fill="#333"/>
<ellipse cx="191.20" cy="32.10" rx="5.90" ry="6.10" fill="#f4f6f8" transform="rotate(0 191.20 32.10)"/>
<ellipse cx="202.60" cy="31.70" rx="5.30" ry="6.10" fill="#f4f6f8" transform="rotate(0 202.60 31.70)"/>
<ellipse cx="196.90" cy="41.20" rx="5.60" ry="5.50" fill="#f4f6f8" transform="rotate(0 196.90 41.20)"/>
<ellipse cx="186.80" cy="41.90" rx="4.50" ry="5.20" fill="#f4f6f8" transform="rotate(45 186.80 41.90)"/>
<ellipse cx="181.80" cy="47.30" rx="5.30" ry="5.50" fill="#f4f6f8" transform="rotate(0 181.80 47.30)"/>
<ellipse cx="191.20" cy="32.10" rx="5.40" ry="5.60" fill="url(#gB)" transform="rotate(0 191.20 32.10)"/>
<circle cx="192.40" cy="29.40" r="1.40" fill="#b8b8ea" opacity="0.85" filter="url(#bl)"/>
<ellipse cx="202.60" cy="31.70" rx="4.80" ry="5.60" fill="url(#gB)" transform="rotate(0 202.60 31.70)"/>
<circle cx="200.70" cy="29.00" r="1.10" fill="#b8b8ea" opacity="0.85" filter="url(#bl)"/>
<ellipse cx="196.90" cy="41.20" rx="5.10" ry="5.00" fill="url(#gB)" transform="rotate(0 196.90 41.20)"/>
<circle cx="198.90" cy="42.50" r="1.50" fill="#b8b8ea" opacity="0.85" filter="url(#bl)"/>
<ellipse cx="186.80" cy="41.90" rx="4.00" ry="4.70" fill="url(#gB)" transform="rotate(45 186.80 41.90)"/>
<circle cx="188.20" cy="40.40" r="1.00" fill="#b8b8ea" opacity="0.85" filter="url(#bl)"/>
<ellipse cx="181.80" cy="47.30" rx="4.80" ry="5.00" fill="url(#gB)" transform="rotate(0 181.80 47.30)"/>
<circle cx="183.50" cy="49.60" r="1.20" fill="#b8b8ea" opacity="0.85" filter="url(#bl)"/>
</g>
<ellipse cx="188.10" cy="78.60" rx="5.60" ry="5.20" fill="#ececec" transform="rotate(0 188.10 78.60)"/>
<ellipse cx="198.00" cy="82.00" rx="4.70" ry="4.30" fill="#ececec" transform="rotate(0 198.00 82.00)"/>
<ellipse cx="179.70" cy="91.80" rx="5.10" ry="6.20" fill="#ececec" transform="rotate(0 179.70 91.80)"/>
<ellipse cx="189.30" cy="89.20" rx="4.80" ry="4.80" fill="#ececec" transform="rotate(0 189.30 89.20)"/>
<ellipse cx="196.70" cy="92.30" rx="3.30" ry="5.20" fill="#ececec" transform="rotate(0 196.70 92.30)"/>
<ellipse cx="204.90" cy="88.60" rx="5.20" ry="5.40" fill="#ececec" transform="rotate(0 204.90 88.60)"/>
<ellipse cx="188.90" cy="97.80" rx="4.40" ry="4.40" fill="#ececec" transform="rotate(0 188.90 97.80)"/>
<ellipse cx="202.80" cy="99.40" rx="5.00" ry="4.80" fill="#ececec" transform="rotate(0 202.80 99.40)"/>
<ellipse cx="194.80" cy="103.70" rx="5.20" ry="5.20" fill="#ececec" transform="rotate(0 194.80 103.70)"/>
<ellipse cx="188.10" cy="78.60" rx="5.10" ry="4.70" fill="url(#gB2)" transform="rotate(0 188.10 78.60)"/>
<circle cx="185.30" cy="77.80" r="1.50" fill="#b8b8ea" opacity="0.85" filter="url(#bl)"/>
<ellipse cx="198.00" cy="82.00" rx="4.20" ry="3.80" fill="url(#gB2)" transform="rotate(0 198.00 82.00)"/>
<circle cx="200.00" cy="82.50" r="1.10" fill="#b8b8ea" opacity="0.85" filter="url(#bl)"/>
<ellipse cx="179.70" cy="91.80" rx="4.60" ry="5.70" fill="url(#gB2)" transform="rotate(0 179.70 91.80)"/>
<circle cx="181.50" cy="95.50" r="1.30" fill="#b8b8ea" opacity="0.85" filter="url(#bl)"/>
<ellipse cx="189.30" cy="89.20" rx="4.30" ry="4.30" fill="url(#gB2)" transform="rotate(0 189.30 89.20)"/>
<circle cx="189.80" cy="89.60" r="1.00" fill="#b8b8ea" opacity="0.85" filter="url(#bl)"/>
<ellipse cx="196.70" cy="92.30" rx="2.80" ry="4.70" fill="url(#gB2)" transform="rotate(0 196.70 92.30)"/>
<circle cx="197.50" cy="94.50" r="0.80" fill="#b8b8ea" opacity="0.85" filter="url(#bl)"/>
<ellipse cx="204.90" cy="88.60" rx="4.70" ry="4.90" fill="url(#gB2)" transform="rotate(0 204.90 88.60)"/>
<circle cx="206.80" cy="91.20" r="1.30" fill="#b8b8ea" opacity="0.85" filter="url(#bl)"/>
<ellipse cx="188.90" cy="97.80" rx="3.90" ry="3.90" fill="url(#gB2)" transform="rotate(0 188.90 97.80)"/>
<circle cx="189.50" cy="99.80" r="1.00" fill="#b8b8ea" opacity="0.85" filter="url(#bl)"/>
<ellipse cx="202.80" cy="99.40" rx="4.50" ry="4.30" fill="url(#gB2)" transform="rotate(0 202.80 99.40)"/>
<circle cx="201.50" cy="101.00" r="1.00" fill="#b8b8ea" opacity="0.85" filter="url(#bl)"/>
<ellipse cx="194.80" cy="103.70" rx="4.70" ry="4.70" fill="url(#gB2)" transform="rotate(0 194.80 103.70)"/>
<circle cx="193.50" cy="105.50" r="1.00" fill="#b8b8ea" opacity="0.85" filter="url(#bl)"/>
<rect x="204.60" y="103.20" width="12.60" height="6.00" fill="#ececec" opacity="0.8"/>
<text x="205.10" y="107.20" font-size="4.93" textLength="11.80" lengthAdjust="spacingAndGlyphs" font-weight="bold" fill="#000" stroke="#000" stroke-width="0.1">10&#956;m</text>
<line x1="206.50" y1="108.70" x2="215.20" y2="108.70" stroke="#333" stroke-width="0.5"/>
<text x="8.70" y="373.10" font-size="10.61" textLength="7.60" lengthAdjust="spacingAndGlyphs" fill="#111" stroke="#111" stroke-width="0.35">H</text>
<text x="79.30" y="377.90" font-size="8.51" text-anchor="middle" textLength="9.40" lengthAdjust="spacingAndGlyphs" fill="#161616" stroke="#161616" stroke-width="0.12">D5</text>
<text x="140.00" y="377.90" font-size="8.51" text-anchor="middle" textLength="14.30" lengthAdjust="spacingAndGlyphs" fill="#161616" stroke="#161616" stroke-width="0.12">D15</text>
<text x="9.60" y="402.30" font-size="8.96" textLength="33.10" lengthAdjust="spacingAndGlyphs" fill="#161616" stroke="#161616" stroke-width="0.12">Luciferase</text>
<text x="9.60" y="412.00" font-size="8.96" textLength="22.50" lengthAdjust="spacingAndGlyphs" fill="#161616" stroke="#161616" stroke-width="0.12">-CFU-E</text>
<text x="8.80" y="450.00" font-size="8.96" textLength="27.40" lengthAdjust="spacingAndGlyphs" fill="#161616" stroke="#161616" stroke-width="0.12">TET2 KD</text>
<text x="8.80" y="459.20" font-size="8.96" textLength="13.40" lengthAdjust="spacingAndGlyphs" fill="#161616" stroke="#161616" stroke-width="0.12">GPA</text>
<line x1="22.60" y1="454.80" x2="24.10" y2="454.80" stroke="#222" stroke-width="0.75"/>
<text x="25.20" y="459.20" font-size="8.96" textLength="14.80" lengthAdjust="spacingAndGlyphs" fill="#161616" stroke="#161616" stroke-width="0.12">cells</text>
<rect x="48.60" y="380.80" width="60.10" height="45.20" fill="#f5f5ee"/>
<rect x="109.50" y="380.80" width="59.70" height="45.20" fill="#f0f0dc"/>
<rect x="48.60" y="428.70" width="60.10" height="44.20" fill="#f0f0e6"/>
<rect x="109.50" y="428.70" width="59.70" height="44.20" fill="#f0f0e2"/>
<g clip-path="url(#clipH1)">
<circle cx="102.3" cy="384.2" r="1.5" fill="#c8a8d0" opacity="0.6" filter="url(#bl)"/>
<circle cx="77.20" cy="389.50" r="5.10" fill="#eeeeea"/>
<circle cx="87.30" cy="387.80" r="4.10" fill="#eeeeea"/>
<circle cx="95.10" cy="388.30" r="3.31" fill="#eeeeea"/>
<circle cx="68.90" cy="393.70" r="4.43" fill="#eeeeea"/>
<circle cx="76.60" cy="398.50" r="5.10" fill="#eeeeea"/>
<circle cx="84.40" cy="396.70" r="4.10" fill="#eeeeea"/>
<circle cx="91.50" cy="394.90" r="4.43" fill="#eeeeea"/>
<circle cx="98.70" cy="395.50" r="3.76" fill="#eeeeea"/>
<circle cx="104.00" cy="399.70" r="4.10" fill="#eeeeea"/>
<circle cx="65.30" cy="401.50" r="4.66" fill="#eeeeea"/>
<circle cx="65.90" cy="405.60" r="4.43" fill="#eeeeea"/>
<circle cx="73.60" cy="406.50" r="4.10" fill="#eeeeea"/>
<circle cx="83.20" cy="405.60" r="5.10" fill="#eeeeea"/>
<circle cx="93.90" cy="402.70" r="4.43" fill="#eeeeea"/>
<circle cx="59.30" cy="405.60" r="3.31" fill="#eeeeea"/>
<circle cx="53.40" cy="410.40" r="4.43" fill="#eeeeea"/>
<circle cx="59.90" cy="410.40" r="3.76" fill="#eeeeea"/>
<circle cx="68.30" cy="414.00" r="4.10" fill="#eeeeea"/>
<circle cx="76.00" cy="413.40" r="4.43" fill="#eeeeea"/>
<circle cx="84.40" cy="414.60" r="5.44" fill="#eeeeea"/>
<circle cx="77.20" cy="389.50" r="4.70" fill="url(#gH)"/>
<ellipse cx="78.13" cy="390.22" rx="2.59" ry="2.12" fill="#6c52a6" opacity="0.8" filter="url(#bl)"/>
<circle cx="87.30" cy="387.80" r="3.70" fill="url(#gH)"/>
<ellipse cx="87.73" cy="386.98" rx="2.03" ry="1.66" fill="#6c52a6" opacity="0.8" filter="url(#bl)"/>
<circle cx="95.10" cy="388.30" r="2.91" fill="url(#gH)"/>
<ellipse cx="94.41" cy="388.06" rx="1.60" ry="1.31" fill="#6c52a6" opacity="0.8" filter="url(#bl)"/>
<circle cx="68.90" cy="393.70" r="4.03" fill="url(#gH)"/>
<ellipse cx="68.45" cy="392.80" rx="2.22" ry="1.81" fill="#6c52a6" opacity="0.8" filter="url(#bl)"/>
<circle cx="76.60" cy="398.50" r="4.70" fill="url(#gH)"/>
<ellipse cx="77.01" cy="399.60" rx="2.59" ry="2.12" fill="#6c52a6" opacity="0.8" filter="url(#bl)"/>
<circle cx="84.40" cy="396.70" r="3.70" fill="url(#gH)"/>
<ellipse cx="83.99" cy="397.53" rx="2.03" ry="1.66" fill="#6c52a6" opacity="0.8" filter="url(#bl)"/>
<circle cx="91.50" cy="394.90" r="4.03" fill="url(#gH)"/>
<ellipse cx="92.49" cy="394.70" rx="2.22" ry="1.81" fill="#6c52a6" opacity="0.8" filter="url(#bl)"/>
<circle cx="98.70" cy="395.50" r="3.36" fill="url(#gH)"/>
<ellipse cx="99.51" cy="395.29" rx="1.85" ry="1.51" fill="#6c52a6" opacity="0.8" filter="url(#bl)"/>
<circle cx="104.00" cy="399.70" r="3.70" fill="url(#gH)"/>
<ellipse cx="103.58" cy="398.88" rx="2.03" ry="1.66" fill="#6c52a6" opacity="0.8" filter="url(#bl)"/>
<circle cx="65.30" cy="401.50" r="4.26" fill="url(#gH)"/>
<ellipse cx="65.76" cy="400.54" rx="2.34" ry="1.92" fill="#6c52a6" opacity="0.8" filter="url(#bl)"/>
<circle cx="65.90" cy="405.60" r="4.03" fill="url(#gH)"/>
<ellipse cx="66.76" cy="406.12" rx="2.22" ry="1.81" fill="#6c52a6" opacity="0.8" filter="url(#bl)"/>
<circle cx="73.60" cy="406.50" r="3.70" fill="url(#gH)"/>
<ellipse cx="73.56" cy="407.42" rx="2.03" ry="1.66" fill="#6c52a6" opacity="0.8" filter="url(#bl)"/>
<circle cx="83.20" cy="405.60" r="4.70" fill="url(#gH)"/>
<ellipse cx="83.08" cy="404.43" rx="2.59" ry="2.12" fill="#6c52a6" opacity="0.8" filter="url(#bl)"/>
<circle cx="93.90" cy="402.70" r="4.03" fill="url(#gH)"/>
<ellipse cx="93.49" cy="401.78" rx="2.22" ry="1.81" fill="#6c52a6" opacity="0.8" filter="url(#bl)"/>
<circle cx="59.30" cy="405.60" r="2.91" fill="url(#gH)"/>
<ellipse cx="59.69" cy="406.22" rx="1.60" ry="1.31" fill="#6c52a6" opacity="0.8" filter="url(#bl)"/>
<circle cx="53.40" cy="410.40" r="4.03" fill="url(#gH)"/>
<ellipse cx="54.33" cy="410.02" rx="2.22" ry="1.81" fill="#6c52a6" opacity="0.8" filter="url(#bl)"/>
<circle cx="59.90" cy="410.40" r="3.36" fill="url(#gH)"/>
<ellipse cx="59.11" cy="410.68" rx="1.85" ry="1.51" fill="#6c52a6" opacity="0.8" filter="url(#bl)"/>
<circle cx="68.30" cy="414.00" r="3.70" fill="url(#gH)"/>
<ellipse cx="68.35" cy="413.08" rx="2.03" ry="1.66" fill="#6c52a6" opacity="0.8" filter="url(#bl)"/>
<circle cx="76.00" cy="413.40" r="4.03" fill="url(#gH)"/>
<ellipse cx="77.00" cy="413.56" rx="2.22" ry="1.81" fill="#6c52a6" opacity="0.8" filter="url(#bl)"/>
<circle cx="84.40" cy="414.60" r="5.04" fill="url(#gH)"/>
<ellipse cx="84.31" cy="415.86" rx="2.77" ry="2.27" fill="#6c52a6" opacity="0.8" filter="url(#bl)"/>
</g>
<g clip-path="url(#clipH2)">
<ellipse cx="152.1" cy="390.7" rx="8" ry="5" fill="#d8c4d4" opacity="0.6" filter="url(#bl2)"/>
<circle cx="133.8" cy="419.3" r="4.3" fill="#9c7cb4" opacity="0.85" filter="url(#bl)"/>
<circle cx="125.3" cy="403.8" r="3.6999999999999997" fill="#f4f4ec"/>
<circle cx="131.3" cy="401.5" r="4.0" fill="#f4f4ec"/>
<circle cx="139.6" cy="399.7" r="4.6000000000000005" fill="#f4f4ec"/>
<circle cx="128.3" cy="408.6" r="3.6999999999999997" fill="#f4f4ec"/>
<circle cx="133.6" cy="409.2" r="3.6999999999999997" fill="#f4f4ec"/>
<circle cx="138.4" cy="411.6" r="3.6999999999999997" fill="#f4f4ec"/>
<circle cx="144.4" cy="408" r="4.2" fill="#f4f4ec"/>
<circle cx="142.6" cy="397.9" r="3.6999999999999997" fill="#f4f4ec"/>
<circle cx="125.3" cy="403.8" r="3.56" fill="#d4d0dc" stroke="#9c96b8" stroke-width="0.5"/>
<circle cx="126.5" cy="404.4" r="1.49" fill="#44287a"/>
<circle cx="131.3" cy="401.5" r="3.89" fill="#d4d0dc" stroke="#9c96b8" stroke-width="0.5"/>
<circle cx="132.4" cy="402.7" r="2.07" fill="#44287a"/>
<circle cx="139.6" cy="399.7" r="4.54" fill="#d4d0dc" stroke="#9c96b8" stroke-width="0.5"/>
<circle cx="139" cy="402.1" r="2.30" fill="#44287a"/>
<circle cx="128.3" cy="408.6" r="3.56" fill="#d4d0dc" stroke="#9c96b8" stroke-width="0.5"/>
<circle cx="128.9" cy="408.4" r="1.49" fill="#44287a"/>
<circle cx="133.6" cy="409.2" r="3.56" fill="#d4d0dc" stroke="#9c96b8" stroke-width="0.5"/>
<circle cx="134" cy="408.6" r="1.84" fill="#44287a"/>
<circle cx="138.4" cy="411.6" r="3.56" fill="#d4d0dc" stroke="#9c96b8" stroke-width="0.5"/>
<circle cx="137.8" cy="410.4" r="1.49" fill="#44287a"/>
<circle cx="144.4" cy="408" r="4.10" fill="#d4d0dc" stroke="#9c96b8" stroke-width="0.5"/>
<circle cx="142.6" cy="407.4" r="2.07" fill="#44287a"/>
<circle cx="142.6" cy="397.9" r="3.56" fill="#d4d0dc" stroke="#9c96b8" stroke-width="0.5"/>
</g>
<g clip-path="url(#clipH3)">
<circle cx="76.60" cy="438.70" r="5.40" fill="#f0f0ea"/>
<circle cx="96.90" cy="440.50" r="5.20" fill="#f0f0ea"/>
<circle cx="62.90" cy="449.50" r="5.80" fill="#f0f0ea"/>
<circle cx="75.20" cy="450.10" r="5.80" fill="#f0f0ea"/>
<circle cx="68.30" cy="459.60" r="5.80" fill="#f0f0ea"/>
<circle cx="79.00" cy="461.40" r="5.40" fill="#f0f0ea"/>
<circle cx="90.90" cy="461.40" r="4.90" fill="#f0f0ea"/>
<circle cx="58.10" cy="444.10" r="2.50" fill="#f0f0ea"/>
<circle cx="61.70" cy="464.40" r="2.10" fill="#f0f0ea"/>
<circle cx="107.00" cy="434.60" r="1.80" fill="#f0f0ea"/>
<circle cx="76.60" cy="438.70" r="5.00" fill="url(#gH)"/>
<ellipse cx="76.38" cy="439.93" rx="2.75" ry="2.25" fill="#6c52a6" opacity="0.8" filter="url(#bl)"/>
<circle cx="96.90" cy="440.50" r="4.80" fill="url(#gH)"/>
<ellipse cx="97.26" cy="439.36" rx="2.64" ry="2.16" fill="#6c52a6" opacity="0.8" filter="url(#bl)"/>
<circle cx="62.90" cy="449.50" r="5.40" fill="url(#gH)"/>
<ellipse cx="62.12" cy="450.60" rx="2.97" ry="2.43" fill="#6c52a6" opacity="0.8" filter="url(#bl)"/>
<circle cx="75.20" cy="450.10" r="5.40" fill="url(#gH)"/>
<ellipse cx="74.53" cy="451.27" rx="2.97" ry="2.43" fill="#6c52a6" opacity="0.8" filter="url(#bl)"/>
<circle cx="68.30" cy="459.60" r="5.40" fill="url(#gH)"/>
<ellipse cx="67.93" cy="458.30" rx="2.97" ry="2.43" fill="#6c52a6" opacity="0.8" filter="url(#bl)"/>
<circle cx="79.00" cy="461.40" r="5.00" fill="url(#gH)"/>
<ellipse cx="78.55" cy="462.57" rx="2.75" ry="2.25" fill="#6c52a6" opacity="0.8" filter="url(#bl)"/>
<circle cx="90.90" cy="461.40" r="4.50" fill="url(#gH)"/>
<ellipse cx="91.28" cy="460.34" rx="2.48" ry="2.02" fill="#6c52a6" opacity="0.8" filter="url(#bl)"/>
<circle cx="58.10" cy="444.10" r="2.10" fill="url(#gH)"/>
<ellipse cx="58.59" cy="443.92" rx="1.16" ry="0.95" fill="#6c52a6" opacity="0.8" filter="url(#bl)"/>
<circle cx="61.70" cy="464.40" r="1.70" fill="url(#gH)"/>
<ellipse cx="61.47" cy="464.76" rx="0.94" ry="0.77" fill="#6c52a6" opacity="0.8" filter="url(#bl)"/>
<circle cx="107.00" cy="434.60" r="1.40" fill="url(#gH)"/>
<ellipse cx="107.05" cy="434.25" rx="0.77" ry="0.63" fill="#6c52a6" opacity="0.8" filter="url(#bl)"/>
</g>
<g clip-path="url(#clipH4)">
<circle cx="125.90" cy="434.00" r="5.20" fill="#f0f0ea"/>
<circle cx="150.30" cy="431.00" r="4.00" fill="#f0f0ea"/>
<circle cx="152.10" cy="440.50" r="4.90" fill="#f0f0ea"/>
<circle cx="130.10" cy="442.30" r="5.40" fill="#f0f0ea"/>
<circle cx="119.90" cy="444.10" r="4.60" fill="#f0f0ea"/>
<circle cx="134.20" cy="450.10" r="4.60" fill="#f0f0ea"/>
<circle cx="114.00" cy="450.70" r="2.80" fill="#f0f0ea"/>
<circle cx="119.30" cy="456.60" r="4.90" fill="#f0f0ea"/>
<circle cx="140.20" cy="456.00" r="4.60" fill="#f0f0ea"/>
<circle cx="149.70" cy="456.00" r="5.20" fill="#f0f0ea"/>
<circle cx="142.60" cy="465.60" r="4.60" fill="#f0f0ea"/>
<circle cx="156.90" cy="469.70" r="4.60" fill="#f0f0ea"/>
<circle cx="166.40" cy="465.00" r="4.60" fill="#f0f0ea"/>
<circle cx="125.90" cy="434.00" r="4.80" fill="url(#gH)"/>
<ellipse cx="125.00" cy="434.79" rx="2.64" ry="2.16" fill="#6c52a6" opacity="0.8" filter="url(#bl)"/>
<circle cx="150.30" cy="431.00" r="3.60" fill="url(#gH)"/>
<ellipse cx="150.09" cy="430.12" rx="1.98" ry="1.62" fill="#6c52a6" opacity="0.8" filter="url(#bl)"/>
<circle cx="152.10" cy="440.50" r="4.50" fill="url(#gH)"/>
<ellipse cx="151.64" cy="439.47" rx="2.48" ry="2.02" fill="#6c52a6" opacity="0.8" filter="url(#bl)"/>
<circle cx="130.10" cy="442.30" r="5.00" fill="url(#gH)"/>
<ellipse cx="130.93" cy="441.36" rx="2.75" ry="2.25" fill="#6c52a6" opacity="0.8" filter="url(#bl)"/>
<circle cx="119.90" cy="444.10" r="4.20" fill="url(#gH)"/>
<ellipse cx="120.35" cy="443.15" rx="2.31" ry="1.89" fill="#6c52a6" opacity="0.8" filter="url(#bl)"/>
<circle cx="134.20" cy="450.10" r="4.20" fill="url(#gH)"/>
<ellipse cx="133.18" cy="450.36" rx="2.31" ry="1.89" fill="#6c52a6" opacity="0.8" filter="url(#bl)"/>
<circle cx="114.00" cy="450.70" r="2.40" fill="url(#gH)"/>
<ellipse cx="113.40" cy="450.69" rx="1.32" ry="1.08" fill="#6c52a6" opacity="0.8" filter="url(#bl)"/>
<circle cx="119.30" cy="456.60" r="4.50" fill="url(#gH)"/>
<ellipse cx="118.21" cy="456.87" rx="2.48" ry="2.02" fill="#6c52a6" opacity="0.8" filter="url(#bl)"/>
<circle cx="140.20" cy="456.00" r="4.20" fill="url(#gH)"/>
<ellipse cx="140.43" cy="457.02" rx="2.31" ry="1.89" fill="#6c52a6" opacity="0.8" filter="url(#bl)"/>
<circle cx="149.70" cy="456.00" r="4.80" fill="url(#gH)"/>
<ellipse cx="150.52" cy="455.13" rx="2.64" ry="2.16" fill="#6c52a6" opacity="0.8" filter="url(#bl)"/>
<circle cx="142.60" cy="465.60" r="4.20" fill="url(#gH)"/>
<ellipse cx="141.66" cy="466.06" rx="2.31" ry="1.89" fill="#6c52a6" opacity="0.8" filter="url(#bl)"/>
<circle cx="156.90" cy="469.70" r="4.20" fill="url(#gH)"/>
<ellipse cx="155.88" cy="469.46" rx="2.31" ry="1.89" fill="#6c52a6" opacity="0.8" filter="url(#bl)"/>
<circle cx="166.40" cy="465.00" r="4.20" fill="url(#gH)"/>
<ellipse cx="166.61" cy="463.97" rx="2.31" ry="1.89" fill="#6c52a6" opacity="0.8" filter="url(#bl)"/>
<circle cx="137.2" cy="469.7" r="1.2" fill="#302040"/>
</g>
<text x="152.40" y="464.20" font-size="4.48" textLength="9.60" lengthAdjust="spacingAndGlyphs" font-weight="bold" fill="#000" stroke="#000" stroke-width="0.1">10&#956;m</text>
<line x1="153.50" y1="466.90" x2="160.50" y2="466.90" stroke="#111" stroke-width="0.8"/>
<text x="186.00" y="373.30" font-size="10.61" fill="#111" stroke="#111" stroke-width="0.35">I</text>
<text x="203.30" y="377.00" font-size="8.29" transform="rotate(-45 203.30 377.00)" textLength="57.50" lengthAdjust="spacingAndGlyphs" fill="#161616" stroke="#161616" stroke-width="0.12">Luciferase-CFU-E</text>
<text x="228.60" y="377.00" font-size="8.29" transform="rotate(-45 228.60 377.00)" textLength="47.00" lengthAdjust="spacingAndGlyphs" fill="#161616" stroke="#161616" stroke-width="0.12">Marker-CFU-E</text>
<rect x="191.5" y="380.95" width="47.1" height="14.70" fill="url(#gstrip)" stroke="#6e6e6e" stroke-width="0.9"/>
<rect x="195.90" y="386.35" width="16.40" height="4.50" rx="2.25" fill="#050505" filter="url(#bl3)" transform="rotate(0 204.10 388.60)"/>
<rect x="218.30" y="385.85" width="17.30" height="3.90" rx="1.95" fill="#080808" filter="url(#bl3)" transform="rotate(-1.2 226.95 387.80)"/>
<text x="241.50" y="391.00" font-size="8.18" textLength="14.60" lengthAdjust="spacingAndGlyphs" fill="#161616" stroke="#161616" stroke-width="0.12">c-Kit</text>
<rect x="191.5" y="397.25" width="47.1" height="12.60" fill="url(#gstrip)" stroke="#6e6e6e" stroke-width="0.9"/>
<rect x="195.30" y="401.90" width="16.30" height="4.60" rx="2.30" fill="#050505" filter="url(#bl3)" transform="rotate(0 203.45 404.20)"/>
<rect x="217.90" y="402.40" width="15.60" height="3.00" rx="1.50" fill="#9a9a9a" filter="url(#bl3)" transform="rotate(0 225.70 403.90)"/>
<text x="241.50" y="404.30" font-size="8.18" textLength="22.00" lengthAdjust="spacingAndGlyphs" fill="#161616" stroke="#161616" stroke-width="0.12">p-c-Kit</text>
<rect x="191.5" y="411.25" width="47.1" height="14.40" fill="url(#gstrip)" stroke="#6e6e6e" stroke-width="0.9"/>
<rect x="194.50" y="417.85" width="18.40" height="4.70" rx="2.35" fill="#050505" filter="url(#bl3)" transform="rotate(0 203.70 420.20)"/>
<rect x="217.20" y="417.55" width="18.90" height="4.70" rx="2.35" fill="#050505" filter="url(#bl3)" transform="rotate(0 226.65 419.90)"/>
<text x="241.50" y="421.40" font-size="8.18" textLength="13.50" lengthAdjust="spacingAndGlyphs" fill="#161616" stroke="#161616" stroke-width="0.12">AKT</text>
<rect x="191.5" y="427.25" width="47.1" height="13.80" fill="url(#gstrip)" stroke="#6e6e6e" stroke-width="0.9"/>
<rect x="194.90" y="433.15" width="17.30" height="4.30" rx="2.15" fill="#050505" filter="url(#bl3)" transform="rotate(-2.5 203.55 435.30)"/>
<rect x="215.50" y="431.15" width="21.30" height="5.70" rx="2.85" fill="#050505" filter="url(#bl3)" transform="rotate(-1 226.15 434.00)"/>
<text x="241.50" y="435.40" font-size="8.18" textLength="19.70" lengthAdjust="spacingAndGlyphs" fill="#161616" stroke="#161616" stroke-width="0.12">p-AKT</text>
<rect x="191.5" y="442.25" width="47.1" height="13.70" fill="url(#gstrip)" stroke="#6e6e6e" stroke-width="0.9"/>
<rect x="193.70" y="447.65" width="19.00" height="3.70" rx="1.85" fill="#0a0a0a" filter="url(#bl3)" transform="rotate(0 203.20 449.50)"/>
<rect x="216.50" y="447.65" width="18.90" height="3.70" rx="1.85" fill="#0a0a0a" filter="url(#bl3)" transform="rotate(0 225.95 449.50)"/>
<rect x="195" y="445.6" width="17" height="1.8" rx="0.9" fill="#6a6a6a" filter="url(#bl)"/>
<rect x="217.5" y="445.6" width="17" height="1.8" rx="0.9" fill="#6a6a6a" filter="url(#bl)"/>
<text x="241.50" y="449.60" font-size="8.18" textLength="12.80" lengthAdjust="spacingAndGlyphs" fill="#161616" stroke="#161616" stroke-width="0.12">ERK</text>
<rect x="191.5" y="457.35" width="47.1" height="13.50" fill="url(#gstrip)" stroke="#6e6e6e" stroke-width="0.9"/>
<rect x="194.70" y="464.00" width="16.20" height="3.20" rx="1.60" fill="#4a4a4a" filter="url(#bl3)" transform="rotate(-3 202.80 465.60)"/>
<rect x="217.20" y="462.20" width="16.80" height="4.00" rx="2.00" fill="#080808" filter="url(#bl3)" transform="rotate(-1 225.60 464.20)"/>
<text x="241.50" y="466.40" font-size="8.18" textLength="19.70" lengthAdjust="spacingAndGlyphs" fill="#161616" stroke="#161616" stroke-width="0.12">p-ERK</text>
<rect x="191.5" y="472.25" width="47.1" height="13.70" fill="url(#gstrip2)" stroke="#6e6e6e" stroke-width="0.9"/>
<rect x="195.00" y="477.45" width="15.80" height="3.70" rx="1.85" fill="#252525" filter="url(#bl3)" transform="rotate(-1 202.90 479.30)"/>
<rect x="216.90" y="476.40" width="17.10" height="4.20" rx="2.10" fill="#151515" filter="url(#bl3)" transform="rotate(-0.5 225.45 478.50)"/>
<text x="241.50" y="481.90" font-size="8.18" textLength="19.20" lengthAdjust="spacingAndGlyphs" fill="#161616" stroke="#161616" stroke-width="0.12">SHP-1</text>
<rect x="191.5" y="487.35" width="47.1" height="14.60" fill="url(#gstrip)" stroke="#6e6e6e" stroke-width="0.9"/>
<rect x="194.00" y="492.60" width="19.70" height="5.20" rx="2.60" fill="#030303" filter="url(#bl3)" transform="rotate(0 203.85 495.20)"/>
<rect x="215.80" y="493.40" width="20.00" height="5.00" rx="2.50" fill="#030303" filter="url(#bl3)" transform="rotate(0 225.80 495.90)"/>
<text x="241.50" y="497.90" font-size="8.18" textLength="24.50" lengthAdjust="spacingAndGlyphs" fill="#161616" stroke="#161616" stroke-width="0.12">GAPDH</text>
<text x="285.20" y="372.60" font-size="10.61" textLength="4.20" lengthAdjust="spacingAndGlyphs" fill="#111" stroke="#111" stroke-width="0.35">J</text>
<text x="293.50" y="425.00" font-size="10.08" text-anchor="middle" transform="rotate(-90 293.50 425.00)" textLength="88.20" lengthAdjust="spacingAndGlyphs" fill="#161616" stroke="#161616" stroke-width="0.12">Relative protein levels</text>
<text x="310.80" y="471.60" font-size="8.51" text-anchor="end" textLength="10.60" lengthAdjust="spacingAndGlyphs" fill="#161616" stroke="#161616" stroke-width="0.12">0.0</text>
<line x1="312.60" y1="468.80" x2="315.30" y2="468.80" stroke="#111" stroke-width="1.0"/>
<text x="310.80" y="454.70" font-size="8.51" text-anchor="end" textLength="10.60" lengthAdjust="spacingAndGlyphs" fill="#161616" stroke="#161616" stroke-width="0.12">0.5</text>
<line x1="312.60" y1="451.90" x2="315.30" y2="451.90" stroke="#111" stroke-width="1.0"/>
<text x="310.80" y="437.80" font-size="8.51" text-anchor="end" textLength="10.60" lengthAdjust="spacingAndGlyphs" fill="#161616" stroke="#161616" stroke-width="0.12">1.0</text>
<line x1="312.60" y1="435.00" x2="315.30" y2="435.00" stroke="#111" stroke-width="1.0"/>
<text x="310.80" y="420.90" font-size="8.51" text-anchor="end" textLength="10.60" lengthAdjust="spacingAndGlyphs" fill="#161616" stroke="#161616" stroke-width="0.12">1.5</text>
<line x1="312.60" y1="418.10" x2="315.30" y2="418.10" stroke="#111" stroke-width="1.0"/>
<text x="310.80" y="404.00" font-size="8.51" text-anchor="end" textLength="10.60" lengthAdjust="spacingAndGlyphs" fill="#161616" stroke="#161616" stroke-width="0.12">2.0</text>
<line x1="312.60" y1="401.20" x2="315.30" y2="401.20" stroke="#111" stroke-width="1.0"/>
<text x="310.80" y="387.10" font-size="8.51" text-anchor="end" textLength="10.60" lengthAdjust="spacingAndGlyphs" fill="#161616" stroke="#161616" stroke-width="0.12">2.5</text>
<line x1="312.60" y1="384.30" x2="315.30" y2="384.30" stroke="#111" stroke-width="1.0"/>
<rect x="318.50" y="435.00" width="7.10" height="33.80" fill="#2b4a8a"/>
<rect x="327.30" y="440.07" width="7.10" height="28.73" fill="#69aa3e"/>
<line x1="326.20" y1="468.80" x2="326.20" y2="471.50" stroke="#111" stroke-width="1.0"/>
<text x="330.80" y="478.60" font-size="8.06" text-anchor="end" transform="rotate(-45 330.80 478.60)" textLength="18.00" lengthAdjust="spacingAndGlyphs" fill="#161616" stroke="#161616" stroke-width="0.12">c-Kit</text>
<rect x="341.75" y="435.00" width="7.10" height="33.80" fill="#2b4a8a"/>
<rect x="350.55" y="455.96" width="7.10" height="12.84" fill="#69aa3e"/>
<line x1="345.30" y1="435.00" x2="345.30" y2="433.99" stroke="#222" stroke-width="0.9"/>
<line x1="343.55" y1="433.99" x2="347.05" y2="433.99" stroke="#222" stroke-width="0.9"/>
<line x1="354.10" y1="455.96" x2="354.10" y2="454.27" stroke="#222" stroke-width="0.9"/>
<line x1="352.35" y1="454.27" x2="355.85" y2="454.27" stroke="#222" stroke-width="0.9"/>
<line x1="349.45" y1="468.80" x2="349.45" y2="471.50" stroke="#111" stroke-width="1.0"/>
<text x="354.05" y="478.60" font-size="8.06" text-anchor="end" transform="rotate(-45 354.05 478.60)" textLength="24.50" lengthAdjust="spacingAndGlyphs" fill="#161616" stroke="#161616" stroke-width="0.12">p-c-Kit</text>
<rect x="365.00" y="435.00" width="7.10" height="33.80" fill="#2b4a8a"/>
<rect x="373.80" y="428.92" width="7.10" height="39.88" fill="#69aa3e"/>
<line x1="372.70" y1="468.80" x2="372.70" y2="471.50" stroke="#111" stroke-width="1.0"/>
<text x="377.30" y="478.60" font-size="8.06" text-anchor="end" transform="rotate(-45 377.30 478.60)" textLength="13.50" lengthAdjust="spacingAndGlyphs" fill="#161616" stroke="#161616" stroke-width="0.12">AKT</text>
<rect x="388.25" y="435.00" width="7.10" height="33.80" fill="#2b4a8a"/>
<rect x="397.05" y="404.58" width="7.10" height="64.22" fill="#69aa3e"/>
<line x1="391.80" y1="435.00" x2="391.80" y2="430.61" stroke="#222" stroke-width="0.9"/>
<line x1="390.05" y1="430.61" x2="393.55" y2="430.61" stroke="#222" stroke-width="0.9"/>
<line x1="400.60" y1="404.58" x2="400.60" y2="398.83" stroke="#222" stroke-width="0.9"/>
<line x1="398.85" y1="398.83" x2="402.35" y2="398.83" stroke="#222" stroke-width="0.9"/>
<line x1="395.95" y1="468.80" x2="395.95" y2="471.50" stroke="#111" stroke-width="1.0"/>
<text x="400.55" y="478.60" font-size="8.06" text-anchor="end" transform="rotate(-45 400.55 478.60)" textLength="21.00" lengthAdjust="spacingAndGlyphs" fill="#161616" stroke="#161616" stroke-width="0.12">p-AKT</text>
<rect x="411.50" y="435.00" width="7.10" height="33.80" fill="#2b4a8a"/>
<rect x="420.30" y="435.00" width="7.10" height="33.80" fill="#69aa3e"/>
<line x1="423.85" y1="435.00" x2="423.85" y2="434.32" stroke="#222" stroke-width="0.9"/>
<line x1="422.10" y1="434.32" x2="425.60" y2="434.32" stroke="#222" stroke-width="0.9"/>
<line x1="419.20" y1="468.80" x2="419.20" y2="471.50" stroke="#111" stroke-width="1.0"/>
<text x="423.80" y="478.60" font-size="8.06" text-anchor="end" transform="rotate(-45 423.80 478.60)" textLength="12.80" lengthAdjust="spacingAndGlyphs" fill="#161616" stroke="#161616" stroke-width="0.12">ERK</text>
<rect x="434.75" y="435.00" width="7.10" height="33.80" fill="#2b4a8a"/>
<rect x="443.55" y="417.42" width="7.10" height="51.38" fill="#69aa3e"/>
<line x1="447.10" y1="417.42" x2="447.10" y2="413.71" stroke="#222" stroke-width="0.9"/>
<line x1="445.35" y1="413.71" x2="448.85" y2="413.71" stroke="#222" stroke-width="0.9"/>
<line x1="442.45" y1="468.80" x2="442.45" y2="471.50" stroke="#111" stroke-width="1.0"/>
<text x="447.05" y="478.60" font-size="8.06" text-anchor="end" transform="rotate(-45 447.05 478.60)" textLength="21.00" lengthAdjust="spacingAndGlyphs" fill="#161616" stroke="#161616" stroke-width="0.12">p-ERK</text>
<rect x="458.00" y="435.00" width="7.10" height="33.80" fill="#2b4a8a"/>
<rect x="466.80" y="427.23" width="7.10" height="41.57" fill="#69aa3e"/>
<line x1="470.35" y1="427.23" x2="470.35" y2="423.51" stroke="#222" stroke-width="0.9"/>
<line x1="468.60" y1="423.51" x2="472.10" y2="423.51" stroke="#222" stroke-width="0.9"/>
<line x1="465.70" y1="468.80" x2="465.70" y2="471.50" stroke="#111" stroke-width="1.0"/>
<text x="470.30" y="478.60" font-size="8.06" text-anchor="end" transform="rotate(-45 470.30 478.60)" textLength="22.00" lengthAdjust="spacingAndGlyphs" fill="#161616" stroke="#161616" stroke-width="0.12">SHP-1</text>
<line x1="315.30" y1="381.00" x2="315.30" y2="469.40" stroke="#111" stroke-width="1.2"/>
<line x1="315.30" y1="468.80" x2="476.00" y2="468.80" stroke="#111" stroke-width="1.2"/>
<line x1="344.80" y1="430.60" x2="355.40" y2="430.60" stroke="#222" stroke-width="1.0"/>
<text x="350.10" y="430.00" font-size="7.28" text-anchor="middle" fill="#161616" stroke="#161616" stroke-width="0.12">*</text>
<line x1="391.40" y1="396.30" x2="402.00" y2="396.30" stroke="#222" stroke-width="1.0"/>
<text x="396.70" y="395.70" font-size="7.28" text-anchor="middle" fill="#161616" stroke="#161616" stroke-width="0.12">*</text>
<line x1="438.20" y1="410.40" x2="449.00" y2="410.40" stroke="#222" stroke-width="1.0"/>
<text x="443.60" y="409.80" font-size="7.28" text-anchor="middle" fill="#161616" stroke="#161616" stroke-width="0.12">*</text>
<rect x="321.20" y="383.50" width="10.70" height="5.60" fill="#2b4a8a"/>
<rect x="321.20" y="392.10" width="10.70" height="5.60" fill="#69aa3e"/>
<text x="335.20" y="389.20" font-size="7.84" textLength="52.80" lengthAdjust="spacingAndGlyphs" fill="#161616" stroke="#161616" stroke-width="0.12">Luciferase-CFU-E</text>
<text x="335.20" y="397.80" font-size="7.84" textLength="42.30" lengthAdjust="spacingAndGlyphs" fill="#161616" stroke="#161616" stroke-width="0.12">Marker-CFU-E</text>
<rect x="0.70" y="0.70" width="518.60" height="508.60" fill="none" stroke="#000" stroke-width="1.4"/>
</svg></body></html>
